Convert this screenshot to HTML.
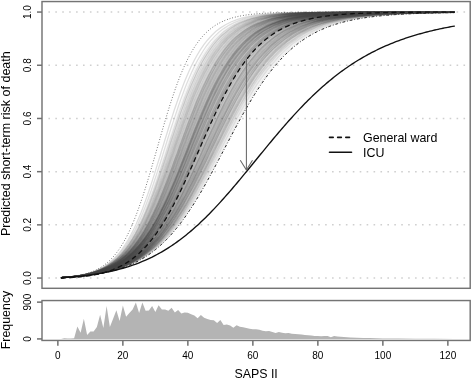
<!DOCTYPE html><html><head><meta charset="utf-8"><style>html,body{margin:0;padding:0;background:#fff;overflow:hidden}svg{display:block;filter:grayscale(1)}</style></head><body><svg width="472" height="380" viewBox="0 0 472 380" font-family='"Liberation Sans", sans-serif'>
<rect width="472" height="380" fill="#fff"/>
<line x1="48.4" y1="278.06" x2="470" y2="278.06" stroke="#cfcfcf" stroke-width="1.5" stroke-dasharray="1.6 5.318"/>
<line x1="48.4" y1="224.86" x2="470" y2="224.86" stroke="#cfcfcf" stroke-width="1.5" stroke-dasharray="1.6 5.318"/>
<line x1="48.4" y1="171.66" x2="470" y2="171.66" stroke="#cfcfcf" stroke-width="1.5" stroke-dasharray="1.6 5.318"/>
<line x1="48.4" y1="118.46" x2="470" y2="118.46" stroke="#cfcfcf" stroke-width="1.5" stroke-dasharray="1.6 5.318"/>
<line x1="48.4" y1="65.26" x2="470" y2="65.26" stroke="#cfcfcf" stroke-width="1.5" stroke-dasharray="1.6 5.318"/>
<line x1="48.4" y1="12.06" x2="470" y2="12.06" stroke="#cfcfcf" stroke-width="1.5" stroke-dasharray="1.6 5.318"/>
<defs><filter id="cap" filterUnits="userSpaceOnUse" x="0" y="0" width="472" height="380" color-interpolation-filters="sRGB"><feComponentTransfer><feFuncA type="table" tableValues="0 0.1 0.2 0.3 0.4 0.5 0.6 0.68 0.72 0.74 0.75"/></feComponentTransfer></filter></defs>
<g fill="none" stroke="#000" stroke-width="1.3" filter="url(#cap)">
<path d="M61.1 277.6l2.4-.2 6-.4 5.9-.6 6-.8 5.9-.9 5.9-1.2 5.8-1.5 5.7-1.8 5.6-2.2 5.4-2.6 5.2-3 4.9-3.4 4.7-3.7 4.4-4.1 4.1-4.4 3.9-4.6 3.6-4.7 3.4-5 3.3-5 3-5.2 3-5.2 2.8-5.3 2.7-5.4 2.6-5.4 2.5-5.4 2.5-5.5 2.4-5.5 2.3-5.5 2.3-5.6 2.3-5.5 2.3-5.6 2.2-5.5 2.2-5.6 2.3-5.6 2.2-5.5 2.2-5.6 2.3-5.6 2.3-5.5 2.3-5.6 2.3-5.5 2.4-5.5 2.5-5.4 2.5-5.5 2.6-5.4 2.7-5.4 2.8-5.3 2.9-5.2 3-5.2 3.2-5.1 3.4-4.9 3.5-4.9 3.8-4.6 4-4.5 4.3-4.2 4.5-4 4.7-3.7 5-3.3 5.3-2.9 5.4-2.6 5.6-2.2 5.7-1.9 5.8-1.5 5.8-1.3 5.9-1.1 5.9-.9 6-.7 6-.6 6-.5 5.9-.4 6-.3 6-.2 6-.2 6-.2 6-.1 6-.2 6 0 6-.1 6-.1 6 0 6-.1 6 0 6 0 6 0 6-.1 6 0 6 0 6 0 6 0 6 0 3.1 0" stroke-opacity="0.041"/>
<path d="M61.1 277.6l.8 0 5.9-.5 6-.5 6-.6 5.9-.9 5.9-1 5.9-1.3 5.8-1.5 5.7-1.9 5.5-2.3 5.4-2.6 5.2-3.1 5-3.3 4.6-3.8 4.5-4 4.2-4.3 3.9-4.6 3.7-4.7 3.5-4.8 3.4-5 3.1-5.1 3.1-5.2 2.9-5.2 2.8-5.3 2.7-5.4 2.6-5.4 2.6-5.4 2.5-5.4 2.5-5.5 2.4-5.5 2.4-5.5 2.3-5.5 2.4-5.6 2.3-5.5 2.4-5.5 2.3-5.5 2.3-5.6 2.4-5.5 2.4-5.5 2.4-5.5 2.5-5.4 2.5-5.5 2.5-5.4 2.7-5.4 2.7-5.4 2.8-5.3 2.9-5.2 3-5.2 3.1-5.1 3.3-5 3.5-5 3.6-4.7 3.8-4.6 4.1-4.4 4.3-4.2 4.5-4 4.8-3.6 5-3.3 5.2-3 5.4-2.6 5.6-2.3 5.6-1.9 5.8-1.7 5.8-1.4 5.9-1.1 5.9-1 6-.8 6-.7 5.9-.5 6-.5 6-.3 6-.3 6-.3 6-.2 6-.2 6-.1 6-.1 6-.1 6-.1 6-.1 6 0 6 0 6-.1 6 0 6 0 6-.1 6 0 6 0 6 0 1 0" stroke-opacity="0.013"/>
<path d="M61.1 277.6l3-.2 6-.5 6-.7 5.9-.8 5.9-1 5.9-1.4 5.7-1.6 5.7-2.1 5.4-2.5 5.2-2.9 5-3.4 4.7-3.8 4.3-4.1 4.1-4.4 3.8-4.6 3.6-4.9 3.3-4.9 3.1-5.2 3-5.2 2.8-5.3 2.7-5.3 2.6-5.4 2.5-5.5 2.4-5.5 2.4-5.5 2.2-5.6 2.3-5.5 2.2-5.6 2.1-5.6 2.2-5.6 2.1-5.6 2.1-5.7 2.1-5.6 2.1-5.6 2.1-5.6 2.2-5.6 2.1-5.6 2.2-5.6 2.2-5.6 2.3-5.5 2.3-5.6 2.4-5.5 2.5-5.4 2.6-5.5 2.6-5.3 2.8-5.4 2.9-5.2 3.1-5.2 3.2-5 3.4-4.9 3.7-4.8 3.9-4.5 4.2-4.4 4.4-4 4.7-3.7 5-3.3 5.2-3 5.5-2.5 5.6-2.2 5.7-1.8 5.8-1.5 5.9-1.2 5.9-1 5.9-.8 6-.6 6-.6 5.9-.4 6-.3 6-.3 6-.2 6-.2 6-.1 6-.1 6-.1 6-.1 6 0 6-.1 6 0 6 0 6 0 6-.1 6 0 6 0 6 0 6 0 6 0 6 0 6 0 6 0 6 0 .7 0" stroke-opacity="0.026"/>
<path d="M61.1 277.6l1.1-.1 6-.4 5.9-.5 6-.6 5.9-.8 6-.9 5.9-1.2 5.8-1.4 5.7-1.7 5.7-2 5.5-2.4 5.3-2.8 5.2-3 4.9-3.5 4.7-3.7 4.4-4.1 4.2-4.2 4-4.5 3.8-4.7 3.6-4.8 3.4-4.9 3.3-5 3.1-5.1 3-5.2 3-5.3 2.8-5.3 2.7-5.3 2.7-5.4 2.6-5.4 2.6-5.4 2.6-5.4 2.5-5.5 2.4-5.4 2.5-5.5 2.5-5.5 2.4-5.4 2.5-5.5 2.5-5.5 2.4-5.4 2.6-5.5 2.5-5.4 2.6-5.4 2.6-5.4 2.7-5.4 2.8-5.3 2.8-5.3 3-5.2 3-5.2 3.2-5.1 3.2-5 3.5-5 3.6-4.8 3.7-4.6 4-4.6 4.1-4.3 4.4-4.1 4.6-3.8 4.8-3.6 5.1-3.3 5.2-2.9 5.4-2.6 5.5-2.3 5.7-2 5.7-1.7 5.9-1.5 5.8-1.3 5.9-1 6-.9 5.9-.7 6-.6 6-.5 6-.4 5.9-.4 6-.3 6-.2 6-.2 6-.2 6-.2 6-.1 6-.1 6 0 6-.1 6-.1 6 0 6-.1 6 0 6 0 6 0 2.5 0" stroke-opacity="0.132"/>
<path d="M61.1 277.6l2.9-.2 6-.4 6-.5 5.9-.7 6-.8 5.9-1 5.9-1.3 5.8-1.4 5.7-1.8 5.6-2.1 5.5-2.5 5.3-2.8 5.1-3.2 4.9-3.5 4.6-3.8 4.4-4.1 4.2-4.3 3.9-4.5 3.8-4.7 3.5-4.8 3.4-4.9 3.3-5.1 3.1-5.1 3-5.2 2.9-5.3 2.8-5.2 2.8-5.4 2.7-5.3 2.6-5.4 2.6-5.5 2.5-5.4 2.5-5.4 2.5-5.5 2.5-5.5 2.5-5.4 2.4-5.5 2.5-5.5 2.5-5.4 2.5-5.5 2.5-5.4 2.6-5.4 2.6-5.4 2.7-5.4 2.7-5.4 2.8-5.3 2.9-5.2 2.9-5.3 3.1-5.1 3.2-5.1 3.3-5 3.5-4.9 3.6-4.8 3.8-4.6 4-4.5 4.3-4.2 4.4-4.1 4.6-3.8 4.9-3.5 5.1-3.2 5.3-2.8 5.4-2.6 5.5-2.2 5.7-2 5.8-1.7 5.8-1.4 5.9-1.2 5.9-1 5.9-.9 6-.7 6-.6 5.9-.5 6-.4 6-.3 6-.3 6-.3 6-.2 6-.1 6-.2 6-.1 6-.1 6 0 6-.1 6-.1 6 0 6-.1 6 0 6 0 6 0 .2 0" stroke-opacity="0.034"/>
<path d="M61.1 277.6l4-.3 6-.5 6-.7 5.9-.8 5.9-1.1 5.8-1.4 5.8-1.7 5.6-2.1 5.4-2.6 5.2-3 5-3.4 4.6-3.8 4.4-4.1 4-4.4 3.8-4.7 3.5-4.8 3.3-5 3.2-5.1 2.9-5.3 2.9-5.3 2.6-5.3 2.6-5.4 2.5-5.5 2.4-5.5 2.4-5.5 2.3-5.6 2.2-5.5 2.2-5.6 2.2-5.6 2.1-5.6 2.1-5.6 2.2-5.6 2.1-5.6 2.1-5.7 2.1-5.6 2.2-5.6 2.2-5.6 2.2-5.5 2.2-5.6 2.3-5.6 2.3-5.5 2.4-5.5 2.5-5.4 2.6-5.5 2.7-5.3 2.8-5.3 2.9-5.3 3.1-5.1 3.3-5 3.4-4.9 3.7-4.8 3.9-4.5 4.2-4.3 4.5-4 4.8-3.6 5-3.3 5.2-3 5.5-2.5 5.6-2.1 5.7-1.8 5.8-1.4 5.9-1.3 5.9-.9 6-.8 5.9-.7 6-.5 6-.4 6-.3 6-.3 6-.2 6-.2 6-.1 6-.1 6-.1 6-.1 6 0 6-.1 6 0 6 0 6 0 6-.1 6 0 6 0 6 0 6 0 6 0 6 0 6 0 6 0 5.3 0" stroke-opacity="0.046"/>
<path d="M61.1 277.6l3.2-.2 5.9-.5 6-.6 6-.7 5.9-.9 5.9-1.2 5.8-1.5 5.7-1.7 5.6-2.2 5.5-2.5 5.2-2.9 5-3.3 4.8-3.7 4.5-3.9 4.2-4.3 3.9-4.5 3.8-4.7 3.5-4.9 3.3-5 3.2-5.1 3-5.1 2.9-5.3 2.8-5.3 2.7-5.4 2.6-5.4 2.5-5.4 2.5-5.5 2.4-5.5 2.4-5.5 2.3-5.5 2.3-5.6 2.3-5.5 2.3-5.5 2.3-5.6 2.3-5.5 2.3-5.6 2.3-5.5 2.3-5.6 2.4-5.5 2.4-5.5 2.4-5.4 2.5-5.5 2.6-5.4 2.6-5.4 2.7-5.4 2.9-5.3 2.9-5.2 3-5.2 3.3-5 3.3-5 3.6-4.8 3.7-4.7 4-4.5 4.2-4.3 4.5-4 4.7-3.7 4.9-3.4 5.2-3 5.4-2.7 5.5-2.4 5.6-2 5.8-1.7 5.8-1.4 5.9-1.1 5.9-1 6-.8 5.9-.7 6-.5 6-.5 6-.3 6-.3 6-.3 6-.2 6-.1 6-.2 6-.1 6 0 6-.1 6-.1 6 0 6-.1 6 0 6 0 6 0 6-.1 6 0 6 0 6 0 6 0 .3 0" stroke-opacity="0.049"/>
<path d="M61.1 277.6l3.1-.3 6-.5 5.9-.7 6-1 5.8-1.3 5.8-1.6 5.6-2.1 5.4-2.6 5.1-3.2 4.8-3.6 4.4-4 4.1-4.4 3.8-4.7 3.4-4.9 3.3-5 2.9-5.3 2.8-5.3 2.7-5.4 2.5-5.4 2.3-5.5 2.3-5.6 2.2-5.6 2.1-5.6 2.1-5.6 2-5.7 2-5.6 1.9-5.7 1.9-5.7 1.9-5.7 1.9-5.7 1.8-5.7 1.9-5.7 1.9-5.7 1.9-5.7 1.9-5.7 1.9-5.7 1.9-5.6 2-5.7 2.1-5.6 2.1-5.6 2.2-5.6 2.2-5.6 2.4-5.5 2.4-5.5 2.6-5.4 2.7-5.4 2.9-5.2 3.1-5.1 3.4-5 3.6-4.8 3.8-4.6 4.2-4.3 4.6-3.9 4.8-3.6 5.1-3.1 5.4-2.6 5.6-2.2 5.8-1.7 5.8-1.4 5.9-1.1 5.9-.9 6-.7 6-.5 6-.4 5.9-.4 6-.2 6-.2 6-.1 6-.1 6-.1 6-.1 6-.1 6 0 6 0 6-.1 6 0 6 0 6 0 6 0 6 0 6 0 6 0 6 0 6 0 6 0 6 0 6 0 6 0 6 0 6 0 6 0 3.6 0" stroke-opacity="0.099"/>
<path d="M61.1 277.6l3.2-.2 6-.5 6-.6 5.9-.9 5.9-1 5.9-1.3 5.8-1.6 5.6-2 5.5-2.4 5.3-2.8 5-3.3 4.8-3.7 4.4-4 4.2-4.3 3.9-4.5 3.7-4.8 3.4-4.9 3.2-5.1 3.1-5.1 2.9-5.3 2.8-5.3 2.6-5.4 2.6-5.4 2.4-5.5 2.5-5.5 2.3-5.5 2.3-5.6 2.2-5.5 2.2-5.6 2.2-5.6 2.2-5.6 2.2-5.6 2.1-5.6 2.2-5.6 2.1-5.6 2.2-5.6 2.2-5.5 2.2-5.6 2.3-5.6 2.3-5.5 2.4-5.5 2.4-5.5 2.5-5.5 2.5-5.4 2.7-5.4 2.8-5.3 2.9-5.2 3.1-5.2 3.2-5 3.4-5 3.7-4.7 3.8-4.6 4.2-4.4 4.3-4.1 4.7-3.8 4.9-3.4 5.2-3 5.4-2.7 5.5-2.3 5.7-1.9 5.8-1.7 5.8-1.3 5.9-1.1 5.9-.8 6-.8 6-.5 6-.5 5.9-.4 6-.3 6-.2 6-.2 6-.2 6-.1 6-.1 6-.1 6-.1 6 0 6-.1 6 0 6 0 6 0 6-.1 6 0 6 0 6 0 6 0 6 0 6 0 6 0 4.9 0" stroke-opacity="0.065"/>
<path d="M61.1 277.6l4.7-.3 6-.5 6-.5 6-.7 5.9-.9 5.9-1 5.9-1.3 5.8-1.5 5.7-1.9 5.6-2.1 5.4-2.6 5.3-2.8 5.1-3.2 4.8-3.6 4.6-3.8 4.4-4.1 4.1-4.3 4-4.6 3.7-4.6 3.6-4.9 3.4-4.9 3.3-5 3.1-5.2 3-5.1 2.9-5.3 2.9-5.3 2.7-5.3 2.7-5.4 2.7-5.3 2.6-5.5 2.5-5.4 2.6-5.4 2.5-5.5 2.5-5.4 2.5-5.5 2.5-5.4 2.5-5.5 2.5-5.4 2.5-5.5 2.6-5.4 2.6-5.4 2.6-5.4 2.7-5.3 2.8-5.4 2.8-5.3 2.9-5.2 3-5.2 3.1-5.1 3.3-5.1 3.3-5 3.5-4.8 3.7-4.8 3.9-4.6 4-4.4 4.3-4.2 4.4-4.1 4.7-3.7 4.9-3.5 5.1-3.1 5.3-2.9 5.4-2.5 5.6-2.2 5.7-2 5.7-1.6 5.9-1.4 5.8-1.2 6-1 5.9-.9 6-.7 5.9-.6 6-.5 6-.4 6-.4 6-.3 6-.2 6-.2 6-.2 6-.1 6-.1 6-.1 6-.1 6-.1 6-.1 6 0 6 0 6-.1 6 0 3.5 0" stroke-opacity="0.134"/>
<path d="M61.1 277.6l1.1 0 6-.4 6-.5 5.9-.5 6-.7 5.9-.8 6-1 5.8-1.2 5.9-1.4 5.7-1.7 5.7-2 5.5-2.2 5.5-2.6 5.2-2.9 5.1-3.2 4.9-3.5 4.6-3.8 4.5-4 4.2-4.2 4.1-4.5 3.9-4.5 3.7-4.7 3.6-4.9 3.4-4.9 3.3-5 3.2-5.1 3.1-5.1 3-5.2 2.9-5.2 2.9-5.3 2.8-5.3 2.8-5.3 2.8-5.4 2.7-5.3 2.7-5.4 2.6-5.3 2.7-5.4 2.7-5.4 2.7-5.3 2.7-5.4 2.7-5.4 2.7-5.3 2.8-5.3 2.8-5.3 2.9-5.3 2.9-5.2 3-5.2 3.1-5.2 3.2-5.1 3.2-5 3.4-4.9 3.5-4.9 3.7-4.8 3.8-4.6 4-4.5 4.1-4.3 4.3-4.2 4.6-3.9 4.7-3.7 4.9-3.5 5.1-3.2 5.2-2.9 5.4-2.6 5.6-2.3 5.6-2 5.7-1.8 5.8-1.6 5.9-1.3 5.9-1.2 5.9-1 5.9-.8 6-.7 5.9-.6 6-.6 6-.4 6-.4 6-.3 6-.3 6-.2 6-.2 6-.1 6-.2 6-.1 6-.1 6-.1 6 0 6-.1 1.3 0" stroke-opacity="0.028"/>
<path d="M61.1 277.6l.7 0 6-.4 6-.5 5.9-.6 6-.7 5.9-.9 5.9-1.1 5.9-1.3 5.8-1.5 5.7-1.9 5.6-2.2 5.4-2.5 5.3-2.9 5.1-3.1 4.8-3.6 4.7-3.8 4.4-4 4.2-4.3 4-4.5 3.7-4.7 3.7-4.7 3.4-5 3.3-5 3.2-5 3.1-5.2 3-5.2 2.8-5.3 2.9-5.3 2.7-5.3 2.7-5.4 2.7-5.3 2.6-5.4 2.6-5.4 2.5-5.5 2.6-5.4 2.5-5.4 2.6-5.5 2.5-5.4 2.6-5.4 2.6-5.4 2.6-5.4 2.6-5.4 2.7-5.4 2.7-5.3 2.8-5.3 2.9-5.3 3-5.2 3-5.2 3.2-5.1 3.2-5 3.4-5 3.6-4.8 3.7-4.8 3.8-4.5 4.1-4.4 4.3-4.3 4.4-4 4.7-3.7 4.9-3.5 5.1-3.2 5.3-2.8 5.4-2.6 5.5-2.3 5.7-2 5.8-1.7 5.8-1.4 5.8-1.3 5.9-1 6-.9 5.9-.8 6-.6 6-.6 6-.4 5.9-.4 6-.3 6-.3 6-.2 6-.2 6-.1 6-.2 6-.1 6-.1 6 0 6-.1 6-.1 6 0 6 0 6-.1" stroke-opacity="0.149"/>
<path d="M61.1 277.6l5.6-.4 6-.6 6-.8 5.9-1 5.8-1.3 5.8-1.6 5.7-2.1 5.4-2.5 5.2-2.9 4.9-3.5 4.6-3.8 4.3-4.3 3.9-4.5 3.7-4.7 3.4-5 3.2-5 3-5.2 2.8-5.3 2.7-5.4 2.5-5.4 2.5-5.5 2.3-5.5 2.3-5.6 2.2-5.6 2.2-5.6 2.1-5.6 2.1-5.6 2-5.6 2-5.7 2-5.6 2-5.7 2-5.7 2-5.6 2-5.7 2.1-5.6 2-5.7 2.1-5.6 2.1-5.6 2.2-5.6 2.2-5.6 2.3-5.5 2.3-5.5 2.5-5.5 2.5-5.5 2.7-5.3 2.8-5.3 3-5.2 3.1-5.1 3.4-5 3.6-4.8 3.9-4.6 4.1-4.3 4.5-4 4.7-3.7 5.1-3.3 5.3-2.8 5.4-2.4 5.7-2 5.8-1.7 5.8-1.3 5.9-1.1 6-.8 5.9-.7 6-.5 6-.5 6-.3 6-.3 6-.2 6-.1 6-.2 6-.1 6 0 6-.1 6-.1 6 0 6 0 6 0 6-.1 6 0 6 0 6 0 6 0 6 0 6 0 6 0 6 0 6 0 6 0 6 0 6 0 2.2 0" stroke-opacity="0.041"/>
<path d="M61.1 277.6l5.8-.4 6-.6 5.9-.7 6-1 5.8-1.2 5.9-1.5 5.6-1.9 5.6-2.3 5.3-2.7 5.1-3.2 4.8-3.6 4.5-4 4.2-4.3 3.9-4.6 3.6-4.7 3.4-5 3.2-5 3-5.2 2.9-5.3 2.7-5.4 2.6-5.4 2.5-5.4 2.4-5.5 2.4-5.5 2.3-5.6 2.2-5.5 2.2-5.6 2.1-5.6 2.2-5.6 2.1-5.6 2.1-5.7 2.1-5.6 2-5.6 2.1-5.6 2.1-5.7 2.2-5.6 2.1-5.6 2.2-5.6 2.3-5.5 2.2-5.6 2.4-5.5 2.4-5.5 2.5-5.4 2.6-5.5 2.7-5.3 2.8-5.3 3-5.2 3.1-5.1 3.4-5 3.5-4.8 3.8-4.7 4.1-4.4 4.3-4.2 4.6-3.8 4.9-3.5 5.1-3.1 5.3-2.7 5.6-2.3 5.7-2 5.7-1.6 5.9-1.3 5.9-1 5.9-.9 6-.7 6-.5 6-.5 5.9-.3 6-.3 6-.2 6-.2 6-.2 6-.1 6-.1 6 0 6-.1 6-.1 6 0 6 0 6 0 6-.1 6 0 6 0 6 0 6 0 6 0 6 0 6 0 6 0 6 0 4.6 0" stroke-opacity="0.038"/>
<path d="M61.1 277.6l3-.2 6-.5 6-.7 5.9-.8 5.9-1.1 5.9-1.4 5.7-1.8 5.6-2.1 5.4-2.6 5.2-3.1 4.8-3.5 4.6-3.9 4.3-4.2 3.9-4.5 3.7-4.7 3.5-4.9 3.2-5.1 3-5.2 2.9-5.2 2.7-5.4 2.6-5.4 2.5-5.4 2.5-5.5 2.3-5.6 2.3-5.5 2.2-5.6 2.2-5.6 2.1-5.6 2.1-5.6 2.1-5.6 2.1-5.6 2-5.7 2.1-5.6 2.1-5.6 2-5.7 2.1-5.6 2.2-5.6 2.1-5.6 2.2-5.6 2.2-5.6 2.3-5.5 2.4-5.5 2.5-5.5 2.5-5.4 2.6-5.4 2.8-5.4 2.9-5.2 3.1-5.2 3.2-5 3.5-4.9 3.7-4.7 3.9-4.5 4.2-4.3 4.5-4 4.8-3.6 5.1-3.2 5.3-2.8 5.5-2.4 5.7-2 5.7-1.7 5.9-1.3 5.9-1.1 5.9-.9 6-.7 5.9-.6 6-.5 6-.3 6-.3 6-.2 6-.2 6-.2 6-.1 6-.1 6-.1 6 0 6-.1 6 0 6 0 6 0 6-.1 6 0 6 0 6 0 6 0 6 0 6 0 6 0 6 0 6 0 6 0 2.3 0" stroke-opacity="0.080"/>
<path d="M61.1 277.6l5.5-.5 6-.6 5.9-.8 5.9-1.2 5.8-1.5 5.7-1.9 5.5-2.4 5.2-3 4.8-3.5 4.6-3.9 4.1-4.3 3.8-4.7 3.5-4.9 3.2-5 3-5.2 2.8-5.4 2.6-5.4 2.5-5.4 2.3-5.5 2.3-5.6 2.1-5.6 2.1-5.6 2-5.7 2-5.7 1.9-5.6 1.9-5.7 1.8-5.7 1.9-5.8 1.8-5.7 1.8-5.7 1.8-5.7 1.8-5.7 1.8-5.7 1.9-5.8 1.9-5.7 1.8-5.7 2-5.6 2-5.7 2-5.6 2.1-5.7 2.2-5.6 2.2-5.5 2.4-5.5 2.5-5.5 2.6-5.4 2.8-5.3 3-5.2 3.2-5.1 3.4-4.9 3.8-4.7 4-4.4 4.5-4 4.7-3.7 5.1-3.2 5.3-2.7 5.6-2.2 5.7-1.9 5.8-1.4 5.9-1.1 6-.9 5.9-.7 6-.5 6-.4 6-.3 6-.3 6-.1 6-.2 6-.1 6-.1 6 0 6-.1 6 0 6 0 6-.1 6 0 6 0 6 0 6 0 6 0 6 0 6 0 6 0 6 0 6 0 6 0 6 0 6 0 6 0 6 0 6 0 6 0 3.3 0" stroke-opacity="0.014"/>
<path d="M61.1 277.6l1.9-.1 6-.5 6-.6 5.9-.7 5.9-.9 5.9-1.2 5.8-1.5 5.7-1.8 5.6-2.2 5.4-2.6 5.2-3.1 4.9-3.4 4.7-3.8 4.3-4.1 4.1-4.4 3.9-4.6 3.6-4.8 3.3-5 3.3-5 3-5.2 2.9-5.3 2.8-5.3 2.6-5.3 2.6-5.5 2.5-5.4 2.4-5.5 2.4-5.5 2.3-5.5 2.3-5.6 2.3-5.6 2.2-5.5 2.2-5.6 2.3-5.6 2.2-5.6 2.2-5.5 2.2-5.6 2.2-5.6 2.3-5.5 2.3-5.6 2.3-5.5 2.4-5.5 2.4-5.5 2.5-5.4 2.6-5.5 2.7-5.3 2.8-5.4 2.9-5.2 3-5.2 3.2-5.1 3.3-4.9 3.6-4.9 3.8-4.6 4-4.5 4.2-4.2 4.5-4 4.8-3.6 5-3.3 5.3-2.9 5.4-2.6 5.6-2.1 5.7-1.9 5.8-1.5 5.9-1.3 5.9-1 5.9-.9 6-.7 6-.5 5.9-.5 6-.4 6-.3 6-.2 6-.2 6-.2 6-.1 6-.1 6-.1 6 0 6-.1 6 0 6-.1 6 0 6 0 6-.1 6 0 6 0 6 0 6 0 6 0 6 0 4.3 0" stroke-opacity="0.094"/>
<path d="M61.1 277.6l.4 0 6-.4 6-.6 5.9-.6 6-.8 5.9-1.1 5.9-1.2 5.7-1.6 5.7-1.9 5.6-2.2 5.4-2.7 5.2-3 4.9-3.4 4.7-3.7 4.4-4.1 4.2-4.3 3.9-4.5 3.8-4.7 3.5-4.9 3.3-5 3.2-5.1 3-5.1 2.9-5.3 2.8-5.3 2.7-5.4 2.6-5.4 2.6-5.4 2.5-5.4 2.4-5.5 2.4-5.5 2.4-5.5 2.4-5.5 2.3-5.6 2.3-5.5 2.3-5.5 2.4-5.6 2.3-5.5 2.4-5.5 2.3-5.5 2.5-5.5 2.4-5.5 2.5-5.4 2.6-5.5 2.6-5.4 2.7-5.3 2.8-5.3 2.9-5.3 3-5.2 3.1-5.1 3.3-5 3.4-4.9 3.7-4.8 3.8-4.6 4.1-4.4 4.2-4.2 4.6-4 4.8-3.6 5-3.3 5.2-3 5.4-2.6 5.5-2.3 5.7-1.9 5.8-1.7 5.8-1.3 5.9-1.2 5.9-1 6-.8 5.9-.6 6-.6 6-.4 6-.4 6-.3 6-.2 5.9-.2 6-.2 6-.1 6-.1 6-.1 6-.1 6-.1 6 0 6-.1 6 0 6 0 6 0 6-.1 6 0 6 0 6 0 1.7 0" stroke-opacity="0.042"/>
<path d="M61.1 277.6l2.8-.3 6-.5 5.9-.8 5.9-1 5.9-1.4 5.7-1.8 5.5-2.4 5.2-2.9 4.9-3.5 4.6-3.9 4.1-4.3 3.8-4.7 3.4-4.9 3.2-5.1 2.9-5.2 2.7-5.4 2.6-5.4 2.4-5.5 2.3-5.6 2.1-5.6 2.1-5.6 2-5.6 2-5.7 1.9-5.7 1.8-5.7 1.9-5.7 1.7-5.8 1.8-5.7 1.8-5.7 1.7-5.8 1.8-5.7 1.7-5.7 1.8-5.8 1.7-5.7 1.8-5.7 1.9-5.8 1.8-5.7 1.9-5.6 2-5.7 2-5.7 2.1-5.6 2.2-5.6 2.3-5.5 2.4-5.5 2.5-5.5 2.7-5.3 2.9-5.3 3.1-5.1 3.4-5 3.7-4.7 4-4.5 4.3-4.1 4.8-3.7 5-3.2 5.4-2.7 5.5-2.2 5.8-1.8 5.8-1.4 5.9-1.1 6-.8 5.9-.6 6-.5 6-.4 6-.3 6-.2 6-.1 6-.2 6-.1 6 0 6-.1 6 0 6 0 6-.1 6 0 6 0 6 0 6 0 6 0 6 0 6 0 6 0 6 0 6 0 6 0 6 0 6 0 6 0 6 0 6 0 6 0 6 0 6 0 2.6 0" stroke-opacity="0.135"/>
<path d="M61.1 277.6l4.6-.3 5.9-.5 6-.6 6-.7 5.9-.9 5.9-1.1 5.8-1.4 5.8-1.7 5.7-2 5.5-2.3 5.3-2.8 5.1-3.1 4.9-3.4 4.7-3.8 4.4-4.1 4.2-4.3 3.9-4.5 3.7-4.7 3.6-4.9 3.3-4.9 3.3-5.1 3-5.2 3-5.2 2.8-5.3 2.8-5.3 2.7-5.3 2.6-5.4 2.6-5.5 2.5-5.4 2.4-5.5 2.5-5.5 2.4-5.5 2.4-5.5 2.4-5.5 2.4-5.5 2.4-5.5 2.4-5.4 2.4-5.5 2.5-5.5 2.5-5.5 2.5-5.4 2.6-5.4 2.6-5.4 2.7-5.4 2.8-5.3 2.9-5.3 3-5.2 3.1-5.1 3.2-5.1 3.4-4.9 3.5-4.9 3.7-4.7 4-4.5 4.1-4.3 4.4-4.2 4.6-3.8 4.8-3.6 5-3.2 5.3-3 5.4-2.5 5.5-2.3 5.7-1.9 5.8-1.7 5.8-1.4 5.9-1.2 5.9-1 6-.8 5.9-.7 6-.5 6-.5 6-.4 6-.3 6-.3 5.9-.2 6-.2 6-.1 6-.2 6-.1 6 0 6-.1 6-.1 6 0 6-.1 6 0 6 0 6 0 6-.1 6 0 1.1 0" stroke-opacity="0.127"/>
<path d="M61.1 277.6l4.6-.3 5.9-.5 6-.5 6-.8 5.9-.8 5.9-1.1 5.9-1.4 5.7-1.6 5.7-2 5.5-2.3 5.4-2.6 5.2-3.1 5-3.3 4.7-3.7 4.4-4 4.3-4.3 4-4.5 3.8-4.6 3.6-4.8 3.4-4.9 3.3-5.1 3.1-5.1 3-5.2 2.9-5.2 2.8-5.3 2.7-5.4 2.7-5.4 2.6-5.4 2.5-5.4 2.6-5.5 2.4-5.4 2.5-5.5 2.4-5.5 2.5-5.5 2.4-5.4 2.4-5.5 2.4-5.5 2.5-5.5 2.5-5.5 2.5-5.4 2.5-5.4 2.6-5.4 2.7-5.4 2.7-5.4 2.8-5.3 2.9-5.2 3-5.3 3.1-5.1 3.2-5.1 3.4-4.9 3.5-4.9 3.7-4.7 3.9-4.5 4.1-4.4 4.3-4.2 4.6-3.9 4.8-3.6 5-3.3 5.2-3 5.3-2.7 5.6-2.3 5.6-2 5.7-1.8 5.9-1.5 5.8-1.2 5.9-1.1 6-.8 5.9-.8 6-.6 6-.5 6-.4 5.9-.4 6-.2 6-.3 6-.2 6-.1 6-.2 6-.1 6-.1 6-.1 6 0 6-.1 6 0 6-.1 6 0 6 0 6 0 6-.1 .1 0" stroke-opacity="0.110"/>
<path d="M61.1 277.6l5.1-.3 6-.5 5.9-.6 6-.8 5.9-1 5.9-1.2 5.8-1.4 5.8-1.8 5.6-2.1 5.4-2.5 5.3-2.9 5-3.2 4.8-3.6 4.6-3.9 4.2-4.2 4.1-4.5 3.8-4.6 3.6-4.8 3.4-4.9 3.3-5.1 3.1-5.1 3-5.2 2.8-5.3 2.8-5.3 2.7-5.4 2.6-5.4 2.5-5.4 2.5-5.5 2.5-5.5 2.4-5.4 2.4-5.6 2.3-5.5 2.4-5.5 2.3-5.5 2.4-5.5 2.4-5.5 2.3-5.6 2.4-5.5 2.4-5.4 2.5-5.5 2.5-5.5 2.6-5.4 2.6-5.4 2.7-5.4 2.7-5.3 2.9-5.2 3-5.3 3.1-5.1 3.2-5 3.4-5 3.6-4.8 3.8-4.7 4-4.4 4.2-4.3 4.4-4 4.7-3.8 4.9-3.4 5.2-3.1 5.3-2.8 5.5-2.4 5.6-2.1 5.7-1.8 5.8-1.5 5.9-1.3 5.9-1 5.9-.9 6-.7 6-.6 6-.5 5.9-.4 6-.4 6-.3 6-.2 6-.2 6-.1 6-.2 6-.1 6 0 6-.1 6-.1 6 0 6-.1 6 0 6 0 6 0 6-.1 6 0 6 0 2.1 0" stroke-opacity="0.106"/>
<path d="M61.1 277.6l4.4-.3 6-.6 5.9-.7 6-.9 5.8-1.2 5.8-1.6 5.7-1.9 5.5-2.4 5.3-2.9 5-3.3 4.7-3.7 4.3-4.1 4.1-4.5 3.8-4.6 3.4-4.9 3.3-5.1 3.1-5.1 2.8-5.3 2.8-5.3 2.6-5.4 2.5-5.5 2.3-5.5 2.4-5.5 2.2-5.6 2.2-5.6 2.1-5.6 2.1-5.6 2.1-5.7 2-5.6 2-5.6 2-5.7 2-5.7 2.1-5.6 2-5.7 2-5.6 2.1-5.6 2-5.7 2.2-5.6 2.1-5.6 2.2-5.6 2.3-5.5 2.4-5.5 2.4-5.5 2.5-5.5 2.7-5.3 2.8-5.3 2.9-5.3 3.1-5.1 3.3-5 3.6-4.8 3.8-4.7 4.1-4.4 4.3-4.1 4.7-3.8 5-3.3 5.2-3 5.4-2.5 5.6-2.2 5.8-1.7 5.8-1.5 5.9-1.1 5.9-.9 5.9-.8 6-.5 6-.5 6-.4 6-.3 6-.2 6-.2 6-.1 6-.1 6-.1 6-.1 6 0 6-.1 6 0 6 0 6-.1 6 0 6 0 6 0 6 0 6 0 6 0 6 0 6 0 6 0 6 0 6 0 6 0 3 0" stroke-opacity="0.051"/>
<path d="M61.1 277.6l1-.1 6-.4 6-.6 5.9-.7 6-.9 5.9-1.1 5.8-1.5 5.7-1.7 5.6-2.2 5.4-2.5 5.3-3 4.9-3.3 4.7-3.8 4.4-4 4.2-4.4 3.8-4.6 3.7-4.7 3.4-5 3.2-5 3.1-5.2 2.9-5.2 2.8-5.3 2.7-5.4 2.6-5.4 2.5-5.4 2.5-5.5 2.4-5.5 2.3-5.5 2.3-5.6 2.3-5.5 2.2-5.6 2.2-5.6 2.2-5.6 2.2-5.5 2.2-5.6 2.3-5.6 2.2-5.6 2.3-5.5 2.3-5.6 2.3-5.5 2.4-5.5 2.4-5.5 2.5-5.4 2.6-5.5 2.6-5.3 2.8-5.4 2.8-5.2 3.1-5.2 3.1-5.1 3.3-5 3.6-4.9 3.7-4.7 4-4.5 4.2-4.2 4.5-4 4.7-3.7 5-3.4 5.2-2.9 5.4-2.6 5.6-2.3 5.6-1.9 5.8-1.5 5.9-1.4 5.9-1 5.9-.9 6-.7 6-.6 5.9-.5 6-.4 6-.3 6-.3 6-.2 6-.1 6-.2 6-.1 6-.1 6 0 6-.1 6 0 6-.1 6 0 6 0 6-.1 6 0 6 0 6 0 6 0 6 0 6 0 5.1 0" stroke-opacity="0.117"/>
<path d="M61.1 277.6l1-.1 6-.4 6-.5 5.9-.7 6-.8 5.9-1 5.9-1.2 5.8-1.6 5.7-1.8 5.5-2.2 5.5-2.6 5.2-2.9 5-3.3 4.7-3.7 4.5-4 4.3-4.2 4-4.5 3.8-4.6 3.6-4.8 3.4-5 3.2-5 3.1-5.2 3-5.2 2.8-5.2 2.8-5.4 2.7-5.3 2.6-5.4 2.6-5.5 2.5-5.4 2.4-5.5 2.5-5.5 2.4-5.5 2.3-5.5 2.4-5.5 2.4-5.5 2.4-5.5 2.3-5.5 2.4-5.5 2.4-5.5 2.5-5.5 2.5-5.5 2.5-5.4 2.6-5.4 2.6-5.4 2.8-5.3 2.8-5.3 2.9-5.3 3-5.2 3.2-5.1 3.2-5 3.5-4.9 3.6-4.8 3.8-4.6 4.1-4.4 4.2-4.3 4.5-3.9 4.8-3.7 4.9-3.4 5.2-3.1 5.3-2.7 5.6-2.3 5.6-2.1 5.7-1.7 5.9-1.5 5.8-1.2 5.9-1.1 6-.8 5.9-.8 6-.6 6-.4 6-.4 6-.4 5.9-.3 6-.2 6-.2 6-.1 6-.1 6-.2 6 0 6-.1 6-.1 6 0 6-.1 6 0 6 0 6 0 6-.1 6 0 5.6 0" stroke-opacity="0.140"/>
<path d="M61.1 277.6l3.6-.2 6-.4 5.9-.6 6-.6 6-.8 5.9-1 5.9-1.1 5.8-1.5 5.8-1.6 5.6-2 5.5-2.3 5.4-2.7 5.2-3 5-3.3 4.8-3.6 4.6-3.9 4.3-4.2 4.1-4.4 3.9-4.5 3.7-4.7 3.6-4.8 3.4-5 3.3-5 3.1-5.1 3.1-5.2 2.9-5.2 2.9-5.3 2.8-5.3 2.7-5.3 2.7-5.4 2.7-5.4 2.6-5.4 2.6-5.4 2.6-5.4 2.5-5.4 2.6-5.4 2.5-5.5 2.6-5.4 2.6-5.4 2.6-5.4 2.6-5.4 2.7-5.4 2.7-5.3 2.8-5.3 2.8-5.3 2.9-5.3 3-5.2 3.1-5.1 3.2-5.1 3.4-5 3.4-4.9 3.6-4.8 3.8-4.6 4-4.5 4.1-4.4 4.4-4.1 4.5-3.9 4.8-3.7 5-3.3 5.1-3.1 5.3-2.7 5.5-2.5 5.6-2.2 5.7-1.8 5.8-1.7 5.8-1.3 5.9-1.2 5.9-1 6-.9 5.9-.7 6-.6 6-.5 6-.4 5.9-.4 6-.3 6-.2 6-.2 6-.2 6-.2 6-.1 6-.1 6-.1 6-.1 6 0 6-.1 6 0 6-.1 2.7 0" stroke-opacity="0.055"/>
<path d="M61.1 277.6l5.6-.4 6-.5 6-.7 5.9-.8 5.9-1 5.9-1.3 5.8-1.6 5.6-1.9 5.6-2.3 5.4-2.7 5.1-3 4.9-3.5 4.6-3.8 4.4-4.1 4.1-4.4 3.8-4.6 3.7-4.8 3.4-4.9 3.3-5 3.1-5.2 2.9-5.2 2.9-5.3 2.7-5.3 2.6-5.4 2.6-5.4 2.5-5.5 2.4-5.5 2.4-5.5 2.4-5.5 2.3-5.5 2.3-5.6 2.3-5.5 2.3-5.6 2.3-5.5 2.3-5.6 2.3-5.5 2.3-5.5 2.3-5.6 2.4-5.5 2.4-5.5 2.5-5.4 2.5-5.5 2.6-5.4 2.6-5.4 2.8-5.3 2.9-5.3 2.9-5.2 3.2-5.1 3.2-5 3.5-4.9 3.6-4.8 3.9-4.6 4-4.4 4.4-4.2 4.5-3.9 4.8-3.6 5.1-3.2 5.2-2.9 5.5-2.5 5.6-2.2 5.7-1.9 5.8-1.5 5.8-1.3 5.9-1.1 5.9-.9 6-.7 6-.6 6-.5 5.9-.4 6-.4 6-.2 6-.3 6-.1 6-.2 6-.1 6-.1 6-.1 6 0 6-.1 6 0 6-.1 6 0 6 0 6-.1 6 0 6 0 6 0 6 0 4 0" stroke-opacity="0.030"/>
<path d="M61.1 277.6l3.1-.2 6-.4 6-.5 5.9-.5 6-.7 5.9-.9 5.9-1 5.9-1.2 5.8-1.5 5.8-1.7 5.6-2 5.6-2.3 5.4-2.6 5.2-2.9 5.1-3.2 4.9-3.5 4.7-3.7 4.4-4 4.3-4.3 4.1-4.4 3.9-4.5 3.7-4.7 3.6-4.8 3.5-4.9 3.3-5 3.2-5.1 3.2-5.1 3-5.1 3-5.3 2.9-5.2 2.9-5.3 2.8-5.3 2.8-5.3 2.7-5.3 2.8-5.4 2.7-5.3 2.7-5.4 2.7-5.3 2.7-5.4 2.7-5.3 2.8-5.3 2.8-5.4 2.8-5.3 2.9-5.2 2.9-5.3 2.9-5.2 3.1-5.2 3.1-5.1 3.2-5.1 3.3-5 3.4-4.9 3.6-4.8 3.7-4.8 3.8-4.6 4-4.5 4.2-4.3 4.3-4.1 4.6-3.9 4.7-3.7 4.9-3.4 5.1-3.2 5.2-2.9 5.4-2.6 5.6-2.4 5.6-2 5.7-1.9 5.8-1.5 5.9-1.4 5.8-1.2 5.9-1 6-.9 5.9-.7 6-.6 6-.6 6-.4 6-.4 5.9-.4 6-.3 6-.2 6-.2 6-.2 6-.1 6-.1 6-.1 6-.1 6-.1 4.1-.1" stroke-opacity="0.021"/>
<path d="M61.1 277.6l5.8-.5 6-.6 5.9-.7 5.9-1.1 5.9-1.3 5.7-1.7 5.6-2.2 5.4-2.6 5.1-3.2 4.8-3.5 4.5-4 4.1-4.4 3.9-4.6 3.5-4.8 3.3-5 3.1-5.2 2.9-5.3 2.7-5.3 2.6-5.4 2.4-5.5 2.4-5.5 2.3-5.6 2.2-5.5 2.1-5.6 2.1-5.7 2.1-5.6 2-5.7 2-5.6 2-5.7 1.9-5.7 2-5.6 1.9-5.7 2-5.7 1.9-5.6 2-5.7 2-5.7 2.1-5.6 2-5.6 2.2-5.6 2.2-5.6 2.2-5.6 2.3-5.5 2.5-5.5 2.5-5.4 2.7-5.4 2.8-5.3 3-5.2 3.1-5.1 3.4-5 3.7-4.7 3.9-4.6 4.2-4.2 4.6-3.9 4.8-3.6 5.1-3.1 5.4-2.7 5.6-2.2 5.7-1.9 5.8-1.5 5.9-1.2 5.9-.9 5.9-.8 6-.6 6-.5 6-.3 6-.3 6-.2 6-.2 6-.1 6-.1 6-.1 6-.1 6-.1 6 0 6 0 6 0 6-.1 6 0 6 0 6 0 6 0 6 0 6 0 6 0 6 0 6 0 6 0 6 0 6 0 6 0 3.8 0" stroke-opacity="0.091"/>
<path d="M61.1 277.6l4.8-.4 6-.6 5.9-.8 5.9-1.1 5.9-1.4 5.7-1.9 5.5-2.3 5.2-2.9 5-3.4 4.6-3.9 4.2-4.2 3.9-4.6 3.5-4.9 3.3-5 3-5.2 2.8-5.3 2.7-5.3 2.5-5.5 2.4-5.5 2.3-5.6 2.1-5.5 2.1-5.7 2.1-5.6 2-5.7 1.9-5.6 1.9-5.7 1.9-5.7 1.8-5.7 1.9-5.8 1.8-5.7 1.8-5.7 1.8-5.7 1.9-5.7 1.8-5.7 1.9-5.7 1.9-5.7 1.9-5.7 2-5.7 2-5.6 2.1-5.6 2.2-5.6 2.2-5.6 2.4-5.5 2.5-5.5 2.6-5.4 2.8-5.3 2.9-5.2 3.2-5.1 3.4-4.9 3.7-4.7 4-4.5 4.4-4.1 4.7-3.7 5-3.3 5.3-2.8 5.5-2.4 5.7-1.9 5.8-1.5 5.9-1.2 5.9-.9 6-.7 6-.6 6-.4 6-.3 5.9-.3 6-.2 6-.1 6-.2 6 0 6-.1 6-.1 6 0 6 0 6-.1 6 0 6 0 6 0 6 0 6 0 6 0 6 0 6 0 6 0 6 0 6 0 6 0 6 0 6 0 6 0 6 0 6 0 3.6 0" stroke-opacity="0.049"/>
<path d="M61.1 277.6l4.8-.3 6-.6 6-.6 5.9-.9 5.9-1 5.8-1.4 5.8-1.7 5.6-2 5.5-2.5 5.3-2.8 5-3.3 4.7-3.7 4.5-4 4.1-4.3 3.9-4.6 3.7-4.8 3.4-4.9 3.3-5 3.1-5.2 2.9-5.2 2.8-5.3 2.6-5.4 2.6-5.4 2.5-5.5 2.4-5.5 2.4-5.5 2.3-5.5 2.3-5.6 2.2-5.5 2.3-5.6 2.2-5.6 2.1-5.6 2.2-5.6 2.2-5.6 2.2-5.5 2.2-5.6 2.2-5.6 2.3-5.6 2.3-5.5 2.3-5.5 2.4-5.5 2.5-5.5 2.5-5.4 2.6-5.4 2.7-5.4 2.8-5.3 3-5.2 3.1-5.1 3.3-5.1 3.4-4.9 3.7-4.7 3.9-4.6 4.2-4.3 4.4-4.1 4.7-3.7 4.9-3.4 5.2-3 5.4-2.7 5.5-2.3 5.7-1.9 5.8-1.6 5.8-1.4 5.9-1 6-.9 5.9-.8 6-.6 6-.4 5.9-.4 6-.3 6-.3 6-.2 6-.2 6-.1 6-.1 6-.1 6 0 6-.1 6 0 6-.1 6 0 6 0 6-.1 6 0 6 0 6 0 6 0 6 0 6 0 6 0 2.3 0" stroke-opacity="0.109"/>
<path d="M61.1 277.6l3.9-.3 5.9-.5 6-.7 5.9-.9 5.9-1.1 5.8-1.5 5.8-1.8 5.5-2.3 5.4-2.7 5-3.2 4.8-3.6 4.5-4 4.2-4.3 3.9-4.6 3.6-4.7 3.3-5 3.2-5.1 3-5.2 2.8-5.3 2.7-5.4 2.5-5.4 2.5-5.5 2.4-5.5 2.3-5.5 2.2-5.6 2.2-5.6 2.1-5.6 2.2-5.6 2-5.6 2.1-5.7 2.1-5.6 2-5.7 2-5.6 2.1-5.6 2.1-5.7 2-5.6 2.1-5.6 2.2-5.6 2.2-5.6 2.2-5.6 2.3-5.5 2.4-5.5 2.4-5.5 2.6-5.4 2.6-5.4 2.8-5.3 2.9-5.3 3.1-5.1 3.3-5 3.5-4.9 3.7-4.7 4-4.5 4.3-4.2 4.6-3.8 4.9-3.5 5.1-3.2 5.4-2.6 5.5-2.3 5.7-1.9 5.8-1.6 5.9-1.3 5.9-1 5.9-.8 6-.7 5.9-.5 6-.4 6-.4 6-.2 6-.2 6-.2 6-.1 6-.1 6-.1 6-.1 6 0 6-.1 6 0 6 0 6-.1 6 0 6 0 6 0 6 0 6 0 6 0 6 0 6 0 6 0 6 0 6 0 2.2 0" stroke-opacity="0.145"/>
<path d="M61.1 277.6l2.6-.2 6-.5 5.9-.7 6-.9 5.8-1.3 5.8-1.5 5.7-2 5.5-2.5 5.2-3 4.9-3.4 4.5-3.9 4.2-4.3 3.9-4.6 3.6-4.8 3.3-5 3.1-5.1 2.9-5.3 2.7-5.3 2.6-5.5 2.4-5.4 2.4-5.6 2.3-5.5 2.1-5.6 2.2-5.6 2-5.6 2-5.7 2-5.7 2-5.6 1.9-5.7 1.9-5.7 1.9-5.7 1.9-5.7 1.9-5.7 2-5.7 1.9-5.6 1.9-5.7 2-5.7 2.1-5.6 2-5.6 2.2-5.7 2.2-5.5 2.2-5.6 2.4-5.5 2.4-5.5 2.6-5.4 2.7-5.3 2.9-5.3 3.1-5.2 3.3-5 3.5-4.8 3.8-4.6 4.2-4.4 4.4-4.1 4.8-3.6 5-3.2 5.3-2.8 5.5-2.4 5.7-1.9 5.8-1.5 5.9-1.3 5.9-.9 6-.8 5.9-.6 6-.5 6-.4 6-.2 6-.3 6-.1 6-.2 6-.1 6-.1 6 0 6-.1 6 0 6 0 6-.1 6 0 6 0 6 0 6 0 6 0 6 0 6 0 6 0 6 0 6 0 6 0 6 0 6 0 6 0 6 0 2.6 0" stroke-opacity="0.068"/>
<path d="M61.1 277.6l4.2-.2 5.9-.5 6-.5 6-.6 5.9-.8 6-.9 5.8-1.2 5.9-1.3 5.8-1.7 5.7-1.9 5.5-2.2 5.5-2.5 5.2-2.9 5.1-3.2 4.9-3.5 4.6-3.8 4.5-4 4.2-4.3 4-4.4 3.9-4.6 3.7-4.8 3.5-4.8 3.4-5 3.2-5 3.2-5.1 3-5.2 3-5.2 2.9-5.3 2.8-5.3 2.8-5.3 2.7-5.3 2.7-5.4 2.6-5.4 2.7-5.4 2.6-5.4 2.6-5.4 2.6-5.4 2.6-5.4 2.7-5.3 2.6-5.4 2.7-5.4 2.7-5.3 2.8-5.4 2.8-5.3 2.9-5.2 2.9-5.3 3.1-5.1 3.1-5.2 3.2-5 3.3-5 3.5-4.9 3.6-4.8 3.7-4.7 4-4.5 4.1-4.4 4.3-4.2 4.5-4 4.7-3.7 4.9-3.5 5.1-3.1 5.2-2.9 5.4-2.6 5.6-2.3 5.6-2.1 5.7-1.7 5.8-1.6 5.9-1.3 5.9-1.1 5.9-.9 6-.8 5.9-.7 6-.6 6-.5 6-.4 5.9-.4 6-.3 6-.2 6-.2 6-.2 6-.1 6-.2 6-.1 6-.1 6 0 6-.1 6-.1 6 0 .1 0" stroke-opacity="0.128"/>
<path d="M61.1 277.6l2-.1 6-.4 6-.5 5.9-.6 6-.8 5.9-.9 5.9-1.2 5.9-1.3 5.7-1.7 5.7-1.9 5.6-2.3 5.4-2.6 5.2-3 5-3.3 4.8-3.6 4.5-3.9 4.4-4.1 4.1-4.4 3.9-4.5 3.7-4.7 3.6-4.9 3.4-4.9 3.3-5.1 3.1-5.1 3-5.1 3-5.3 2.8-5.3 2.8-5.3 2.7-5.3 2.7-5.4 2.6-5.4 2.6-5.4 2.6-5.4 2.5-5.5 2.6-5.4 2.5-5.4 2.5-5.5 2.6-5.4 2.5-5.4 2.6-5.5 2.6-5.4 2.7-5.3 2.6-5.4 2.8-5.3 2.8-5.3 2.9-5.3 3-5.2 3-5.2 3.2-5.1 3.3-5 3.4-4.9 3.6-4.8 3.7-4.7 4-4.5 4.1-4.4 4.3-4.2 4.5-3.9 4.8-3.7 4.9-3.3 5.2-3.1 5.3-2.8 5.5-2.5 5.6-2.1 5.7-1.9 5.7-1.7 5.9-1.3 5.9-1.2 5.9-1 5.9-.9 6-.7 5.9-.6 6-.5 6-.4 6-.3 6-.3 6-.3 6-.2 6-.2 6-.1 6-.1 6-.1 6-.1 6-.1 6 0 6-.1 6 0 6-.1 5 0" stroke-opacity="0.104"/>
<path d="M61.1 277.6l1.3-.1 5.9-.4 6-.6 6-.8 5.9-.9 5.9-1.2 5.8-1.5 5.7-1.8 5.6-2.3 5.3-2.6 5.2-3.1 4.8-3.5 4.6-3.9 4.3-4.2 4.1-4.4 3.7-4.7 3.6-4.8 3.3-5 3.1-5.2 3-5.2 2.8-5.3 2.7-5.3 2.6-5.4 2.6-5.4 2.4-5.5 2.4-5.5 2.3-5.6 2.3-5.5 2.2-5.6 2.3-5.6 2.1-5.5 2.2-5.6 2.2-5.6 2.2-5.6 2.1-5.6 2.2-5.6 2.2-5.6 2.2-5.6 2.3-5.5 2.3-5.6 2.3-5.5 2.4-5.5 2.5-5.4 2.6-5.5 2.6-5.4 2.8-5.3 2.8-5.3 3.1-5.1 3.1-5.1 3.4-5 3.5-4.8 3.8-4.7 4-4.5 4.3-4.2 4.6-3.9 4.8-3.6 5-3.2 5.3-2.8 5.5-2.5 5.6-2.1 5.8-1.7 5.8-1.5 5.9-1.1 5.9-1 5.9-.8 6-.7 6-.5 6-.4 5.9-.3 6-.3 6-.2 6-.2 6-.1 6-.2 6-.1 6 0 6-.1 6 0 6-.1 6 0 6 0 6-.1 6 0 6 0 6 0 6 0 6 0 6 0 6 0 6 0 .4 0" stroke-opacity="0.087"/>
<path d="M61.1 277.6l4.6-.3 6-.6 6-.6 5.9-.9 5.9-1.1 5.8-1.4 5.8-1.7 5.6-2.1 5.4-2.5 5.2-3 5-3.4 4.7-3.8 4.3-4.1 4.1-4.4 3.8-4.6 3.6-4.8 3.3-5 3.2-5.1 3-5.2 2.8-5.3 2.8-5.3 2.6-5.4 2.5-5.5 2.4-5.4 2.4-5.6 2.3-5.5 2.3-5.6 2.2-5.5 2.2-5.6 2.2-5.6 2.1-5.6 2.2-5.6 2.1-5.6 2.2-5.6 2.1-5.6 2.2-5.6 2.2-5.6 2.2-5.6 2.3-5.5 2.3-5.6 2.3-5.5 2.5-5.5 2.5-5.4 2.6-5.4 2.7-5.4 2.8-5.3 2.9-5.2 3.1-5.1 3.3-5.1 3.5-4.9 3.7-4.7 3.9-4.5 4.2-4.3 4.5-4 4.7-3.7 5-3.3 5.2-2.9 5.5-2.6 5.6-2.2 5.7-1.8 5.8-1.5 5.9-1.2 5.9-1 5.9-.9 6-.6 6-.5 5.9-.5 6-.3 6-.3 6-.2 6-.2 6-.1 6-.2 6-.1 6 0 6-.1 6 0 6-.1 6 0 6 0 6-.1 6 0 6 0 6 0 6 0 6 0 6 0 6 0 6 0 3.9 0" stroke-opacity="0.017"/>
<path d="M61.1 277.6l4.4-.3 5.9-.5 6-.6 6-.7 5.9-.9 5.9-1.2 5.8-1.4 5.8-1.7 5.6-2.1 5.5-2.4 5.3-2.8 5.1-3.2 4.8-3.6 4.6-3.8 4.3-4.2 4.1-4.4 3.8-4.6 3.7-4.7 3.4-5 3.3-5 3.2-5.1 3-5.2 2.9-5.2 2.7-5.4 2.7-5.3 2.7-5.4 2.5-5.4 2.5-5.5 2.5-5.5 2.4-5.4 2.4-5.5 2.4-5.6 2.4-5.5 2.3-5.5 2.4-5.5 2.3-5.5 2.4-5.5 2.4-5.5 2.4-5.5 2.5-5.5 2.5-5.5 2.5-5.4 2.7-5.4 2.6-5.3 2.8-5.4 2.9-5.2 2.9-5.3 3.1-5.1 3.2-5.1 3.4-4.9 3.6-4.8 3.7-4.7 4-4.5 4.2-4.4 4.4-4 4.6-3.8 4.9-3.5 5.1-3.2 5.3-2.8 5.4-2.5 5.6-2.1 5.8-1.9 5.7-1.5 5.9-1.3 5.9-1.1 5.9-.9 6-.8 6-.6 5.9-.5 6-.5 6-.3 6-.3 6-.2 6-.2 6-.2 6-.1 6-.1 6-.1 6-.1 6-.1 6 0 6 0 6-.1 6 0 6 0 6-.1 6 0 6 0 2.6 0" stroke-opacity="0.010"/>
<path d="M61.1 277.6l5.7-.4 6-.6 6-.7 5.9-1 5.9-1.2 5.8-1.6 5.6-1.9 5.5-2.4 5.3-2.8 5.1-3.3 4.7-3.7 4.4-4 4.1-4.4 3.8-4.6 3.6-4.9 3.3-5 3.2-5.1 2.9-5.2 2.8-5.3 2.7-5.4 2.5-5.4 2.5-5.5 2.3-5.5 2.3-5.5 2.3-5.6 2.2-5.6 2.1-5.6 2.1-5.6 2.1-5.6 2.1-5.7 2.1-5.6 2-5.6 2.1-5.7 2-5.6 2.1-5.6 2.1-5.7 2.2-5.6 2.1-5.6 2.2-5.5 2.3-5.6 2.3-5.5 2.4-5.5 2.5-5.5 2.6-5.4 2.7-5.4 2.8-5.3 3-5.2 3.1-5.1 3.4-5 3.5-4.8 3.8-4.6 4.1-4.4 4.4-4.1 4.6-3.8 5-3.4 5.1-3.1 5.4-2.6 5.6-2.2 5.7-1.8 5.8-1.5 5.9-1.2 5.9-1 6-.8 5.9-.7 6-.5 6-.4 6-.3 6-.2 6-.3 6-.1 6-.1 6-.1 6-.1 6-.1 6 0 6-.1 6 0 6 0 6-.1 6 0 6 0 6 0 6 0 6 0 6 0 6 0 6 0 6 0 6 0 5.8 0" stroke-opacity="0.075"/>
<path d="M61.1 277.6l2.5-.2 5.9-.4 6-.6 6-.8 5.9-.9 5.9-1.2 5.8-1.5 5.7-1.9 5.6-2.2 5.3-2.6 5.2-3.1 4.9-3.4 4.7-3.8 4.3-4.2 4.1-4.4 3.8-4.6 3.6-4.8 3.4-4.9 3.2-5.1 3.1-5.2 2.9-5.2 2.7-5.3 2.7-5.4 2.6-5.4 2.5-5.5 2.4-5.5 2.4-5.5 2.3-5.5 2.3-5.5 2.3-5.6 2.2-5.6 2.3-5.5 2.2-5.6 2.2-5.6 2.2-5.6 2.2-5.5 2.3-5.6 2.2-5.6 2.4-5.5 2.3-5.5 2.4-5.5 2.4-5.5 2.5-5.4 2.6-5.5 2.7-5.3 2.8-5.3 2.9-5.3 3.1-5.2 3.2-5 3.3-5 3.6-4.8 3.8-4.7 4-4.4 4.3-4.2 4.5-4 4.8-3.6 5-3.3 5.3-2.9 5.4-2.5 5.6-2.1 5.7-1.9 5.8-1.5 5.9-1.3 5.9-1 5.9-.9 6-.6 6-.6 6-.5 5.9-.3 6-.3 6-.3 6-.2 6-.2 6-.1 6-.1 6-.1 6 0 6-.1 6 0 6-.1 6 0 6 0 6-.1 6 0 6 0 6 0 6 0 6 0 6 0 3.5 0" stroke-opacity="0.112"/>
<path d="M61.1 277.6l3.1-.2 6-.4 6-.6 6-.6 5.9-.8 5.9-1 5.9-1.2 5.8-1.5 5.8-1.7 5.6-2.1 5.5-2.4 5.3-2.7 5.2-3.1 4.9-3.5 4.7-3.7 4.4-4 4.3-4.3 4-4.4 3.8-4.7 3.6-4.7 3.5-4.9 3.3-5 3.2-5.1 3-5.2 3-5.2 2.9-5.3 2.8-5.3 2.7-5.3 2.6-5.4 2.7-5.4 2.6-5.4 2.5-5.4 2.5-5.5 2.5-5.4 2.6-5.5 2.5-5.4 2.5-5.5 2.5-5.4 2.5-5.5 2.6-5.4 2.6-5.4 2.6-5.4 2.7-5.4 2.7-5.3 2.8-5.3 2.9-5.3 3-5.2 3.1-5.1 3.2-5.1 3.3-5 3.5-4.9 3.6-4.8 3.8-4.6 4-4.5 4.2-4.3 4.4-4.1 4.6-3.8 4.8-3.6 5-3.2 5.3-3 5.3-2.6 5.6-2.4 5.6-2 5.8-1.7 5.8-1.5 5.8-1.3 5.9-1.1 6-.9 5.9-.8 6-.6 6-.5 5.9-.5 6-.4 6-.3 6-.2 6-.2 6-.2 6-.2 6-.1 6-.1 6-.1 6-.1 6 0 6-.1 6 0 6-.1 6 0 4.9 0" stroke-opacity="0.113"/>
<path d="M61.1 277.6l.5 0 6-.5 6-.5 5.9-.7 6-.8 5.9-1.1 5.8-1.4 5.8-1.7 5.6-2 5.5-2.4 5.3-2.9 5.1-3.2 4.7-3.6 4.6-3.9 4.2-4.3 4-4.5 3.7-4.7 3.6-4.8 3.3-5 3.2-5.1 3-5.2 2.8-5.3 2.8-5.3 2.7-5.4 2.6-5.4 2.5-5.4 2.4-5.5 2.4-5.5 2.3-5.5 2.4-5.6 2.2-5.5 2.3-5.6 2.3-5.5 2.2-5.6 2.2-5.6 2.3-5.5 2.3-5.6 2.3-5.5 2.3-5.6 2.3-5.5 2.4-5.5 2.5-5.5 2.5-5.4 2.6-5.4 2.6-5.4 2.8-5.3 2.9-5.3 3-5.2 3.1-5.1 3.3-5 3.5-4.9 3.7-4.7 3.9-4.6 4.1-4.3 4.4-4.1 4.7-3.8 4.9-3.4 5.1-3.1 5.4-2.8 5.5-2.3 5.6-2.1 5.8-1.7 5.8-1.4 5.9-1.2 5.9-1 5.9-.8 6-.7 6-.5 6-.4 6-.4 5.9-.3 6-.2 6-.2 6-.2 6-.1 6-.1 6-.1 6 0 6-.1 6 0 6-.1 6 0 6 0 6-.1 6 0 6 0 6 0 6 0 6 0 4.3 0" stroke-opacity="0.089"/>
<path d="M61.1 277.6l3.4-.2 5.9-.4 6-.6 6-.6 5.9-.8 5.9-1 5.9-1.1 5.9-1.5 5.7-1.7 5.7-2 5.5-2.3 5.4-2.7 5.1-3 5-3.4 4.8-3.6 4.5-4 4.3-4.2 4.1-4.4 3.8-4.5 3.7-4.8 3.6-4.8 3.3-5 3.3-5 3.1-5.2 3-5.1 2.9-5.3 2.9-5.3 2.8-5.3 2.7-5.3 2.7-5.4 2.6-5.4 2.6-5.4 2.5-5.4 2.6-5.5 2.5-5.4 2.6-5.4 2.5-5.5 2.5-5.4 2.6-5.4 2.6-5.4 2.6-5.4 2.7-5.4 2.7-5.4 2.8-5.3 2.8-5.3 2.9-5.2 3-5.2 3.1-5.2 3.2-5.1 3.3-5 3.4-4.9 3.7-4.8 3.7-4.6 4-4.5 4.2-4.3 4.3-4.2 4.6-3.8 4.8-3.7 5-3.3 5.2-3 5.3-2.7 5.5-2.5 5.6-2.1 5.7-1.8 5.8-1.6 5.8-1.3 5.9-1.2 6-1 5.9-.8 6-.7 5.9-.5 6-.5 6-.4 6-.4 6-.3 6-.2 6-.2 6-.2 6-.1 6-.1 6-.1 6-.1 6-.1 6 0 6-.1 6 0 6-.1 3.5 0" stroke-opacity="0.142"/>
<path d="M61.1 277.6l.2 0 6-.4 6-.5 6-.6 5.9-.7 6-.9 5.9-1.1 5.8-1.3 5.8-1.6 5.7-1.9 5.6-2.2 5.4-2.6 5.2-2.9 5.1-3.3 4.8-3.6 4.5-3.9 4.4-4.1 4.1-4.4 3.9-4.5 3.8-4.7 3.5-4.8 3.4-5 3.2-5 3.2-5.2 3-5.1 2.9-5.3 2.8-5.3 2.8-5.3 2.7-5.4 2.6-5.3 2.6-5.5 2.6-5.4 2.6-5.4 2.5-5.5 2.5-5.4 2.5-5.5 2.5-5.4 2.5-5.5 2.5-5.4 2.6-5.4 2.6-5.4 2.6-5.4 2.7-5.4 2.7-5.4 2.7-5.3 2.9-5.3 2.9-5.2 3.1-5.2 3.1-5.1 3.3-5 3.3-5 3.6-4.8 3.7-4.7 3.9-4.6 4.1-4.4 4.3-4.2 4.5-3.9 4.7-3.8 4.9-3.4 5.2-3.1 5.3-2.8 5.4-2.5 5.6-2.1 5.7-1.9 5.8-1.7 5.8-1.3 5.9-1.2 5.9-1 6-.9 5.9-.7 6-.5 6-.5 6-.5 5.9-.3 6-.3 6-.2 6-.2 6-.2 6-.1 6-.2 6 0 6-.1 6-.1 6-.1 6 0 6 0 6-.1 6 0 1.7 0" stroke-opacity="0.073"/>
<path d="M61.1 277.6l3.8-.2 6-.4 6-.5 5.9-.6 6-.7 5.9-.9 5.9-1.1 5.9-1.3 5.8-1.4 5.7-1.8 5.7-2.1 5.5-2.3 5.4-2.7 5.2-3 5-3.2 4.8-3.6 4.6-3.8 4.4-4.1 4.3-4.3 4-4.4 3.8-4.6 3.7-4.7 3.6-4.9 3.4-4.9 3.3-5 3.2-5.1 3.1-5.2 3-5.1 2.9-5.3 2.9-5.2 2.9-5.3 2.8-5.3 2.7-5.4 2.7-5.3 2.8-5.3 2.7-5.4 2.7-5.4 2.7-5.3 2.7-5.4 2.7-5.3 2.7-5.4 2.8-5.3 2.8-5.3 2.9-5.3 2.9-5.2 2.9-5.2 3.1-5.2 3.1-5.1 3.2-5.1 3.3-5 3.5-4.9 3.6-4.8 3.7-4.7 3.8-4.6 4.1-4.5 4.2-4.2 4.3-4.1 4.6-3.9 4.8-3.6 5-3.4 5.1-3.1 5.3-2.9 5.4-2.5 5.6-2.3 5.6-2 5.8-1.7 5.8-1.5 5.8-1.3 5.9-1.2 5.9-.9 6-.9 5.9-.7 6-.6 6-.5 6-.4 6-.4 6-.3 6-.3 5.9-.2 6-.2 6-.1 6-.2 6-.1 6-.1 6-.1 6 0 3.9-.1" stroke-opacity="0.087"/>
<path d="M61.1 277.6l.5 0 5.9-.5 6-.6 6-.7 5.9-1 5.9-1.2 5.7-1.6 5.7-1.9 5.5-2.4 5.3-2.8 5.1-3.3 4.7-3.7 4.4-4 4.2-4.3 3.8-4.7 3.6-4.8 3.4-4.9 3.1-5.1 3-5.2 2.8-5.3 2.7-5.4 2.6-5.4 2.5-5.5 2.4-5.5 2.3-5.5 2.3-5.6 2.2-5.5 2.2-5.6 2.1-5.6 2.1-5.7 2.1-5.6 2.1-5.6 2.1-5.6 2.1-5.7 2-5.6 2.1-5.6 2.2-5.6 2.1-5.6 2.2-5.6 2.2-5.6 2.3-5.5 2.4-5.5 2.4-5.5 2.5-5.5 2.6-5.4 2.7-5.3 2.8-5.3 3-5.2 3.2-5.1 3.4-5 3.5-4.8 3.9-4.6 4-4.4 4.4-4.2 4.6-3.7 5-3.5 5.1-3 5.4-2.6 5.6-2.3 5.7-1.8 5.8-1.6 5.9-1.2 5.9-1.1 5.9-.8 6-.6 6-.6 5.9-.4 6-.3 6-.3 6-.2 6-.2 6-.1 6-.1 6-.1 6-.1 6 0 6-.1 6 0 6 0 6-.1 6 0 6 0 6 0 6 0 6 0 6 0 6 0 6 0 6 0 6 0 4.3 0" stroke-opacity="0.093"/>
<path d="M61.1 277.6l1.3-.1 6-.4 6-.6 6-.7 5.9-.9 5.9-1.1 5.8-1.5 5.7-1.7 5.7-2.1 5.4-2.5 5.2-3 5-3.3 4.8-3.7 4.4-4 4.2-4.3 3.9-4.6 3.7-4.7 3.4-4.9 3.3-5.1 3.1-5.1 3-5.2 2.8-5.3 2.7-5.3 2.6-5.4 2.6-5.5 2.5-5.4 2.4-5.5 2.3-5.5 2.4-5.6 2.2-5.5 2.3-5.6 2.3-5.5 2.2-5.6 2.2-5.6 2.2-5.6 2.3-5.5 2.2-5.6 2.3-5.5 2.3-5.6 2.4-5.5 2.4-5.5 2.4-5.5 2.5-5.4 2.6-5.4 2.7-5.4 2.8-5.3 2.8-5.3 3.1-5.2 3.1-5.1 3.4-5 3.5-4.8 3.7-4.7 4-4.5 4.2-4.3 4.4-4 4.7-3.7 5-3.4 5.2-3 5.4-2.7 5.5-2.2 5.7-2 5.8-1.6 5.8-1.4 5.9-1.1 5.9-.9 6-.8 6-.6 5.9-.5 6-.4 6-.3 6-.3 6-.2 6-.2 6-.1 6-.1 6-.1 6-.1 6-.1 6 0 6-.1 6 0 6 0 6 0 6-.1 6 0 6 0 6 0 6 0 6 0 4 0" stroke-opacity="0.036"/>
<path d="M61.1 277.6l5.3-.3 6-.5 5.9-.5 6-.7 5.9-.8 6-1 5.8-1.2 5.8-1.5 5.8-1.7 5.6-2 5.6-2.4 5.3-2.7 5.2-3 5-3.3 4.8-3.7 4.5-3.9 4.3-4.1 4.1-4.4 4-4.6 3.7-4.6 3.6-4.9 3.4-4.9 3.3-5 3.2-5.1 3-5.2 3-5.2 2.9-5.2 2.8-5.3 2.8-5.4 2.7-5.3 2.7-5.4 2.6-5.4 2.6-5.4 2.6-5.4 2.6-5.4 2.6-5.4 2.6-5.4 2.5-5.4 2.7-5.4 2.6-5.4 2.7-5.4 2.7-5.4 2.7-5.3 2.8-5.3 2.9-5.3 2.9-5.2 3.1-5.2 3.1-5.1 3.2-5 3.4-5 3.5-4.9 3.6-4.8 3.8-4.6 4-4.5 4.2-4.3 4.4-4.1 4.5-3.9 4.8-3.6 5-3.3 5.2-3.1 5.3-2.7 5.5-2.5 5.6-2.1 5.7-1.9 5.8-1.6 5.8-1.4 5.9-1.2 5.9-1 5.9-.9 6-.7 6-.6 5.9-.5 6-.4 6-.4 6-.3 6-.3 6-.2 6-.2 6-.1 6-.2 6-.1 6-.1 6 0 6-.1 6-.1 6 0 6 0 .1 0" stroke-opacity="0.036"/>
<path d="M61.1 277.6l2.7-.2 6-.4 6-.6 5.9-.7 6-.9 5.9-1.1 5.8-1.4 5.8-1.7 5.6-2 5.5-2.5 5.3-2.8 5.1-3.1 4.8-3.6 4.6-3.9 4.3-4.1 4.1-4.5 3.8-4.6 3.6-4.8 3.4-4.9 3.3-5 3.1-5.2 2.9-5.2 2.9-5.3 2.7-5.3 2.7-5.4 2.6-5.4 2.5-5.4 2.5-5.5 2.4-5.5 2.4-5.5 2.4-5.5 2.3-5.5 2.3-5.6 2.3-5.5 2.4-5.5 2.3-5.6 2.3-5.5 2.4-5.5 2.4-5.5 2.4-5.5 2.4-5.5 2.6-5.4 2.5-5.5 2.7-5.3 2.7-5.4 2.8-5.3 3-5.2 3-5.2 3.2-5.1 3.3-4.9 3.6-4.9 3.7-4.7 3.9-4.5 4.2-4.4 4.4-4.1 4.6-3.8 4.9-3.5 5.1-3.1 5.3-2.8 5.4-2.5 5.7-2.1 5.7-1.8 5.8-1.6 5.8-1.2 5.9-1.1 6-.9 5.9-.7 6-.6 6-.5 6-.4 6-.3 5.9-.3 6-.2 6-.2 6-.2 6-.1 6-.1 6-.1 6 0 6-.1 6 0 6-.1 6 0 6 0 6 0 6-.1 6 0 6 0 5.6 0" stroke-opacity="0.116"/>
<path d="M61.1 277.6l4.2-.3 6-.5 6-.6 5.9-.9 5.9-1 5.9-1.3 5.8-1.6 5.6-2 5.5-2.4 5.3-2.8 5.1-3.2 4.8-3.6 4.5-4 4.2-4.2 4-4.6 3.7-4.7 3.5-4.8 3.3-5.1 3.1-5.1 2.9-5.2 2.9-5.3 2.7-5.4 2.6-5.4 2.5-5.4 2.5-5.5 2.4-5.5 2.3-5.5 2.3-5.5 2.3-5.6 2.2-5.6 2.2-5.6 2.2-5.5 2.2-5.6 2.2-5.6 2.2-5.6 2.2-5.6 2.3-5.5 2.2-5.6 2.3-5.5 2.4-5.5 2.4-5.6 2.4-5.4 2.5-5.5 2.6-5.4 2.8-5.3 2.8-5.3 2.9-5.2 3.1-5.2 3.3-5 3.4-5 3.6-4.7 3.9-4.6 4.1-4.4 4.4-4.1 4.6-3.8 4.9-3.5 5.2-3.1 5.3-2.7 5.5-2.3 5.7-2 5.7-1.7 5.9-1.4 5.9-1.2 5.9-.9 5.9-.8 6-.6 6-.5 6-.4 6-.3 5.9-.3 6-.2 6-.2 6-.1 6-.2 6 0 6-.1 6-.1 6 0 6-.1 6 0 6 0 6-.1 6 0 6 0 6 0 6 0 6 0 6 0 6 0 2.4 0" stroke-opacity="0.088"/>
<path d="M61.1 277.6l4.8-.3 6-.5 6-.6 5.9-.8 6-.9 5.8-1.2 5.9-1.4 5.7-1.8 5.6-2.1 5.5-2.5 5.3-2.9 5-3.2 4.8-3.6 4.6-3.9 4.3-4.2 4-4.4 3.8-4.6 3.6-4.8 3.5-5 3.2-5 3.1-5.1 3-5.2 2.9-5.3 2.7-5.3 2.7-5.4 2.6-5.4 2.6-5.4 2.5-5.5 2.4-5.5 2.4-5.5 2.4-5.5 2.4-5.5 2.3-5.5 2.4-5.5 2.3-5.6 2.4-5.5 2.4-5.5 2.3-5.5 2.5-5.5 2.4-5.4 2.5-5.5 2.6-5.4 2.6-5.4 2.7-5.4 2.7-5.3 2.9-5.3 3-5.2 3.1-5.1 3.2-5.1 3.4-4.9 3.6-4.9 3.8-4.6 3.9-4.5 4.2-4.3 4.5-4 4.7-3.8 4.9-3.4 5.1-3.2 5.3-2.7 5.5-2.5 5.6-2.1 5.7-1.8 5.8-1.5 5.9-1.3 5.9-1 5.9-.9 6-.7 6-.6 5.9-.5 6-.4 6-.4 6-.3 6-.2 6-.2 6-.1 6-.2 6-.1 6 0 6-.1 6-.1 6 0 6-.1 6 0 6 0 6 0 6-.1 6 0 6 0 2.4 0" stroke-opacity="0.075"/>
<path d="M61.1 277.6l3.7-.2 6-.5 6-.5 6-.6 5.9-.8 5.9-1 5.9-1.1 5.8-1.5 5.8-1.6 5.7-2 5.5-2.3 5.4-2.7 5.2-2.9 5-3.3 4.8-3.7 4.6-3.8 4.3-4.2 4.1-4.3 4-4.6 3.7-4.6 3.6-4.9 3.4-4.9 3.3-5 3.2-5.1 3-5.2 3-5.2 2.9-5.3 2.8-5.3 2.7-5.3 2.7-5.3 2.7-5.4 2.6-5.4 2.6-5.4 2.6-5.4 2.6-5.5 2.5-5.4 2.6-5.4 2.6-5.4 2.6-5.4 2.6-5.4 2.6-5.4 2.7-5.4 2.7-5.3 2.8-5.4 2.8-5.2 3-5.3 3-5.2 3.1-5.1 3.2-5.1 3.3-5 3.5-4.9 3.6-4.8 3.7-4.6 4-4.5 4.1-4.4 4.4-4.1 4.5-3.9 4.8-3.7 5-3.4 5.1-3 5.3-2.8 5.5-2.5 5.6-2.2 5.7-1.9 5.7-1.6 5.9-1.4 5.9-1.2 5.9-1 5.9-.9 6-.7 5.9-.6 6-.5 6-.5 6-.3 6-.3 6-.3 6-.2 6-.2 6-.1 6-.2 6-.1 6-.1 6 0 6-.1 6-.1 6 0 6 0 2.2-.1" stroke-opacity="0.126"/>
<path d="M61.1 277.6l4.1-.3 5.9-.5 6-.6 6-.8 5.9-1 5.8-1.2 5.8-1.6 5.7-1.9 5.6-2.3 5.3-2.7 5.2-3.1 4.8-3.5 4.6-3.9 4.4-4.1 4-4.4 3.8-4.7 3.6-4.8 3.4-4.9 3.2-5.1 3-5.2 2.9-5.2 2.8-5.3 2.7-5.4 2.6-5.4 2.5-5.5 2.4-5.5 2.4-5.5 2.4-5.5 2.3-5.5 2.3-5.6 2.2-5.5 2.3-5.6 2.2-5.6 2.2-5.5 2.3-5.6 2.2-5.6 2.3-5.5 2.3-5.6 2.3-5.5 2.4-5.5 2.4-5.5 2.5-5.5 2.5-5.4 2.7-5.4 2.7-5.3 2.8-5.3 2.9-5.3 3.1-5.1 3.3-5.1 3.4-4.9 3.6-4.8 3.8-4.6 4.1-4.4 4.3-4.2 4.6-3.9 4.8-3.5 5-3.2 5.3-2.9 5.5-2.5 5.6-2.1 5.7-1.8 5.8-1.5 5.9-1.3 5.9-1 5.9-.8 6-.7 6-.6 6-.5 5.9-.3 6-.3 6-.3 6-.2 6-.1 6-.2 6-.1 6-.1 6 0 6-.1 6 0 6-.1 6 0 6 0 6-.1 6 0 6 0 6 0 6 0 6 0 6 0 1.2 0" stroke-opacity="0.100"/>
<path d="M61.1 277.6l2.4-.2 6-.5 6-.7 5.9-.8 5.9-1.1 5.8-1.5 5.7-1.8 5.6-2.3 5.3-2.8 5.1-3.2 4.7-3.7 4.4-4 4.1-4.4 3.8-4.6 3.6-4.9 3.2-5 3.1-5.2 2.9-5.2 2.7-5.4 2.6-5.4 2.5-5.4 2.4-5.5 2.3-5.6 2.3-5.6 2.1-5.5 2.1-5.7 2.1-5.6 2.1-5.6 2-5.7 2-5.6 2-5.7 2-5.7 2-5.6 2-5.7 2-5.6 2-5.7 2-5.6 2.1-5.6 2.2-5.7 2.1-5.5 2.3-5.6 2.3-5.5 2.4-5.5 2.5-5.5 2.6-5.4 2.7-5.3 2.9-5.3 3.1-5.2 3.2-5 3.5-4.9 3.7-4.7 4-4.5 4.3-4.1 4.6-3.9 4.9-3.4 5.2-3.1 5.4-2.6 5.6-2.2 5.7-1.8 5.8-1.5 5.9-1.1 5.9-1 6-.7 6-.6 5.9-.5 6-.4 6-.3 6-.2 6-.2 6-.1 6-.1 6-.1 6-.1 6 0 6-.1 6 0 6 0 6-.1 6 0 6 0 6 0 6 0 6 0 6 0 6 0 6 0 6 0 6 0 6 0 6 0 5.8 0" stroke-opacity="0.088"/>
<path d="M61.1 277.6l2.4-.2 6-.4 5.9-.5 6-.7 5.9-.9 5.9-1.1 5.9-1.3 5.8-1.6 5.6-2 5.6-2.3 5.3-2.6 5.2-3.1 4.9-3.4 4.7-3.8 4.4-4.1 4.2-4.3 3.9-4.5 3.7-4.7 3.5-4.9 3.4-5 3.2-5.1 3-5.1 2.9-5.3 2.9-5.3 2.7-5.3 2.6-5.4 2.6-5.4 2.5-5.4 2.5-5.5 2.5-5.5 2.4-5.5 2.3-5.5 2.4-5.5 2.4-5.5 2.3-5.5 2.4-5.6 2.4-5.5 2.4-5.5 2.4-5.5 2.4-5.4 2.5-5.5 2.5-5.4 2.6-5.5 2.7-5.3 2.7-5.4 2.9-5.3 2.9-5.2 3-5.2 3.2-5.1 3.3-4.9 3.5-4.9 3.7-4.8 3.9-4.5 4.1-4.4 4.3-4.2 4.6-3.9 4.8-3.6 5-3.2 5.2-3 5.5-2.6 5.5-2.2 5.7-2 5.8-1.6 5.8-1.4 5.9-1.2 5.9-.9 5.9-.9 6-.6 6-.6 6-.4 5.9-.4 6-.3 6-.3 6-.2 6-.1 6-.2 6-.1 6-.1 6-.1 6 0 6-.1 6 0 6-.1 6 0 6 0 6 0 6-.1 6 0 4.6 0" stroke-opacity="0.115"/>
<path d="M61.1 277.6l2.3-.1 6-.5 5.9-.5 6-.6 6-.8 5.9-1 5.9-1.2 5.8-1.5 5.7-1.8 5.6-2.1 5.5-2.4 5.3-2.8 5.1-3.2 4.9-3.5 4.6-3.8 4.4-4 4.2-4.3 4-4.6 3.7-4.6 3.6-4.9 3.4-4.9 3.2-5.1 3.1-5.1 3-5.2 2.9-5.2 2.9-5.3 2.7-5.4 2.7-5.3 2.6-5.4 2.6-5.5 2.5-5.4 2.5-5.4 2.5-5.5 2.5-5.5 2.4-5.4 2.5-5.5 2.4-5.5 2.5-5.5 2.5-5.4 2.6-5.4 2.5-5.5 2.6-5.4 2.7-5.4 2.7-5.3 2.8-5.3 2.8-5.3 3-5.2 3-5.2 3.2-5.1 3.3-5 3.5-4.9 3.6-4.8 3.8-4.6 4-4.5 4.2-4.3 4.4-4 4.6-3.8 4.9-3.6 5.1-3.2 5.2-2.9 5.5-2.5 5.5-2.3 5.7-1.9 5.7-1.7 5.9-1.4 5.9-1.2 5.9-1 5.9-.9 6-.7 5.9-.6 6-.5 6-.4 6-.3 6-.3 6-.3 6-.2 6-.1 6-.2 6-.1 6-.1 6-.1 6 0 6-.1 6 0 6-.1 6 0 6 0 6 0 1.1 0" stroke-opacity="0.075"/>
<path d="M61.1 277.6l4.5-.3 6-.5 6-.5 5.9-.7 6-.9 5.9-1.1 5.8-1.3 5.8-1.6 5.7-1.9 5.6-2.2 5.4-2.7 5.2-2.9 5-3.3 4.8-3.7 4.5-3.9 4.3-4.2 4-4.4 3.9-4.6 3.6-4.8 3.5-4.9 3.3-5 3.2-5.1 3-5.1 3-5.3 2.8-5.3 2.8-5.3 2.7-5.3 2.6-5.4 2.6-5.4 2.6-5.5 2.5-5.4 2.4-5.5 2.5-5.5 2.5-5.4 2.4-5.5 2.5-5.5 2.4-5.5 2.5-5.4 2.5-5.5 2.5-5.4 2.6-5.4 2.6-5.5 2.7-5.3 2.7-5.4 2.8-5.3 2.9-5.2 3-5.2 3.1-5.2 3.2-5 3.4-5 3.5-4.9 3.7-4.7 3.9-4.6 4-4.4 4.3-4.1 4.6-4 4.7-3.7 5-3.3 5.1-3.1 5.4-2.7 5.4-2.4 5.7-2.1 5.7-1.9 5.8-1.5 5.8-1.3 5.9-1.1 6-.9 5.9-.8 6-.7 6-.5 5.9-.4 6-.4 6-.3 6-.3 6-.2 6-.2 6-.1 6-.1 6-.1 6-.1 6-.1 6-.1 6 0 6 0 6-.1 6 0 6 0 5.3 0" stroke-opacity="0.081"/>
<path d="M61.1 277.6l2-.1 6-.5 6-.5 6-.7 5.9-.8 5.9-1 5.9-1.3 5.8-1.5 5.7-1.8 5.6-2.2 5.4-2.6 5.2-2.9 5-3.3 4.8-3.7 4.5-3.9 4.3-4.2 4.1-4.4 3.8-4.6 3.6-4.8 3.5-4.9 3.3-5.1 3.1-5.1 3-5.2 2.9-5.2 2.8-5.3 2.7-5.4 2.7-5.3 2.6-5.5 2.5-5.4 2.5-5.4 2.5-5.5 2.4-5.5 2.4-5.5 2.4-5.5 2.4-5.5 2.4-5.5 2.5-5.5 2.4-5.5 2.4-5.4 2.5-5.5 2.5-5.5 2.6-5.4 2.6-5.4 2.7-5.4 2.7-5.3 2.9-5.3 2.9-5.2 3-5.2 3.2-5.1 3.3-5 3.5-4.9 3.6-4.7 3.9-4.6 4-4.5 4.3-4.2 4.5-4 4.7-3.7 4.9-3.4 5.2-3.1 5.3-2.7 5.5-2.4 5.6-2.1 5.8-1.8 5.8-1.5 5.8-1.3 5.9-1.1 6-.9 5.9-.7 6-.7 5.9-.5 6-.4 6-.4 6-.2 6-.3 6-.2 6-.2 6-.1 6-.1 6-.1 6-.1 6 0 6-.1 6 0 6-.1 6 0 6 0 6 0 6-.1 3.4 0" stroke-opacity="0.127"/>
<path d="M61.1 277.6l2.3-.2 6-.5 5.9-.6 6-.8 5.9-1.1 5.8-1.4 5.7-1.8 5.6-2.2 5.4-2.6 5.2-3.1 4.8-3.5 4.5-4 4.2-4.3 3.9-4.5 3.7-4.8 3.4-4.9 3.1-5.1 3-5.2 2.8-5.3 2.7-5.4 2.6-5.4 2.4-5.5 2.4-5.5 2.3-5.6 2.2-5.5 2.2-5.6 2.1-5.6 2.1-5.6 2.1-5.7 2.1-5.6 2-5.7 2-5.6 2-5.7 2.1-5.6 2-5.6 2.1-5.7 2.1-5.6 2.1-5.6 2.1-5.6 2.3-5.6 2.2-5.5 2.4-5.6 2.4-5.5 2.5-5.4 2.6-5.4 2.7-5.4 2.9-5.2 3.1-5.2 3.2-5 3.5-4.9 3.6-4.8 4-4.5 4.2-4.2 4.6-4 4.8-3.5 5.1-3.2 5.3-2.7 5.5-2.4 5.7-1.9 5.8-1.6 5.8-1.3 6-1.1 5.9-.8 6-.7 5.9-.5 6-.4 6-.4 6-.2 6-.2 6-.2 6-.1 6-.1 6-.1 6-.1 6 0 6-.1 6 0 6 0 6-.1 6 0 6 0 6 0 6 0 6 0 6 0 6 0 6 0 6 0 6 0 6 0 4.4 0" stroke-opacity="0.130"/>
<path d="M61.1 277.6l4.7-.3 6-.5 6-.5 5.9-.8 6-.9 5.9-1 5.8-1.4 5.8-1.6 5.7-1.9 5.5-2.3 5.4-2.7 5.2-3 5-3.3 4.7-3.7 4.5-4 4.2-4.2 4.1-4.5 3.8-4.6 3.6-4.8 3.4-4.9 3.3-5 3.2-5.1 3-5.2 2.9-5.2 2.8-5.3 2.8-5.4 2.7-5.3 2.6-5.4 2.5-5.5 2.6-5.4 2.5-5.5 2.4-5.4 2.5-5.5 2.4-5.5 2.5-5.5 2.4-5.5 2.4-5.4 2.5-5.5 2.5-5.5 2.5-5.4 2.6-5.4 2.6-5.4 2.6-5.4 2.8-5.4 2.8-5.3 2.9-5.2 2.9-5.2 3.1-5.2 3.3-5 3.3-5 3.6-4.8 3.7-4.8 3.9-4.5 4.1-4.4 4.3-4.2 4.5-3.9 4.8-3.6 5-3.4 5.2-3 5.3-2.7 5.6-2.3 5.6-2.1 5.7-1.8 5.8-1.5 5.9-1.2 5.9-1.1 5.9-.9 6-.8 5.9-.6 6-.5 6-.4 6-.4 6-.3 6-.2 6-.2 6-.2 6-.2 6-.1 6-.1 6 0 6-.1 6-.1 6 0 6-.1 6 0 6 0 6 0 5.5 0" stroke-opacity="0.072"/>
<path d="M61.1 277.6l4.3-.3 6-.4 5.9-.6 6-.6 5.9-.9 6-1 5.8-1.2 5.8-1.5 5.8-1.8 5.6-2.1 5.5-2.5 5.3-2.7 5.1-3.2 4.9-3.4 4.6-3.8 4.5-4 4.2-4.3 4-4.5 3.8-4.6 3.6-4.8 3.5-4.9 3.3-5 3.2-5.1 3-5.2 3-5.2 2.9-5.3 2.8-5.3 2.7-5.3 2.7-5.4 2.6-5.4 2.6-5.4 2.5-5.4 2.6-5.4 2.5-5.5 2.5-5.4 2.5-5.5 2.6-5.4 2.5-5.5 2.5-5.4 2.6-5.4 2.6-5.4 2.7-5.4 2.7-5.4 2.7-5.3 2.9-5.3 2.9-5.2 3-5.2 3.1-5.2 3.2-5 3.3-5 3.5-4.9 3.7-4.8 3.8-4.6 4-4.4 4.2-4.3 4.4-4.1 4.7-3.8 4.8-3.5 5.1-3.2 5.2-2.9 5.4-2.6 5.6-2.3 5.6-2.1 5.8-1.7 5.8-1.5 5.8-1.2 6-1.1 5.9-.9 5.9-.8 6-.6 6-.5 6-.5 6-.3 5.9-.4 6-.2 6-.2 6-.2 6-.2 6-.1 6-.1 6-.1 6-.1 6 0 6-.1 6 0 6-.1 6 0 3.4 0" stroke-opacity="0.013"/>
<path d="M61.1 277.6l2.3-.2 6-.4 6-.6 6-.7 5.9-.9 5.9-1.2 5.8-1.4 5.7-1.8 5.6-2.1 5.5-2.6 5.2-2.9 5-3.3 4.7-3.7 4.5-4 4.2-4.3 3.9-4.5 3.7-4.7 3.5-4.9 3.3-5 3.1-5.2 3-5.2 2.9-5.2 2.7-5.4 2.7-5.4 2.6-5.4 2.5-5.4 2.4-5.5 2.4-5.5 2.3-5.5 2.4-5.6 2.2-5.5 2.3-5.6 2.3-5.5 2.2-5.6 2.3-5.5 2.3-5.6 2.2-5.5 2.4-5.6 2.3-5.5 2.4-5.5 2.4-5.5 2.4-5.5 2.6-5.4 2.6-5.4 2.7-5.4 2.8-5.3 2.9-5.2 3-5.2 3.2-5.1 3.4-5 3.5-4.8 3.8-4.7 3.9-4.5 4.3-4.3 4.4-4 4.7-3.7 5-3.4 5.2-3 5.3-2.6 5.6-2.3 5.7-2 5.7-1.7 5.9-1.3 5.9-1.2 5.9-.9 5.9-.8 6-.6 6-.6 6-.4 5.9-.3 6-.3 6-.2 6-.2 6-.2 6-.1 6-.1 6-.1 6 0 6-.1 6 0 6-.1 6 0 6 0 6-.1 6 0 6 0 6 0 6 0 6 0 2.1 0" stroke-opacity="0.132"/>
<path d="M61.1 277.6l3.5-.2 6-.4 5.9-.5 6-.6 6-.8 5.9-.9 5.9-1 5.9-1.3 5.8-1.6 5.7-1.8 5.6-2.1 5.5-2.4 5.3-2.8 5.2-3.1 4.9-3.3 4.8-3.7 4.5-3.9 4.4-4.2 4.1-4.3 3.9-4.5 3.8-4.7 3.6-4.8 3.5-4.9 3.3-5 3.2-5 3.2-5.2 3-5.1 2.9-5.3 2.9-5.2 2.9-5.3 2.7-5.3 2.8-5.4 2.7-5.3 2.7-5.4 2.6-5.4 2.7-5.3 2.6-5.4 2.7-5.4 2.7-5.4 2.6-5.3 2.8-5.4 2.7-5.3 2.8-5.4 2.8-5.2 2.9-5.3 2.9-5.2 3.1-5.2 3.1-5.1 3.2-5.1 3.3-5 3.4-4.9 3.6-4.9 3.7-4.7 3.9-4.5 4.1-4.5 4.2-4.2 4.4-4 4.7-3.9 4.8-3.5 5-3.3 5.2-3.1 5.3-2.7 5.5-2.4 5.6-2.2 5.7-1.9 5.8-1.6 5.8-1.4 5.9-1.3 5.9-1 5.9-.9 6-.7 5.9-.7 6-.5 6-.5 6-.4 6-.3 6-.3 5.9-.2 6-.2 6-.2 6-.2 6-.1 6-.1 6-.1 6 0 6-.1 5.6 0" stroke-opacity="0.088"/>
<path d="M61.1 277.6l4-.3 6-.5 5.9-.6 6-.9 5.9-1.1 5.8-1.3 5.8-1.7 5.6-2.1 5.5-2.5 5.2-2.9 5-3.3 4.7-3.8 4.4-4.1 4.1-4.3 3.8-4.7 3.6-4.8 3.4-4.9 3.1-5.1 3-5.2 2.9-5.3 2.7-5.3 2.6-5.4 2.6-5.5 2.4-5.4 2.4-5.6 2.3-5.5 2.3-5.5 2.2-5.6 2.2-5.6 2.2-5.6 2.1-5.6 2.2-5.6 2.1-5.6 2.1-5.6 2.2-5.6 2.2-5.6 2.1-5.6 2.3-5.6 2.2-5.5 2.3-5.6 2.4-5.5 2.4-5.5 2.5-5.4 2.6-5.5 2.7-5.3 2.8-5.3 2.9-5.3 3.1-5.1 3.2-5 3.5-4.9 3.7-4.8 3.9-4.5 4.1-4.4 4.5-4 4.7-3.7 5-3.4 5.2-2.9 5.4-2.6 5.6-2.2 5.7-1.8 5.8-1.6 5.9-1.2 5.9-1.1 5.9-.8 6-.7 5.9-.5 6-.4 6-.4 6-.3 6-.2 6-.2 6-.1 6-.2 6-.1 6 0 6-.1 6 0 6-.1 6 0 6 0 6-.1 6 0 6 0 6 0 6 0 6 0 6 0 6 0 6 0 4.6 0" stroke-opacity="0.106"/>
<path d="M61.1 277.6l3.5-.2 6-.5 6-.5 5.9-.7 6-.9 5.9-1.1 5.8-1.3 5.8-1.6 5.7-1.9 5.5-2.2 5.4-2.7 5.2-3 5-3.3 4.8-3.7 4.4-4 4.3-4.2 4-4.4 3.8-4.7 3.6-4.8 3.4-4.9 3.3-5 3.1-5.2 3.1-5.1 2.8-5.3 2.9-5.3 2.7-5.4 2.6-5.3 2.6-5.4 2.6-5.5 2.5-5.4 2.4-5.5 2.5-5.5 2.4-5.5 2.4-5.5 2.4-5.5 2.5-5.4 2.4-5.5 2.4-5.5 2.5-5.5 2.5-5.4 2.5-5.5 2.6-5.4 2.6-5.4 2.7-5.3 2.8-5.4 2.9-5.2 2.9-5.3 3.1-5.1 3.2-5.1 3.4-5 3.5-4.8 3.6-4.8 3.9-4.5 4.1-4.4 4.3-4.2 4.5-4 4.8-3.6 5-3.4 5.2-3 5.3-2.7 5.5-2.3 5.7-2.1 5.7-1.7 5.8-1.5 5.9-1.3 5.9-1.1 5.9-.8 6-.8 5.9-.6 6-.5 6-.4 6-.4 6-.3 6-.2 6-.2 6-.2 6-.1 6-.1 6-.1 6-.1 6 0 6-.1 6 0 6-.1 6 0 6 0 6 0 6-.1 1.5 0" stroke-opacity="0.069"/>
<path d="M61.1 277.6l1.1-.1 6-.4 6-.6 5.9-.7 5.9-1 5.9-1.2 5.8-1.5 5.7-1.8 5.6-2.2 5.4-2.7 5.1-3.1 4.9-3.5 4.6-3.9 4.3-4.2 4-4.4 3.7-4.7 3.6-4.9 3.3-5 3.1-5.1 3-5.2 2.8-5.3 2.7-5.3 2.6-5.4 2.5-5.5 2.5-5.5 2.4-5.5 2.3-5.5 2.2-5.6 2.3-5.5 2.2-5.6 2.2-5.6 2.1-5.6 2.2-5.6 2.2-5.6 2.1-5.6 2.2-5.6 2.2-5.6 2.2-5.5 2.3-5.6 2.3-5.5 2.3-5.6 2.4-5.5 2.5-5.4 2.5-5.5 2.7-5.3 2.7-5.4 2.9-5.2 3-5.2 3.2-5.1 3.3-5 3.6-4.8 3.7-4.7 4.1-4.5 4.2-4.2 4.6-3.9 4.8-3.6 5.1-3.2 5.3-2.8 5.4-2.4 5.7-2.1 5.7-1.8 5.8-1.4 5.9-1.2 5.9-1 6-.7 6-.7 5.9-.5 6-.4 6-.4 6-.2 6-.2 6-.2 6-.2 6-.1 6-.1 6 0 6-.1 6 0 6-.1 6 0 6 0 6-.1 6 0 6 0 6 0 6 0 6 0 6 0 6 0 6 0 .7 0" stroke-opacity="0.050"/>
<path d="M61.1 277.6l1.8-.1 6-.4 5.9-.5 6-.6 6-.7 5.9-.9 5.9-1.1 5.8-1.3 5.8-1.6 5.7-1.8 5.6-2.2 5.5-2.5 5.3-2.8 5.1-3.2 4.9-3.5 4.6-3.7 4.5-4 4.2-4.3 4-4.4 3.9-4.7 3.6-4.7 3.5-4.9 3.4-5 3.2-5 3.2-5.1 3-5.2 2.9-5.3 2.9-5.2 2.8-5.3 2.7-5.4 2.7-5.3 2.6-5.4 2.7-5.4 2.6-5.4 2.6-5.4 2.5-5.5 2.6-5.4 2.6-5.4 2.6-5.4 2.6-5.4 2.7-5.4 2.6-5.4 2.8-5.3 2.7-5.3 2.9-5.3 2.9-5.3 2.9-5.2 3.1-5.1 3.2-5.1 3.3-5 3.4-5 3.5-4.8 3.7-4.7 3.9-4.6 4.1-4.4 4.2-4.2 4.5-4 4.7-3.8 4.9-3.5 5-3.2 5.3-2.9 5.4-2.6 5.5-2.4 5.6-2 5.8-1.8 5.8-1.5 5.8-1.3 5.9-1.1 6-.9 5.9-.8 6-.7 5.9-.5 6-.5 6-.4 6-.4 6-.2 6-.3 6-.2 6-.2 6-.1 6-.1 6-.1 6-.1 6-.1 6 0 6-.1 6 0 3.7 0" stroke-opacity="0.070"/>
<path d="M61.1 277.6l6-.5 6-.5 5.9-.7 6-.9 5.8-1.2 5.9-1.5 5.7-1.8 5.5-2.2 5.4-2.7 5.2-3.1 4.8-3.5 4.6-3.8 4.3-4.2 4-4.5 3.7-4.7 3.5-4.9 3.3-5 3.1-5.1 2.9-5.3 2.8-5.3 2.7-5.3 2.6-5.5 2.5-5.4 2.4-5.5 2.3-5.5 2.3-5.6 2.3-5.6 2.2-5.5 2.1-5.6 2.2-5.6 2.1-5.6 2.2-5.6 2.1-5.6 2.1-5.7 2.2-5.6 2.2-5.5 2.2-5.6 2.2-5.6 2.2-5.6 2.4-5.5 2.3-5.5 2.5-5.5 2.5-5.4 2.6-5.4 2.7-5.4 2.9-5.3 3-5.2 3.1-5.1 3.3-5 3.5-4.8 3.8-4.7 4-4.5 4.3-4.2 4.5-3.9 4.8-3.6 5.1-3.2 5.3-2.8 5.5-2.4 5.6-2.1 5.8-1.7 5.8-1.4 5.9-1.2 5.9-.9 6-.8 5.9-.6 6-.5 6-.4 6-.3 6-.3 6-.2 6-.2 6-.1 6-.1 6-.1 6-.1 6 0 6-.1 6 0 6 0 6 0 6-.1 6 0 6 0 6 0 6 0 6 0 6 0 6 0 6 0 2.8 0" stroke-opacity="0.059"/>
<path d="M61.1 277.6l2.7-.2 6-.4 5.9-.6 6-.7 5.9-.9 5.9-1.1 5.9-1.3 5.7-1.7 5.7-2 5.5-2.3 5.4-2.8 5.1-3.1 4.8-3.5 4.7-3.8 4.3-4.1 4.2-4.4 3.8-4.6 3.7-4.7 3.5-4.9 3.3-5 3.1-5.1 3-5.2 2.9-5.3 2.8-5.3 2.7-5.4 2.6-5.4 2.6-5.4 2.5-5.5 2.4-5.4 2.4-5.5 2.4-5.5 2.4-5.5 2.3-5.6 2.4-5.5 2.3-5.5 2.4-5.5 2.3-5.6 2.4-5.5 2.4-5.5 2.4-5.4 2.5-5.5 2.5-5.5 2.6-5.4 2.7-5.3 2.7-5.4 2.8-5.3 3-5.2 3-5.2 3.2-5.1 3.3-4.9 3.6-4.9 3.7-4.7 3.9-4.6 4.1-4.3 4.4-4.2 4.6-3.8 4.8-3.5 5.1-3.3 5.2-2.8 5.5-2.6 5.6-2.2 5.6-1.8 5.8-1.6 5.9-1.4 5.9-1.1 5.9-.9 6-.8 5.9-.6 6-.5 6-.5 6-.3 6-.3 6-.2 6-.2 6-.2 6-.1 6-.1 6-.1 6-.1 6-.1 6 0 6-.1 6 0 6 0 6 0 6-.1 6 0 6 0 4.8 0" stroke-opacity="0.062"/>
<path d="M61.1 277.6l3.5-.3 6-.5 5.9-.7 6-.9 5.8-1.2 5.8-1.5 5.7-2 5.5-2.3 5.3-2.9 5-3.3 4.7-3.8 4.3-4.1 4-4.5 3.7-4.7 3.5-4.9 3.2-5 3-5.2 2.9-5.3 2.7-5.4 2.5-5.4 2.5-5.5 2.4-5.5 2.2-5.5 2.2-5.6 2.2-5.6 2.1-5.6 2.1-5.7 2-5.6 2-5.7 2-5.6 2-5.7 1.9-5.7 2-5.6 2-5.7 2-5.6 2-5.7 2.1-5.6 2.1-5.7 2.1-5.6 2.2-5.6 2.2-5.5 2.4-5.6 2.4-5.4 2.5-5.5 2.6-5.4 2.8-5.3 2.9-5.3 3.1-5.1 3.3-5 3.5-4.9 3.8-4.6 4-4.4 4.4-4.1 4.7-3.8 4.9-3.4 5.3-2.9 5.4-2.5 5.6-2.1 5.8-1.7 5.8-1.4 5.9-1.1 6-.9 5.9-.7 6-.6 6-.4 6-.4 6-.2 6-.3 5.9-.1 6-.2 6-.1 6 0 6-.1 6-.1 6 0 6 0 6 0 6-.1 6 0 6 0 6 0 6 0 6 0 6 0 6 0 6 0 6 0 6 0 6 0 6 0 5.1 0" stroke-opacity="0.144"/>
<path d="M61.1 277.6l5.3-.4 6-.4 6-.6 5.9-.8 6-.9 5.9-1.1 5.8-1.4 5.7-1.7 5.7-2.1 5.5-2.3 5.3-2.8 5.2-3.1 4.9-3.5 4.6-3.7 4.4-4.1 4.2-4.3 3.9-4.6 3.8-4.7 3.5-4.8 3.4-5 3.2-5 3.1-5.2 2.9-5.2 2.9-5.3 2.8-5.3 2.7-5.4 2.6-5.3 2.6-5.5 2.5-5.4 2.5-5.5 2.4-5.4 2.5-5.5 2.4-5.5 2.4-5.5 2.4-5.5 2.4-5.5 2.4-5.5 2.5-5.5 2.4-5.4 2.5-5.5 2.6-5.4 2.6-5.4 2.6-5.4 2.8-5.4 2.8-5.3 2.8-5.2 3-5.2 3.2-5.2 3.2-5 3.4-5 3.6-4.8 3.7-4.7 3.9-4.5 4.2-4.3 4.4-4.1 4.6-3.9 4.8-3.5 5.1-3.3 5.2-2.9 5.4-2.6 5.6-2.2 5.6-2 5.8-1.6 5.8-1.4 5.9-1.2 5.9-1 6-.8 5.9-.7 6-.6 6-.5 6-.4 6-.3 6-.3 6-.2 6-.2 6-.1 6-.1 6-.1 6-.1 6-.1 6-.1 6 0 6 0 6-.1 6 0 6 0 6 0 5.8-.1" stroke-opacity="0.062"/>
<path d="M61.1 277.6l1.6-.1 6-.4 6-.4 6-.6 5.9-.7 6-.8 5.9-1 5.8-1.2 5.9-1.5 5.7-1.6 5.7-2 5.5-2.3 5.5-2.6 5.2-2.9 5.1-3.2 4.8-3.5 4.7-3.8 4.4-4 4.3-4.3 4-4.4 3.9-4.6 3.7-4.7 3.6-4.8 3.4-4.9 3.3-5 3.2-5.1 3.1-5.2 3-5.1 3-5.3 2.9-5.2 2.8-5.3 2.8-5.3 2.7-5.4 2.7-5.3 2.7-5.4 2.7-5.3 2.7-5.4 2.7-5.4 2.7-5.3 2.7-5.4 2.7-5.4 2.7-5.3 2.8-5.3 2.8-5.3 2.9-5.3 3-5.2 3-5.2 3.1-5.1 3.1-5.1 3.3-5 3.4-5 3.5-4.8 3.7-4.8 3.8-4.6 4-4.5 4.2-4.3 4.3-4.2 4.5-3.9 4.8-3.7 4.9-3.4 5.1-3.2 5.2-2.9 5.4-2.6 5.6-2.3 5.6-2 5.7-1.8 5.8-1.6 5.9-1.3 5.9-1.2 5.9-1 5.9-.8 6-.7 6-.6 5.9-.6 6-.4 6-.4 6-.3 6-.3 6-.2 6-.2 6-.1 6-.2 6-.1 6-.1 6-.1 6 0 6-.1 .6 0" stroke-opacity="0.135"/>
<path d="M61.1 277.6l3-.2 5.9-.5 6-.6 6-.7 5.9-1 5.9-1.2 5.8-1.5 5.7-1.9 5.5-2.2 5.4-2.7 5.2-3 4.9-3.5 4.6-3.8 4.4-4.1 4.1-4.4 3.8-4.6 3.6-4.8 3.4-5 3.2-5 3.1-5.2 2.9-5.3 2.7-5.3 2.7-5.3 2.6-5.4 2.5-5.5 2.5-5.5 2.4-5.5 2.3-5.5 2.3-5.5 2.3-5.6 2.2-5.6 2.3-5.5 2.2-5.6 2.2-5.6 2.2-5.5 2.3-5.6 2.2-5.6 2.3-5.5 2.3-5.6 2.4-5.5 2.4-5.5 2.4-5.4 2.6-5.5 2.6-5.4 2.7-5.3 2.8-5.4 2.9-5.2 3.1-5.2 3.2-5 3.3-5 3.6-4.8 3.8-4.6 4-4.5 4.3-4.2 4.6-3.9 4.8-3.6 5-3.3 5.2-2.9 5.5-2.5 5.6-2.2 5.7-1.8 5.8-1.5 5.9-1.3 5.9-1 5.9-.9 6-.7 5.9-.6 6-.4 6-.4 6-.3 6-.3 6-.2 6-.1 6-.2 6-.1 6-.1 6 0 6-.1 6 0 6-.1 6 0 6 0 6-.1 6 0 6 0 6 0 6 0 6 0 6 0 2.6 0" stroke-opacity="0.107"/>
<path d="M61.1 277.6l.4-.1 6-.4 6-.7 5.9-.8 5.9-1.1 5.9-1.5 5.7-1.8 5.5-2.4 5.3-2.8 4.9-3.4 4.7-3.8 4.3-4.2 3.9-4.5 3.7-4.7 3.3-5 3.2-5.1 2.9-5.3 2.7-5.3 2.6-5.4 2.5-5.5 2.3-5.5 2.3-5.6 2.2-5.5 2.1-5.7 2-5.6 2.1-5.6 1.9-5.7 2-5.7 1.9-5.7 1.9-5.7 1.9-5.7 1.9-5.7 1.9-5.7 1.9-5.6 1.9-5.7 1.9-5.7 2-5.7 2-5.6 2-5.7 2.1-5.6 2.2-5.6 2.2-5.6 2.3-5.5 2.4-5.5 2.5-5.4 2.7-5.4 2.8-5.3 3-5.2 3.3-5.1 3.4-4.9 3.7-4.7 4.1-4.4 4.3-4.2 4.7-3.7 5-3.4 5.2-2.9 5.5-2.4 5.6-2 5.8-1.6 5.9-1.3 5.9-1 5.9-.8 6-.7 6-.4 6-.4 6-.3 6-.2 6-.2 6-.2 6-.1 6-.1 6 0 6-.1 6 0 6 0 6-.1 6 0 6 0 6 0 6 0 6 0 6 0 6 0 6 0 6 0 6 0 6 0 6 0 6 0 6 0 6 0 5.4 0" stroke-opacity="0.133"/>
<path d="M61.1 277.6l1.9-.1 6-.5 5.9-.5 6-.7 5.9-.9 5.9-1.1 5.9-1.4 5.7-1.7 5.7-2 5.5-2.4 5.3-2.8 5-3.3 4.8-3.5 4.6-3.9 4.3-4.2 4-4.5 3.8-4.6 3.6-4.8 3.4-5 3.2-5 3.1-5.2 2.9-5.2 2.8-5.3 2.7-5.4 2.7-5.4 2.5-5.4 2.5-5.5 2.4-5.4 2.4-5.5 2.4-5.6 2.3-5.5 2.3-5.5 2.3-5.6 2.3-5.5 2.3-5.6 2.3-5.5 2.3-5.5 2.4-5.6 2.3-5.5 2.4-5.5 2.5-5.5 2.4-5.4 2.6-5.5 2.6-5.4 2.7-5.3 2.8-5.3 2.9-5.3 3.1-5.1 3.1-5.1 3.4-5 3.5-4.9 3.7-4.7 3.9-4.6 4.2-4.3 4.3-4.1 4.7-3.8 4.9-3.4 5.1-3.2 5.3-2.8 5.5-2.4 5.6-2.1 5.7-1.8 5.8-1.5 5.9-1.2 5.9-1 6-.9 5.9-.7 6-.6 6-.4 6-.4 6-.3 6-.3 6-.2 5.9-.2 6-.1 6-.1 6-.1 6-.1 6-.1 6 0 6-.1 6 0 6 0 6 0 6-.1 6 0 6 0 6 0 6 0 1.4 0" stroke-opacity="0.079"/>
<path d="M61.1 277.6l1.2-.1 6-.3 6-.5 5.9-.6 6-.7 5.9-.8 5.9-1.1 5.9-1.2 5.8-1.5 5.8-1.8 5.6-2 5.5-2.4 5.4-2.7 5.1-3 5-3.4 4.8-3.6 4.6-3.9 4.3-4.1 4.1-4.4 4-4.5 3.8-4.7 3.6-4.8 3.4-4.9 3.3-5 3.2-5 3.2-5.2 3-5.2 2.9-5.2 2.9-5.3 2.8-5.3 2.7-5.3 2.7-5.4 2.7-5.3 2.7-5.4 2.6-5.4 2.6-5.4 2.6-5.4 2.7-5.4 2.6-5.4 2.6-5.4 2.7-5.3 2.7-5.4 2.8-5.3 2.8-5.3 2.8-5.3 2.9-5.3 3-5.2 3.1-5.1 3.1-5.1 3.3-5 3.4-5 3.5-4.8 3.7-4.8 3.8-4.6 4.1-4.5 4.2-4.2 4.3-4.1 4.6-3.9 4.8-3.6 5-3.3 5.2-3.1 5.3-2.7 5.5-2.5 5.6-2.2 5.7-1.9 5.7-1.6 5.9-1.5 5.8-1.2 5.9-1 6-.9 5.9-.8 6-.6 6-.5 6-.5 5.9-.4 6-.3 6-.3 6-.2 6-.2 6-.2 6-.1 6-.1 6-.1 6-.1 6-.1 6 0 6-.1 2.9 0" stroke-opacity="0.069"/>
<path d="M61.1 277.6l5-.4 5.9-.6 6-.7 5.9-1.1 5.9-1.3 5.7-1.7 5.6-2.1 5.4-2.7 5.1-3.1 4.8-3.6 4.5-4 4.1-4.4 3.8-4.6 3.5-4.9 3.3-5 3-5.2 2.9-5.2 2.7-5.4 2.5-5.4 2.5-5.5 2.3-5.5 2.3-5.6 2.1-5.6 2.2-5.6 2-5.6 2-5.7 2-5.6 2-5.7 1.9-5.7 2-5.7 1.9-5.7 1.9-5.6 1.9-5.7 2-5.7 1.9-5.7 2-5.6 2-5.7 2.1-5.6 2.1-5.6 2.2-5.6 2.2-5.6 2.3-5.5 2.4-5.5 2.5-5.5 2.7-5.4 2.7-5.3 3-5.2 3.2-5.1 3.3-5 3.7-4.7 3.9-4.6 4.2-4.3 4.5-3.9 4.9-3.5 5.1-3.1 5.4-2.7 5.5-2.2 5.8-1.8 5.8-1.5 5.9-1.2 5.9-.9 5.9-.7 6-.6 6-.4 6-.4 6-.3 6-.2 6-.1 6-.2 6-.1 6-.1 6 0 6-.1 6 0 6 0 6-.1 6 0 6 0 6 0 6 0 6 0 6 0 6 0 6 0 6 0 6 0 6 0 6 0 6 0 6 0 5.6 0" stroke-opacity="0.127"/>
<path d="M61.1 277.6l2.8-.2 6-.4 6-.5 6-.6 5.9-.7 6-1 5.9-1.1 5.8-1.3 5.8-1.6 5.7-1.9 5.6-2.2 5.4-2.5 5.3-2.9 5.1-3.2 4.8-3.5 4.7-3.8 4.4-4 4.2-4.3 4.1-4.4 3.8-4.6 3.7-4.8 3.5-4.9 3.3-4.9 3.2-5.1 3.2-5.1 3-5.2 2.9-5.2 2.9-5.3 2.8-5.3 2.7-5.3 2.8-5.4 2.6-5.4 2.7-5.4 2.6-5.4 2.6-5.4 2.6-5.4 2.5-5.4 2.6-5.4 2.7-5.4 2.6-5.4 2.6-5.4 2.7-5.3 2.8-5.4 2.8-5.3 2.8-5.3 2.9-5.2 3-5.2 3.1-5.1 3.2-5.1 3.3-5 3.4-5 3.6-4.8 3.8-4.7 3.9-4.5 4.1-4.4 4.2-4.2 4.5-4 4.7-3.7 4.9-3.5 5.1-3.2 5.2-2.9 5.5-2.6 5.5-2.3 5.6-2 5.8-1.8 5.8-1.5 5.8-1.3 5.9-1.1 6-.9 5.9-.8 6-.7 6-.5 5.9-.5 6-.4 6-.3 6-.3 6-.3 6-.2 6-.1 6-.2 6-.1 6-.1 6-.1 6-.1 6 0 6-.1 6 0 2.2 0" stroke-opacity="0.119"/>
<path d="M61.1 277.6l2.8-.2 5.9-.4 6-.6 6-.7 5.9-1 5.9-1.1 5.8-1.4 5.8-1.7 5.6-2.1 5.4-2.5 5.3-2.9 5.1-3.2 4.7-3.6 4.6-4 4.2-4.2 4-4.5 3.8-4.7 3.5-4.8 3.4-5 3.2-5 3-5.2 3-5.3 2.8-5.3 2.7-5.3 2.6-5.4 2.5-5.4 2.5-5.5 2.4-5.5 2.4-5.5 2.4-5.5 2.3-5.5 2.3-5.6 2.3-5.5 2.3-5.6 2.3-5.5 2.3-5.6 2.3-5.5 2.4-5.5 2.3-5.5 2.4-5.5 2.5-5.5 2.5-5.5 2.5-5.4 2.7-5.4 2.7-5.3 2.8-5.3 2.9-5.3 3.1-5.1 3.2-5.1 3.3-5 3.6-4.8 3.7-4.7 4-4.5 4.1-4.3 4.5-4.1 4.6-3.7 5-3.5 5.1-3.1 5.3-2.7 5.5-2.4 5.7-2 5.7-1.8 5.8-1.4 5.9-1.2 5.9-1 6-.9 5.9-.7 6-.5 6-.5 6-.4 6-.3 6-.2 6-.2 6-.2 6-.1 6-.1 6-.1 6-.1 6-.1 6 0 6-.1 6 0 6 0 6 0 6-.1 6 0 6 0 6 0 6 0 .4 0" stroke-opacity="0.062"/>
<path d="M61.1 277.6l3.3-.3 6-.5 5.9-.6 6-.9 5.8-1.2 5.9-1.4 5.7-1.8 5.5-2.3 5.4-2.7 5-3.2 4.8-3.7 4.5-4 4.1-4.3 3.9-4.6 3.6-4.8 3.3-5 3.1-5.1 3-5.3 2.7-5.3 2.7-5.4 2.5-5.4 2.5-5.5 2.3-5.5 2.3-5.6 2.2-5.5 2.2-5.6 2.1-5.6 2.1-5.7 2-5.6 2.1-5.7 2-5.6 2-5.6 2-5.7 2.1-5.6 2-5.7 2.1-5.6 2-5.6 2.2-5.7 2.1-5.6 2.2-5.5 2.3-5.6 2.4-5.5 2.4-5.5 2.5-5.4 2.6-5.4 2.8-5.4 2.9-5.2 3.1-5.2 3.3-5 3.4-4.9 3.8-4.7 4-4.4 4.3-4.2 4.6-3.9 4.9-3.5 5.1-3 5.4-2.7 5.5-2.3 5.7-1.8 5.8-1.6 5.9-1.2 5.9-1 6-.8 5.9-.6 6-.5 6-.4 6-.3 6-.3 6-.2 6-.1 6-.2 6-.1 6 0 6-.1 6-.1 6 0 6 0 6 0 6-.1 6 0 6 0 6 0 6 0 6 0 6 0 6 0 6 0 6 0 6 0 6 0 3.6 0" stroke-opacity="0.037"/>
<path d="M61.1 277.6l1.9-.1 6-.5 6-.6 5.9-.8 5.9-1 5.9-1.3 5.8-1.6 5.6-2 5.5-2.4 5.3-2.8 5-3.3 4.8-3.7 4.4-4 4.1-4.4 3.9-4.6 3.6-4.8 3.4-4.9 3.2-5.1 3-5.2 2.8-5.3 2.7-5.3 2.6-5.4 2.6-5.5 2.4-5.5 2.3-5.5 2.3-5.5 2.3-5.6 2.2-5.6 2.2-5.6 2.1-5.6 2.1-5.6 2.2-5.6 2.1-5.6 2.1-5.6 2.1-5.6 2.1-5.6 2.2-5.6 2.2-5.6 2.2-5.6 2.3-5.5 2.3-5.6 2.4-5.5 2.4-5.5 2.6-5.4 2.6-5.4 2.7-5.3 2.9-5.3 3.1-5.2 3.2-5 3.3-5 3.7-4.8 3.8-4.6 4.1-4.3 4.4-4.1 4.7-3.8 4.9-3.4 5.2-3.1 5.4-2.6 5.5-2.2 5.7-1.9 5.8-1.6 5.9-1.2 5.9-1.1 5.9-.8 6-.7 6-.5 6-.5 5.9-.3 6-.3 6-.2 6-.2 6-.2 6-.1 6-.1 6 0 6-.1 6 0 6-.1 6 0 6 0 6-.1 6 0 6 0 6 0 6 0 6 0 6 0 6 0 6 0 6 0 1.7 0" stroke-opacity="0.110"/>
<path d="M61.1 277.6l4.6-.3 6-.5 6-.7 5.9-.8 5.9-1.1 5.9-1.3 5.7-1.7 5.7-2.1 5.4-2.4 5.3-2.9 5-3.3 4.8-3.6 4.4-4 4.2-4.4 3.9-4.5 3.7-4.8 3.4-4.9 3.2-5 3.1-5.2 2.9-5.2 2.8-5.3 2.7-5.4 2.6-5.4 2.5-5.5 2.4-5.5 2.4-5.5 2.3-5.5 2.3-5.6 2.2-5.5 2.2-5.6 2.2-5.6 2.2-5.6 2.2-5.6 2.2-5.6 2.1-5.5 2.2-5.6 2.3-5.6 2.2-5.6 2.3-5.5 2.3-5.5 2.4-5.5 2.5-5.5 2.5-5.5 2.6-5.4 2.7-5.3 2.9-5.3 2.9-5.2 3.1-5.2 3.3-5 3.4-4.9 3.7-4.8 3.9-4.5 4.1-4.3 4.5-4.1 4.6-3.8 5-3.4 5.1-3 5.4-2.7 5.6-2.3 5.6-1.9 5.8-1.6 5.9-1.3 5.9-1.1 5.9-.9 5.9-.8 6-.6 6-.4 6-.4 6-.3 6-.3 6-.2 6-.2 6-.1 6-.1 6-.1 6 0 6-.1 6 0 6-.1 6 0 6 0 6-.1 6 0 6 0 6 0 6 0 6 0 6 0 6 0 2.5 0" stroke-opacity="0.016"/>
<path d="M61.1 277.6l4.4-.3 6-.5 5.9-.7 6-.8 5.9-1.1 5.8-1.4 5.8-1.7 5.6-2.1 5.5-2.5 5.2-2.9 5-3.3 4.7-3.8 4.4-4.1 4.1-4.3 3.8-4.6 3.6-4.8 3.4-5 3.2-5.1 3-5.2 2.9-5.2 2.7-5.4 2.6-5.4 2.6-5.4 2.4-5.5 2.4-5.5 2.3-5.5 2.3-5.6 2.3-5.5 2.2-5.6 2.1-5.6 2.2-5.6 2.2-5.6 2.1-5.6 2.2-5.6 2.1-5.6 2.2-5.6 2.2-5.6 2.2-5.5 2.3-5.6 2.3-5.5 2.4-5.5 2.4-5.5 2.5-5.5 2.6-5.4 2.7-5.3 2.8-5.3 2.9-5.3 3.1-5.1 3.3-5 3.5-4.9 3.7-4.8 3.9-4.5 4.1-4.3 4.5-4.1 4.7-3.7 5-3.3 5.2-3 5.4-2.6 5.6-2.2 5.7-1.8 5.8-1.6 5.8-1.3 6-1 5.9-.8 6-.7 5.9-.6 6-.4 6-.4 6-.3 6-.2 6-.2 6-.1 6-.1 6-.1 6-.1 6-.1 6 0 6-.1 6 0 6 0 6-.1 6 0 6 0 6 0 6 0 6 0 6 0 6 0 6 0 3.8 0" stroke-opacity="0.126"/>
<path d="M61.1 277.6l2.7-.1 6-.4 5.9-.5 6-.6 6-.7 5.9-.9 5.9-1 5.9-1.2 5.8-1.5 5.8-1.7 5.6-2 5.6-2.3 5.4-2.6 5.2-2.9 5-3.3 4.9-3.5 4.6-3.8 4.5-4 4.2-4.3 4.1-4.4 3.9-4.6 3.7-4.7 3.5-4.8 3.5-4.9 3.3-5 3.2-5.1 3.1-5.1 3-5.2 3-5.2 2.9-5.3 2.8-5.3 2.8-5.3 2.8-5.3 2.7-5.4 2.7-5.3 2.7-5.4 2.7-5.3 2.7-5.4 2.7-5.4 2.7-5.3 2.7-5.3 2.8-5.4 2.8-5.3 2.8-5.3 2.9-5.2 3-5.2 3-5.2 3.1-5.2 3.2-5 3.3-5 3.4-5 3.6-4.8 3.7-4.7 3.8-4.7 4-4.4 4.2-4.3 4.3-4.2 4.6-3.9 4.7-3.6 5-3.5 5.1-3.1 5.2-2.9 5.5-2.6 5.5-2.3 5.6-2 5.8-1.8 5.8-1.5 5.8-1.4 5.9-1.1 5.9-1 6-.9 5.9-.7 6-.6 6-.5 5.9-.5 6-.3 6-.4 6-.2 6-.3 6-.2 6-.1 6-.2 6-.1 6-.1 6-.1 6 0 5.1-.1" stroke-opacity="0.017"/>
<path d="M61.1 277.6l4.1-.3 6-.5 5.9-.6 6-.8 5.9-1 5.9-1.2 5.8-1.6 5.7-1.9 5.5-2.3 5.4-2.7 5.1-3.1 4.9-3.5 4.6-3.8 4.3-4.2 4.1-4.4 3.8-4.6 3.6-4.8 3.4-5 3.2-5.1 3-5.1 2.9-5.3 2.8-5.3 2.7-5.4 2.6-5.4 2.5-5.4 2.4-5.5 2.4-5.5 2.4-5.5 2.3-5.6 2.3-5.5 2.2-5.6 2.3-5.5 2.2-5.6 2.3-5.6 2.2-5.5 2.2-5.6 2.3-5.5 2.3-5.6 2.3-5.5 2.4-5.5 2.4-5.5 2.5-5.5 2.6-5.4 2.6-5.4 2.7-5.4 2.8-5.3 3-5.2 3-5.1 3.3-5.1 3.4-4.9 3.6-4.8 3.8-4.6 4.1-4.4 4.3-4.2 4.6-3.9 4.8-3.6 5.1-3.2 5.2-2.8 5.5-2.5 5.6-2.2 5.7-1.8 5.8-1.5 5.9-1.2 5.9-1.1 5.9-.8 6-.7 6-.6 6-.4 6-.4 5.9-.3 6-.3 6-.2 6-.1 6-.2 6-.1 6-.1 6 0 6-.1 6 0 6-.1 6 0 6 0 6-.1 6 0 6 0 6 0 6 0 6 0 6 0 1.1 0" stroke-opacity="0.043"/>
<path d="M61.1 277.6l3.9-.3 5.9-.5 6-.6 6-.8 5.9-1 5.8-1.3 5.8-1.7 5.7-1.9 5.5-2.4 5.3-2.8 5-3.2 4.8-3.6 4.5-4 4.3-4.3 3.9-4.5 3.7-4.7 3.5-4.9 3.3-5 3.1-5.1 2.9-5.3 2.8-5.3 2.7-5.3 2.6-5.4 2.6-5.5 2.4-5.4 2.4-5.6 2.3-5.5 2.3-5.5 2.3-5.6 2.2-5.6 2.2-5.5 2.2-5.6 2.2-5.6 2.2-5.6 2.1-5.6 2.2-5.6 2.3-5.5 2.2-5.6 2.3-5.5 2.4-5.6 2.3-5.5 2.5-5.5 2.5-5.4 2.6-5.4 2.7-5.4 2.8-5.3 2.9-5.2 3.1-5.2 3.3-5 3.4-4.9 3.6-4.8 3.9-4.6 4.1-4.4 4.4-4.1 4.6-3.8 4.9-3.5 5.1-3.1 5.4-2.7 5.5-2.3 5.6-2 5.8-1.7 5.8-1.4 5.9-1.1 6-1 5.9-.7 6-.6 6-.5 5.9-.4 6-.4 6-.2 6-.2 6-.2 6-.2 6-.1 6-.1 6 0 6-.1 6 0 6-.1 6 0 6 0 6-.1 6 0 6 0 6 0 6 0 6 0 6 0 6 0 3.1 0" stroke-opacity="0.062"/>
<path d="M61.1 277.6l3.8-.2 6-.4 6-.5 6-.6 5.9-.7 6-.9 5.9-1 5.8-1.2 5.9-1.5 5.7-1.7 5.7-2 5.5-2.3 5.4-2.6 5.3-2.9 5-3.2 4.9-3.5 4.7-3.8 4.5-4 4.2-4.2 4.1-4.4 4-4.5 3.7-4.7 3.6-4.8 3.5-4.9 3.3-5 3.3-5 3.1-5.1 3.1-5.2 3-5.2 2.9-5.2 2.9-5.3 2.8-5.2 2.8-5.4 2.8-5.3 2.7-5.3 2.8-5.4 2.7-5.3 2.7-5.3 2.8-5.4 2.7-5.3 2.8-5.3 2.8-5.4 2.8-5.2 2.9-5.3 2.9-5.2 3-5.3 3-5.1 3.2-5.1 3.2-5.1 3.3-5 3.5-4.9 3.5-4.8 3.7-4.8 3.9-4.6 4-4.4 4.1-4.3 4.4-4.2 4.5-3.9 4.8-3.7 4.9-3.4 5.1-3.2 5.2-2.9 5.4-2.6 5.5-2.4 5.7-2 5.7-1.9 5.8-1.6 5.8-1.4 5.9-1.1 5.9-1.1 5.9-.9 6-.7 6-.7 5.9-.5 6-.5 6-.4 6-.3 6-.3 6-.2 6-.3 6-.1 6-.2 6-.1 6-.1 6-.1 6-.1 2.8 0" stroke-opacity="0.045"/>
<path d="M61.1 277.6l2.9-.2 5.9-.4 6-.5 6-.6 5.9-.7 6-1 5.9-1.1 5.8-1.3 5.8-1.6 5.7-1.9 5.6-2.2 5.4-2.5 5.3-2.9 5.1-3.1 4.9-3.5 4.6-3.8 4.5-4 4.2-4.3 4-4.4 3.9-4.7 3.6-4.7 3.5-4.9 3.4-4.9 3.2-5.1 3.2-5.1 3-5.2 2.9-5.2 2.9-5.3 2.8-5.3 2.8-5.3 2.7-5.4 2.6-5.4 2.7-5.3 2.6-5.4 2.6-5.4 2.6-5.5 2.6-5.4 2.6-5.4 2.6-5.4 2.6-5.4 2.7-5.3 2.7-5.4 2.7-5.3 2.8-5.4 2.9-5.2 2.9-5.3 3-5.2 3.1-5.1 3.2-5.1 3.3-5 3.4-4.9 3.6-4.8 3.7-4.7 3.9-4.6 4.1-4.4 4.3-4.2 4.5-4 4.7-3.7 4.9-3.5 5-3.2 5.3-2.9 5.4-2.6 5.5-2.3 5.7-2 5.7-1.8 5.8-1.5 5.9-1.3 5.9-1.1 5.9-1 5.9-.8 6-.6 6-.6 6-.5 5.9-.4 6-.3 6-.3 6-.3 6-.2 6-.1 6-.2 6-.1 6-.1 6-.1 6-.1 6 0 6-.1 6 0 2.1 0" stroke-opacity="0.084"/>
<path d="M61.1 277.6l3.8-.2 6-.5 5.9-.5 6-.7 6-.8 5.9-1 5.8-1.2 5.9-1.5 5.7-1.7 5.6-2.1 5.5-2.4 5.4-2.7 5.1-3.1 4.9-3.4 4.7-3.7 4.5-4 4.3-4.3 4-4.4 3.8-4.6 3.7-4.8 3.5-4.9 3.3-5 3.2-5.1 3.1-5.1 3-5.2 2.9-5.3 2.8-5.3 2.7-5.3 2.7-5.4 2.6-5.3 2.6-5.5 2.6-5.4 2.6-5.4 2.5-5.4 2.5-5.5 2.5-5.4 2.6-5.5 2.5-5.4 2.6-5.4 2.5-5.5 2.6-5.4 2.7-5.3 2.7-5.4 2.8-5.3 2.8-5.3 2.9-5.3 3-5.2 3.1-5.1 3.2-5.1 3.3-5 3.5-4.9 3.6-4.7 3.8-4.7 4-4.5 4.2-4.3 4.4-4 4.6-3.9 4.8-3.5 5.1-3.3 5.2-3 5.4-2.6 5.5-2.4 5.6-2 5.8-1.8 5.8-1.5 5.8-1.3 5.9-1.1 5.9-.9 6-.8 6-.7 5.9-.5 6-.5 6-.4 6-.3 6-.3 6-.2 6-.2 6-.1 6-.2 6-.1 6-.1 6 0 6-.1 6-.1 6 0 6 0 6-.1 3.6 0" stroke-opacity="0.037"/>
<path d="M61.1 277.6l5.8-.3 6-.5 5.9-.5 6-.7 5.9-.8 6-.9 5.9-1.2 5.8-1.3 5.8-1.7 5.7-1.9 5.5-2.2 5.5-2.5 5.3-2.8 5.1-3.2 4.9-3.5 4.7-3.7 4.5-4 4.2-4.2 4.1-4.4 3.9-4.5 3.8-4.7 3.5-4.8 3.5-5 3.3-5 3.2-5 3.1-5.2 3-5.1 3-5.3 2.8-5.2 2.9-5.3 2.8-5.3 2.7-5.4 2.7-5.3 2.7-5.4 2.7-5.4 2.6-5.3 2.7-5.4 2.7-5.4 2.7-5.4 2.7-5.3 2.7-5.4 2.8-5.3 2.8-5.3 2.8-5.3 2.9-5.2 3-5.2 3.1-5.2 3.1-5.1 3.3-5 3.3-5 3.5-4.9 3.6-4.8 3.8-4.6 3.9-4.6 4.2-4.3 4.3-4.2 4.5-4 4.6-3.7 4.9-3.5 5.1-3.3 5.2-2.9 5.4-2.6 5.5-2.4 5.6-2.1 5.7-1.8 5.8-1.6 5.9-1.4 5.8-1.2 6-1 5.9-.8 6-.8 5.9-.6 6-.5 6-.5 6-.3 6-.4 6-.2 5.9-.3 6-.2 6-.1 6-.2 6-.1 6-.1 6-.1 6 0 6-.1 2.9 0" stroke-opacity="0.050"/>
<path d="M61.1 277.6l1.8-.1 6-.4 6-.6 6-.6 5.9-.8 5.9-1 5.9-1.2 5.8-1.5 5.8-1.7 5.6-2.1 5.5-2.5 5.3-2.8 5-3.2 4.9-3.5 4.6-3.8 4.4-4.1 4.2-4.3 3.9-4.5 3.7-4.7 3.6-4.9 3.4-4.9 3.2-5.1 3.1-5.1 3-5.3 2.8-5.2 2.8-5.3 2.8-5.4 2.6-5.4 2.6-5.4 2.6-5.4 2.5-5.4 2.5-5.5 2.4-5.5 2.5-5.4 2.4-5.5 2.5-5.5 2.4-5.5 2.5-5.4 2.5-5.5 2.5-5.5 2.5-5.4 2.6-5.4 2.7-5.4 2.7-5.4 2.7-5.3 2.9-5.3 2.9-5.2 3.1-5.2 3.1-5 3.3-5.1 3.5-4.9 3.6-4.8 3.8-4.6 4-4.5 4.2-4.3 4.4-4 4.7-3.8 4.8-3.5 5.1-3.2 5.3-2.9 5.4-2.5 5.6-2.2 5.7-2 5.7-1.6 5.9-1.4 5.8-1.2 6-1 5.9-.8 6-.7 5.9-.6 6-.5 6-.4 6-.3 6-.3 6-.2 6-.2 6-.2 6-.1 6-.1 6-.1 6-.1 6 0 6-.1 6 0 6-.1 6 0 6 0 6 0 2.1 0" stroke-opacity="0.045"/>
<path d="M61.1 277.6l.4 0 6-.4 6-.5 6-.6 5.9-.7 5.9-1 5.9-1.1 5.9-1.4 5.7-1.6 5.7-2 5.6-2.2 5.3-2.7 5.2-3 5-3.3 4.8-3.7 4.5-4 4.3-4.2 4-4.4 3.9-4.6 3.6-4.7 3.5-4.9 3.3-5 3.2-5.1 3.1-5.1 3-5.3 2.8-5.2 2.8-5.3 2.7-5.4 2.7-5.4 2.6-5.4 2.6-5.4 2.5-5.4 2.5-5.5 2.5-5.4 2.5-5.5 2.5-5.5 2.5-5.4 2.4-5.5 2.5-5.4 2.6-5.5 2.5-5.4 2.6-5.4 2.7-5.4 2.7-5.4 2.7-5.3 2.9-5.3 2.9-5.2 3-5.2 3.2-5.1 3.2-5 3.4-5 3.6-4.8 3.7-4.7 4-4.6 4.1-4.3 4.3-4.2 4.6-3.9 4.7-3.6 5-3.4 5.2-3 5.3-2.7 5.5-2.4 5.6-2.1 5.8-1.8 5.8-1.6 5.8-1.3 5.9-1.1 5.9-.9 6-.8 6-.7 5.9-.5 6-.5 6-.3 6-.4 6-.2 6-.2 6-.2 6-.2 6-.1 6-.1 6-.1 6-.1 6 0 6-.1 6 0 6-.1 6 0 6 0 2.4 0" stroke-opacity="0.069"/>
<path d="M61.1 277.6l4.6-.3 6-.5 6-.6 5.9-.8 5.9-1 5.9-1.2 5.8-1.5 5.7-1.8 5.6-2.2 5.4-2.6 5.3-3 4.9-3.3 4.7-3.7 4.5-4.1 4.2-4.2 3.9-4.6 3.7-4.7 3.5-4.8 3.4-5 3.1-5.1 3-5.2 2.9-5.3 2.8-5.3 2.7-5.4 2.6-5.4 2.5-5.4 2.5-5.5 2.5-5.5 2.3-5.5 2.4-5.5 2.3-5.5 2.3-5.5 2.3-5.6 2.3-5.5 2.3-5.6 2.4-5.5 2.3-5.5 2.3-5.6 2.4-5.5 2.4-5.5 2.5-5.4 2.5-5.5 2.6-5.4 2.7-5.4 2.7-5.3 2.9-5.3 2.9-5.2 3.1-5.1 3.3-5.1 3.4-4.9 3.6-4.8 3.8-4.7 4-4.4 4.2-4.3 4.5-3.9 4.8-3.7 4.9-3.3 5.2-3 5.4-2.7 5.6-2.3 5.6-2 5.8-1.6 5.8-1.4 5.9-1.2 5.9-.9 6-.8 6-.7 5.9-.5 6-.5 6-.3 6-.3 6-.3 6-.2 6-.1 6-.1 6-.2 6 0 6-.1 6-.1 6 0 6-.1 6 0 6 0 6 0 6-.1 6 0 6 0 6 0 4.3 0" stroke-opacity="0.110"/>
<path d="M61.1 277.6l1.2-.1 6-.4 5.9-.4 6-.6 6-.8 5.9-.8 5.9-1.1 5.9-1.3 5.8-1.6 5.7-1.9 5.6-2.1 5.4-2.5 5.3-2.9 5.1-3.2 4.8-3.5 4.7-3.8 4.4-4 4.2-4.3 4-4.4 3.8-4.7 3.7-4.8 3.5-4.8 3.3-5 3.2-5.1 3.1-5.1 3-5.2 2.9-5.3 2.8-5.3 2.8-5.3 2.7-5.4 2.7-5.3 2.6-5.4 2.6-5.4 2.6-5.4 2.6-5.5 2.5-5.4 2.6-5.4 2.5-5.4 2.6-5.5 2.6-5.4 2.6-5.4 2.7-5.3 2.7-5.4 2.8-5.3 2.8-5.3 2.9-5.3 2.9-5.2 3.1-5.2 3.1-5.1 3.3-5 3.4-4.9 3.6-4.9 3.7-4.7 3.9-4.6 4-4.4 4.3-4.2 4.5-4 4.6-3.8 4.9-3.5 5.1-3.1 5.2-2.9 5.5-2.6 5.5-2.3 5.7-2 5.7-1.7 5.8-1.5 5.9-1.3 5.9-1.1 5.9-.9 6-.8 5.9-.6 6-.6 6-.4 6-.4 6-.3 6-.3 6-.3 5.9-.1 6-.2 6-.1 6-.2 6 0 6-.1 6-.1 6 0 6-.1 6 0 5-.1" stroke-opacity="0.028"/>
<path d="M61.1 277.6l1.9-.2 6-.4 6-.6 5.9-.8 5.9-1.1 5.9-1.3 5.8-1.6 5.6-2.1 5.5-2.5 5.2-2.9 4.9-3.4 4.7-3.8 4.3-4.1 4.1-4.4 3.8-4.7 3.5-4.9 3.3-5 3.1-5.1 2.9-5.2 2.8-5.4 2.7-5.3 2.5-5.5 2.5-5.4 2.3-5.5 2.4-5.6 2.2-5.5 2.2-5.6 2.2-5.6 2.1-5.6 2.1-5.7 2.1-5.6 2.1-5.6 2-5.6 2.1-5.7 2.1-5.6 2.1-5.6 2.1-5.6 2.2-5.6 2.2-5.6 2.2-5.6 2.3-5.5 2.4-5.5 2.4-5.5 2.6-5.5 2.6-5.3 2.7-5.4 2.9-5.2 3-5.2 3.3-5.1 3.4-4.9 3.6-4.8 3.9-4.6 4.1-4.3 4.5-4 4.7-3.7 5-3.4 5.2-2.9 5.5-2.5 5.6-2.1 5.7-1.8 5.8-1.5 5.9-1.2 5.9-.9 6-.8 5.9-.6 6-.5 6-.4 6-.3 6-.3 6-.2 6-.1 6-.1 6-.1 6-.1 6-.1 6 0 6-.1 6 0 6 0 6-.1 6 0 6 0 6 0 6 0 6 0 6 0 6 0 6 0 6 0 6 0 2.9 0" stroke-opacity="0.119"/>
<path d="M61.1 277.6l2.9-.2 6-.4 6-.5 6-.6 5.9-.7 6-.9 5.9-1.1 5.8-1.3 5.8-1.5 5.7-1.8 5.6-2.1 5.5-2.5 5.4-2.7 5.1-3.1 5-3.4 4.7-3.7 4.5-3.9 4.3-4.2 4.2-4.3 3.9-4.6 3.7-4.7 3.6-4.8 3.5-4.9 3.3-5 3.2-5.1 3.1-5.1 3-5.2 2.9-5.2 2.9-5.3 2.8-5.3 2.8-5.3 2.7-5.4 2.7-5.3 2.7-5.4 2.6-5.4 2.6-5.4 2.7-5.4 2.6-5.3 2.7-5.4 2.6-5.4 2.7-5.4 2.8-5.3 2.7-5.3 2.8-5.3 2.9-5.3 2.9-5.2 3.1-5.2 3.1-5.2 3.2-5 3.3-5 3.4-5 3.6-4.8 3.7-4.7 3.8-4.6 4.1-4.4 4.2-4.3 4.5-4 4.6-3.8 4.8-3.6 5-3.3 5.2-3 5.4-2.7 5.5-2.4 5.6-2.1 5.7-1.9 5.8-1.6 5.8-1.4 5.9-1.2 5.9-1.1 5.9-.8 6-.8 5.9-.6 6-.5 6-.5 6-.4 6-.3 6-.3 6-.2 6-.2 6-.2 6-.1 6-.1 6-.1 6-.1 6-.1 6 0 6-.1 .6 0" stroke-opacity="0.141"/>
<path d="M61.1 277.6l3.9-.3 6-.5 6-.7 5.9-.8 5.9-1.1 5.9-1.4 5.7-1.8 5.6-2.1 5.4-2.6 5.2-3 4.9-3.5 4.6-3.8 4.3-4.2 4-4.5 3.8-4.6 3.5-4.9 3.2-5 3.1-5.2 3-5.2 2.7-5.3 2.7-5.4 2.6-5.4 2.4-5.5 2.4-5.5 2.3-5.6 2.3-5.5 2.2-5.6 2.2-5.6 2.1-5.6 2.2-5.6 2.1-5.6 2.1-5.6 2.1-5.6 2.1-5.7 2.1-5.6 2.1-5.6 2.2-5.6 2.2-5.6 2.2-5.5 2.3-5.6 2.3-5.5 2.4-5.5 2.5-5.5 2.5-5.4 2.7-5.4 2.8-5.3 2.9-5.2 3.1-5.2 3.3-5 3.5-4.9 3.7-4.7 3.9-4.5 4.2-4.3 4.5-4 4.8-3.6 5-3.3 5.3-2.8 5.5-2.5 5.6-2.1 5.7-1.7 5.9-1.4 5.9-1.2 5.9-.9 5.9-.8 6-.6 6-.5 6-.4 6-.3 6-.2 6-.2 5.9-.2 6-.1 6-.1 6-.1 6-.1 6 0 6-.1 6 0 6 0 6-.1 6 0 6 0 6 0 6 0 6 0 6 0 6 0 6 0 6 0 6 0 .1 0" stroke-opacity="0.097"/>
<path d="M61.1 277.6l4.6-.3 6-.5 6-.5 5.9-.7 6-.9 5.9-1.1 5.8-1.3 5.8-1.6 5.7-1.9 5.5-2.2 5.5-2.6 5.2-3 5-3.3 4.8-3.6 4.5-4 4.3-4.1 4.1-4.4 3.8-4.6 3.7-4.8 3.5-4.9 3.3-5 3.2-5.1 3-5.1 3-5.3 2.8-5.2 2.8-5.3 2.7-5.4 2.6-5.4 2.6-5.4 2.6-5.4 2.5-5.5 2.5-5.4 2.5-5.5 2.4-5.5 2.5-5.5 2.4-5.4 2.5-5.5 2.5-5.5 2.5-5.4 2.5-5.5 2.6-5.4 2.6-5.4 2.7-5.4 2.7-5.3 2.8-5.3 2.9-5.3 3-5.2 3.1-5.1 3.2-5.1 3.4-4.9 3.5-4.9 3.7-4.7 3.9-4.6 4-4.4 4.3-4.2 4.6-3.9 4.7-3.7 4.9-3.4 5.2-3.1 5.3-2.7 5.5-2.4 5.6-2.1 5.8-1.9 5.7-1.5 5.9-1.3 5.9-1.1 5.9-1 6-.8 5.9-.6 6-.6 6-.4 6-.4 6-.3 6-.3 6-.2 6-.2 6-.1 6-.1 6-.1 6-.1 6-.1 6 0 6-.1 6 0 6-.1 6 0 6 0 5 0" stroke-opacity="0.116"/>
<path d="M61.1 277.6l2.1-.2 5.9-.5 6-.7 5.9-.9 5.9-1.2 5.8-1.5 5.7-2 5.5-2.4 5.2-3 4.9-3.4 4.6-3.9 4.2-4.2 3.9-4.6 3.6-4.8 3.3-5 3.1-5.2 2.9-5.2 2.7-5.4 2.6-5.4 2.4-5.5 2.4-5.5 2.2-5.5 2.2-5.6 2.1-5.6 2.1-5.7 2-5.6 2-5.7 1.9-5.7 1.9-5.7 1.9-5.6 1.9-5.7 1.9-5.7 1.9-5.7 1.9-5.7 2-5.7 1.9-5.7 2-5.6 2-5.7 2.1-5.6 2.1-5.6 2.2-5.6 2.2-5.6 2.4-5.5 2.4-5.5 2.6-5.4 2.7-5.3 2.9-5.3 3-5.2 3.3-5 3.5-4.9 3.8-4.6 4.1-4.4 4.4-4.1 4.8-3.6 5-3.3 5.3-2.8 5.5-2.3 5.7-2 5.8-1.5 5.9-1.3 5.9-1 5.9-.7 6-.6 6-.5 6-.4 6-.2 6-.3 6-.1 6-.2 6-.1 6-.1 6 0 6-.1 6 0 6 0 6-.1 6 0 6 0 6 0 6 0 6 0 6 0 6 0 6 0 6 0 6 0 6 0 6 0 6 0 6 0 6 0 3.4 0" stroke-opacity="0.045"/>
<path d="M61.1 277.6l2.6-.2 6-.4 6-.6 5.9-.8 6-.9 5.8-1.2 5.9-1.5 5.7-1.8 5.6-2.2 5.4-2.6 5.2-3 4.9-3.3 4.7-3.8 4.4-4.1 4.1-4.3 3.9-4.6 3.7-4.8 3.4-4.9 3.3-5 3.1-5.2 2.9-5.2 2.8-5.3 2.7-5.3 2.7-5.4 2.5-5.5 2.5-5.4 2.4-5.5 2.3-5.5 2.4-5.6 2.3-5.5 2.2-5.6 2.3-5.5 2.2-5.6 2.3-5.6 2.2-5.5 2.2-5.6 2.3-5.5 2.3-5.6 2.3-5.5 2.4-5.5 2.4-5.5 2.5-5.5 2.5-5.4 2.6-5.4 2.7-5.4 2.8-5.3 2.9-5.3 3.1-5.1 3.2-5.1 3.3-5 3.6-4.8 3.8-4.7 4-4.4 4.2-4.3 4.5-3.9 4.8-3.7 5-3.3 5.2-3 5.4-2.6 5.6-2.2 5.6-1.9 5.8-1.6 5.9-1.3 5.9-1.1 5.9-.9 6-.7 5.9-.6 6-.5 6-.4 6-.3 6-.3 6-.2 6-.2 6-.1 6-.1 6-.1 6-.1 6-.1 6 0 6-.1 6 0 6 0 6 0 6-.1 6 0 6 0 6 0 6 0 6 0 2.4 0" stroke-opacity="0.078"/>
<path d="M61.1 277.6l.9-.1 5.9-.4 6-.5 6-.7 5.9-.8 5.9-1.1 5.9-1.3 5.8-1.6 5.6-2 5.5-2.3 5.4-2.8 5.1-3.1 4.9-3.5 4.6-3.8 4.3-4.2 4.1-4.4 3.9-4.6 3.6-4.7 3.4-5 3.3-5 3.1-5.1 3-5.2 2.8-5.3 2.7-5.4 2.7-5.3 2.6-5.5 2.5-5.4 2.4-5.5 2.5-5.5 2.3-5.5 2.4-5.5 2.3-5.6 2.3-5.5 2.3-5.5 2.3-5.6 2.3-5.5 2.3-5.6 2.3-5.5 2.4-5.5 2.4-5.5 2.4-5.5 2.5-5.5 2.5-5.4 2.7-5.4 2.6-5.3 2.8-5.4 2.9-5.2 3-5.2 3.2-5.1 3.3-5 3.5-4.9 3.6-4.8 3.9-4.5 4.1-4.4 4.3-4.2 4.6-3.8 4.9-3.6 5-3.2 5.3-2.8 5.5-2.6 5.6-2.1 5.7-1.9 5.8-1.5 5.8-1.3 5.9-1.1 6-.9 5.9-.7 6-.6 6-.5 5.9-.4 6-.3 6-.3 6-.2 6-.2 6-.2 6-.1 6-.1 6-.1 6 0 6-.1 6 0 6-.1 6 0 6 0 6 0 6-.1 6 0 6 0 6 0 2.2 0" stroke-opacity="0.072"/>
<path d="M61.1 277.6l3.8-.2 6-.4 6-.6 6-.6 5.9-.8 5.9-.9 5.9-1.1 5.9-1.4 5.8-1.6 5.7-1.9 5.5-2.2 5.5-2.6 5.2-2.8 5.1-3.2 4.9-3.5 4.6-3.8 4.5-4 4.2-4.3 4.1-4.4 3.8-4.6 3.7-4.8 3.5-4.8 3.4-5 3.2-5 3.2-5.1 3-5.2 3-5.2 2.8-5.3 2.9-5.3 2.7-5.3 2.7-5.4 2.7-5.3 2.7-5.4 2.6-5.4 2.6-5.4 2.7-5.4 2.6-5.4 2.6-5.4 2.6-5.4 2.7-5.4 2.6-5.3 2.8-5.4 2.7-5.3 2.8-5.3 2.9-5.3 2.9-5.2 3-5.2 3.2-5.1 3.2-5.1 3.3-5 3.4-4.9 3.6-4.8 3.8-4.7 3.9-4.5 4.1-4.4 4.3-4.2 4.5-4 4.7-3.7 4.9-3.5 5.1-3.2 5.2-2.9 5.4-2.6 5.6-2.3 5.6-2 5.8-1.8 5.8-1.5 5.8-1.3 5.9-1.1 5.9-1 6-.8 5.9-.7 6-.5 6-.5 6-.4 6-.4 6-.3 6-.2 5.9-.2 6-.2 6-.2 6-.1 6-.1 6-.1 6 0 6-.1 6-.1 6 0 .6 0" stroke-opacity="0.028"/>
<path d="M61.1 277.6l.8-.1 6-.4 6-.5 6-.7 5.9-.9 5.9-1.1 5.8-1.3 5.8-1.7 5.6-2 5.5-2.4 5.3-2.8 5.1-3.2 4.8-3.6 4.6-4 4.2-4.2 4-4.4 3.8-4.7 3.6-4.8 3.3-5 3.2-5.1 3-5.2 2.9-5.2 2.8-5.3 2.7-5.4 2.6-5.4 2.5-5.4 2.5-5.5 2.4-5.5 2.4-5.5 2.3-5.5 2.3-5.6 2.3-5.5 2.3-5.6 2.2-5.5 2.3-5.6 2.3-5.6 2.2-5.5 2.3-5.5 2.4-5.6 2.3-5.5 2.5-5.5 2.4-5.5 2.5-5.4 2.6-5.4 2.7-5.4 2.8-5.3 2.9-5.3 3-5.2 3.1-5.1 3.3-5 3.5-4.8 3.7-4.8 3.9-4.5 4.2-4.4 4.4-4.1 4.6-3.8 4.9-3.4 5.1-3.2 5.3-2.7 5.5-2.4 5.6-2.1 5.8-1.8 5.8-1.4 5.9-1.2 5.9-1 5.9-.9 6-.6 6-.6 6-.4 5.9-.4 6-.3 6-.3 6-.2 6-.1 6-.2 6-.1 6-.1 6 0 6-.1 6 0 6-.1 6 0 6 0 6 0 6-.1 6 0 6 0 6 0 6 0 3.4 0" stroke-opacity="0.033"/>
<path d="M61.1 277.6l1.7-.1 6-.5 6-.5 5.9-.7 6-.9 5.8-1.2 5.9-1.4 5.7-1.7 5.6-2.1 5.5-2.5 5.2-2.9 5-3.3 4.8-3.7 4.5-4 4.2-4.3 3.9-4.5 3.7-4.7 3.5-4.9 3.3-5 3.1-5.1 3-5.3 2.9-5.2 2.7-5.4 2.7-5.3 2.5-5.5 2.5-5.4 2.5-5.5 2.3-5.5 2.4-5.5 2.3-5.6 2.3-5.5 2.2-5.6 2.3-5.5 2.3-5.6 2.2-5.6 2.3-5.5 2.2-5.6 2.3-5.5 2.4-5.6 2.3-5.5 2.4-5.5 2.5-5.4 2.5-5.5 2.6-5.4 2.7-5.4 2.8-5.3 2.9-5.2 3-5.2 3.2-5.1 3.3-5 3.5-4.8 3.8-4.7 3.9-4.5 4.2-4.3 4.5-4.1 4.7-3.7 4.9-3.4 5.2-3 5.3-2.7 5.6-2.3 5.6-2 5.8-1.7 5.8-1.3 5.9-1.2 6-.9 5.9-.8 6-.6 6-.6 5.9-.4 6-.3 6-.3 6-.2 6-.2 6-.2 6-.1 6-.1 6-.1 6 0 6-.1 6 0 6-.1 6 0 6 0 6-.1 6 0 6 0 6 0 6 0 6 0 3 0" stroke-opacity="0.146"/>
<path d="M61.1 277.6l.2 0 6-.4 5.9-.4 6-.6 6-.6 5.9-.8 5.9-1 5.9-1.2 5.9-1.4 5.7-1.6 5.7-1.9 5.6-2.3 5.4-2.5 5.3-2.9 5-3.2 4.9-3.5 4.7-3.8 4.5-4 4.2-4.2 4.1-4.4 3.9-4.6 3.7-4.7 3.5-4.8 3.5-5 3.2-5 3.2-5.1 3.1-5.1 3-5.2 3-5.2 2.8-5.3 2.9-5.3 2.7-5.3 2.8-5.4 2.7-5.3 2.6-5.4 2.7-5.4 2.7-5.3 2.6-5.4 2.7-5.4 2.7-5.4 2.7-5.3 2.7-5.4 2.8-5.3 2.8-5.3 2.8-5.3 2.9-5.2 3-5.2 3.1-5.2 3.1-5.1 3.3-5 3.4-5 3.5-4.9 3.6-4.7 3.8-4.7 3.9-4.5 4.2-4.3 4.3-4.2 4.5-4 4.7-3.7 4.9-3.5 5.1-3.2 5.2-2.9 5.4-2.6 5.5-2.3 5.7-2.1 5.7-1.8 5.8-1.5 5.8-1.4 5.9-1.1 6-1 5.9-.9 5.9-.7 6-.6 6-.5 6-.4 6-.4 6-.3 6-.3 5.9-.2 6-.2 6-.2 6-.1 6-.1 6-.1 6-.1 6-.1 6 0 2.7 0" stroke-opacity="0.034"/>
<path d="M61.1 277.6l1-.1 6-.4 6-.5 5.9-.6 6-.9 5.9-1 5.9-1.2 5.8-1.5 5.7-1.8 5.6-2.2 5.4-2.6 5.2-2.9 5-3.3 4.8-3.6 4.5-4 4.3-4.2 4-4.4 3.8-4.7 3.6-4.8 3.5-4.9 3.2-5 3.1-5.2 3-5.2 2.9-5.2 2.8-5.3 2.7-5.4 2.6-5.4 2.6-5.4 2.5-5.5 2.5-5.4 2.4-5.5 2.4-5.5 2.4-5.5 2.4-5.5 2.4-5.5 2.4-5.5 2.4-5.5 2.4-5.5 2.4-5.5 2.4-5.5 2.5-5.5 2.6-5.4 2.6-5.4 2.6-5.4 2.7-5.3 2.8-5.3 3-5.3 3-5.2 3.1-5.1 3.3-5 3.5-4.9 3.6-4.8 3.8-4.6 4-4.4 4.3-4.3 4.5-4 4.7-3.7 4.9-3.4 5.2-3.1 5.3-2.7 5.5-2.4 5.6-2.1 5.8-1.7 5.8-1.5 5.8-1.3 6-1.1 5.9-.8 5.9-.8 6-.6 6-.5 6-.4 6-.3 6-.3 6-.2 6-.2 6-.2 6-.1 5.9-.1 6-.1 6-.1 6-.1 6 0 6 0 6-.1 6 0 6 0 6 0 6-.1 5.3 0" stroke-opacity="0.076"/>
<path d="M61.1 277.6l.1 0 6-.4 6-.5 5.9-.7 6-.8 5.9-1 5.8-1.3 5.8-1.6 5.7-1.9 5.6-2.2 5.4-2.7 5.1-3 5-3.4 4.6-3.8 4.4-4.1 4.2-4.3 3.9-4.6 3.7-4.7 3.5-4.9 3.3-5 3.1-5.1 3-5.2 2.9-5.3 2.8-5.3 2.6-5.3 2.7-5.5 2.5-5.4 2.5-5.5 2.4-5.4 2.4-5.5 2.3-5.6 2.4-5.5 2.3-5.5 2.3-5.6 2.3-5.5 2.3-5.5 2.4-5.6 2.3-5.5 2.4-5.5 2.4-5.5 2.4-5.5 2.5-5.4 2.5-5.5 2.6-5.4 2.7-5.4 2.8-5.3 2.9-5.2 3-5.2 3.1-5.2 3.3-5 3.4-4.9 3.7-4.8 3.8-4.6 4.1-4.4 4.3-4.2 4.5-3.9 4.8-3.6 5-3.3 5.2-2.9 5.4-2.6 5.6-2.3 5.7-1.9 5.8-1.6 5.8-1.4 5.9-1.1 5.9-.9 6-.8 5.9-.6 6-.6 6-.4 6-.3 6-.3 6-.3 6-.2 6-.1 6-.2 6-.1 6 0 6-.1 6-.1 6 0 6-.1 6 0 6 0 6 0 6-.1 6 0 6 0 6 0 2.5 0" stroke-opacity="0.074"/>
<path d="M61.1 277.6l1-.1 6-.4 5.9-.5 6-.6 6-.8 5.9-1 5.9-1.2 5.8-1.4 5.7-1.8 5.6-2.1 5.5-2.5 5.3-2.8 5.1-3.2 4.8-3.5 4.6-3.8 4.4-4.2 4.1-4.3 3.9-4.6 3.7-4.7 3.5-4.9 3.4-4.9 3.2-5.1 3.1-5.2 2.9-5.2 2.9-5.3 2.7-5.3 2.7-5.4 2.6-5.4 2.6-5.4 2.5-5.4 2.5-5.5 2.5-5.4 2.4-5.5 2.5-5.5 2.4-5.5 2.4-5.5 2.4-5.5 2.5-5.5 2.4-5.4 2.5-5.5 2.5-5.4 2.6-5.5 2.6-5.4 2.7-5.3 2.7-5.4 2.8-5.3 3-5.2 3-5.2 3.1-5.1 3.3-5 3.5-4.9 3.6-4.8 3.7-4.7 4-4.5 4.2-4.3 4.5-4 4.6-3.8 4.9-3.5 5.1-3.2 5.3-2.8 5.4-2.5 5.6-2.2 5.7-1.9 5.8-1.6 5.8-1.4 5.9-1.1 5.9-1 6-.8 5.9-.7 6-.5 6-.5 6-.4 6-.3 6-.3 5.9-.2 6-.2 6-.1 6-.1 6-.1 6-.1 6-.1 6-.1 6 0 6 0 6-.1 6 0 6 0 6 0 3.9-.1" stroke-opacity="0.047"/>
<path d="M61.1 277.6l4.8-.4 5.9-.5 6-.6 5.9-.9 5.9-1.1 5.9-1.4 5.7-1.7 5.6-2.1 5.5-2.6 5.2-2.9 4.9-3.4 4.7-3.8 4.4-4.1 4.1-4.4 3.8-4.6 3.6-4.8 3.3-5 3.2-5.1 3-5.2 2.8-5.3 2.8-5.3 2.6-5.4 2.5-5.4 2.4-5.5 2.4-5.5 2.3-5.6 2.3-5.5 2.2-5.6 2.2-5.6 2.2-5.6 2.2-5.6 2.1-5.6 2.2-5.6 2.1-5.6 2.2-5.6 2.2-5.6 2.2-5.5 2.2-5.6 2.2-5.6 2.4-5.5 2.3-5.5 2.5-5.5 2.5-5.4 2.6-5.5 2.7-5.3 2.8-5.3 2.9-5.2 3.1-5.2 3.3-5 3.5-4.9 3.7-4.7 3.9-4.5 4.2-4.3 4.5-4 4.7-3.7 5-3.3 5.3-3 5.4-2.5 5.6-2.2 5.7-1.8 5.8-1.5 5.9-1.3 5.9-1 5.9-.8 6-.7 6-.5 5.9-.5 6-.3 6-.3 6-.2 6-.2 6-.1 6-.2 6-.1 6 0 6-.1 6 0 6-.1 6 0 6 0 6-.1 6 0 6 0 6 0 6 0 6 0 6 0 6 0 6 0 3.6 0" stroke-opacity="0.035"/>
<path d="M61.1 277.6l3.7-.3 6-.5 5.9-.8 6-.9 5.8-1.3 5.8-1.6 5.6-2.1 5.5-2.5 5.1-3.1 4.9-3.5 4.5-4 4.2-4.3 3.8-4.6 3.6-4.8 3.3-5 3-5.2 2.9-5.2 2.7-5.4 2.6-5.4 2.4-5.5 2.4-5.5 2.2-5.6 2.2-5.6 2.1-5.6 2.1-5.6 2-5.7 2-5.6 1.9-5.7 2-5.7 1.9-5.7 1.9-5.7 1.9-5.6 1.9-5.7 2-5.7 1.9-5.7 2-5.7 2-5.6 2-5.6 2.1-5.7 2.2-5.6 2.2-5.6 2.3-5.5 2.3-5.5 2.5-5.5 2.6-5.4 2.8-5.3 2.9-5.2 3.1-5.2 3.4-5 3.5-4.8 3.9-4.6 4.2-4.3 4.4-4 4.8-3.6 5.1-3.2 5.4-2.7 5.5-2.3 5.7-1.8 5.8-1.6 5.9-1.2 5.9-.9 6-.8 5.9-.6 6-.4 6-.4 6-.3 6-.2 6-.1 6-.2 6-.1 6-.1 6 0 6-.1 6 0 6 0 6-.1 6 0 6 0 6 0 6 0 6 0 6 0 6 0 6 0 6 0 6 0 6 0 6 0 6 0 6 0 6 0 1.2 0" stroke-opacity="0.067"/>
<path d="M61.1 277.6l2.5-.2 6-.4 6-.6 5.9-.7 6-.8 5.9-1.1 5.8-1.4 5.8-1.6 5.6-2 5.6-2.3 5.3-2.7 5.1-3.2 4.9-3.4 4.7-3.8 4.4-4.1 4.1-4.4 3.9-4.5 3.7-4.8 3.5-4.9 3.3-5 3.1-5.1 3-5.1 2.9-5.3 2.8-5.3 2.7-5.4 2.7-5.4 2.5-5.4 2.5-5.4 2.5-5.5 2.4-5.5 2.4-5.5 2.4-5.5 2.3-5.5 2.4-5.5 2.3-5.6 2.4-5.5 2.3-5.5 2.4-5.5 2.4-5.5 2.5-5.5 2.4-5.5 2.6-5.4 2.6-5.4 2.6-5.4 2.7-5.3 2.9-5.3 2.9-5.3 3.1-5.1 3.1-5.1 3.4-5 3.5-4.9 3.7-4.7 3.9-4.6 4.1-4.3 4.3-4.2 4.6-3.8 4.8-3.6 5.1-3.2 5.2-2.9 5.5-2.6 5.6-2.2 5.6-1.9 5.8-1.6 5.9-1.4 5.9-1.1 5.9-.9 5.9-.8 6-.6 6-.6 6-.4 5.9-.4 6-.3 6-.2 6-.2 6-.2 6-.1 6-.1 6-.1 6-.1 6-.1 6 0 6 0 6-.1 6 0 6 0 6-.1 6 0 6 0 4.9 0" stroke-opacity="0.126"/>
<path d="M61.1 277.6l1-.1 6-.5 5.9-.7 5.9-.8 5.9-1.2 5.8-1.6 5.7-2 5.4-2.5 5.2-3 4.9-3.5 4.5-4 4.1-4.3 3.8-4.6 3.5-4.9 3.3-5.1 3-5.2 2.8-5.3 2.6-5.4 2.5-5.4 2.4-5.5 2.2-5.6 2.2-5.6 2.1-5.6 2-5.6 2-5.7 2-5.7 1.9-5.7 1.9-5.7 1.8-5.7 1.9-5.7 1.8-5.7 1.9-5.7 1.8-5.7 1.9-5.7 1.9-5.7 1.9-5.7 1.9-5.7 1.9-5.6 2.1-5.7 2-5.6 2.2-5.6 2.2-5.6 2.3-5.6 2.4-5.5 2.5-5.4 2.7-5.4 2.8-5.3 3-5.1 3.3-5.1 3.5-4.8 3.8-4.7 4.1-4.3 4.4-4.1 4.8-3.6 5.1-3.2 5.4-2.7 5.5-2.2 5.8-1.8 5.8-1.5 5.9-1.1 5.9-.9 6-.7 5.9-.5 6-.4 6-.4 6-.2 6-.2 6-.1 6-.2 6 0 6-.1 6-.1 6 0 6 0 6-.1 6 0 6 0 6 0 6 0 6 0 6 0 6 0 6 0 6 0 6 0 6 0 6 0 6 0 6 0 6 0 6 0 6 0 .7 0" stroke-opacity="0.141"/>
<path d="M61.1 277.6l5.4-.4 5.9-.4 6-.7 6-.7 5.9-1 5.9-1.1 5.8-1.5 5.7-1.7 5.7-2.1 5.4-2.4 5.3-2.9 5.1-3.1 4.9-3.6 4.5-3.9 4.4-4.1 4.1-4.4 3.9-4.6 3.6-4.7 3.5-4.9 3.3-5 3.1-5.1 3.1-5.2 2.9-5.2 2.8-5.3 2.7-5.4 2.7-5.4 2.5-5.4 2.6-5.4 2.5-5.5 2.4-5.5 2.4-5.5 2.4-5.5 2.4-5.5 2.4-5.5 2.4-5.5 2.4-5.5 2.4-5.5 2.4-5.5 2.4-5.5 2.5-5.4 2.5-5.5 2.6-5.4 2.6-5.4 2.8-5.3 2.7-5.3 2.9-5.3 3-5.2 3.1-5.1 3.3-5.1 3.4-4.9 3.6-4.8 3.7-4.7 4-4.5 4.2-4.3 4.4-4.1 4.6-3.7 4.9-3.5 5.1-3.2 5.3-2.8 5.5-2.5 5.6-2.2 5.7-1.8 5.7-1.6 5.9-1.4 5.9-1.1 5.9-.9 6-.8 5.9-.6 6-.5 6-.5 6-.3 6-.3 6-.3 6-.2 6-.2 6-.1 6-.1 6-.1 6-.1 6 0 6-.1 6 0 6-.1 6 0 6 0 6 0 6-.1 6 0 .8 0" stroke-opacity="0.104"/>
<path d="M61.1 277.6l.3 0 6-.4 6-.5 5.9-.6 6-.7 5.9-1 5.9-1.1 5.9-1.4 5.7-1.6 5.7-2 5.5-2.3 5.4-2.7 5.2-3 4.9-3.4 4.8-3.7 4.4-4 4.3-4.2 4-4.5 3.9-4.6 3.6-4.8 3.4-4.9 3.3-5 3.2-5.1 3.1-5.1 2.9-5.3 2.8-5.2 2.8-5.4 2.7-5.3 2.7-5.4 2.6-5.4 2.5-5.4 2.5-5.5 2.5-5.5 2.5-5.4 2.5-5.5 2.4-5.5 2.5-5.4 2.5-5.5 2.5-5.4 2.5-5.5 2.5-5.4 2.6-5.4 2.7-5.4 2.6-5.4 2.8-5.3 2.8-5.3 3-5.2 3-5.2 3.1-5.1 3.3-5.1 3.4-4.9 3.5-4.8 3.8-4.7 3.9-4.6 4.1-4.3 4.4-4.2 4.5-3.9 4.8-3.6 5-3.3 5.2-3 5.4-2.7 5.5-2.4 5.6-2 5.8-1.8 5.8-1.5 5.8-1.3 5.9-1.1 6-.9 5.9-.7 6-.7 6-.5 5.9-.5 6-.3 6-.3 6-.3 6-.2 6-.2 6-.1 6-.1 6-.1 6-.1 6-.1 6-.1 6 0 6 0 6-.1 6 0 6 0 3 0" stroke-opacity="0.104"/>
<path d="M61.1 277.6l3.6-.3 6-.5 5.9-.7 6-.9 5.9-1.2 5.8-1.5 5.7-1.9 5.5-2.3 5.3-2.8 5-3.3 4.7-3.6 4.4-4.1 4.1-4.4 3.8-4.7 3.5-4.8 3.3-5.1 3.1-5.1 2.9-5.3 2.7-5.3 2.6-5.4 2.5-5.5 2.4-5.5 2.3-5.5 2.3-5.6 2.2-5.5 2.1-5.7 2.1-5.6 2.1-5.6 2-5.7 2-5.6 2-5.7 2-5.6 2-5.7 2-5.6 2.1-5.7 2-5.6 2.1-5.6 2.1-5.7 2.1-5.6 2.3-5.5 2.2-5.6 2.4-5.5 2.4-5.5 2.5-5.5 2.6-5.3 2.8-5.4 2.9-5.2 3.1-5.2 3.3-5 3.5-4.8 3.8-4.7 4-4.4 4.4-4.2 4.6-3.8 4.9-3.4 5.2-3 5.4-2.6 5.6-2.2 5.7-1.8 5.9-1.4 5.8-1.2 6-1 5.9-.7 6-.6 6-.5 6-.3 5.9-.3 6-.3 6-.2 6-.1 6-.1 6-.1 6-.1 6 0 6-.1 6 0 6 0 6-.1 6 0 6 0 6 0 6 0 6 0 6 0 6 0 6 0 6 0 6 0 6 0 6 0 4 0" stroke-opacity="0.119"/>
<path d="M61.1 277.6l1.3-.1 6-.5 5.9-.7 6-.9 5.8-1.2 5.8-1.5 5.7-2 5.5-2.4 5.2-3 4.9-3.5 4.5-3.9 4.2-4.3 3.8-4.6 3.6-4.9 3.2-5 3.1-5.2 2.8-5.3 2.7-5.3 2.5-5.5 2.4-5.5 2.3-5.5 2.2-5.6 2.2-5.6 2-5.6 2-5.7 2-5.7 1.9-5.6 2-5.7 1.8-5.7 1.9-5.7 1.9-5.7 1.8-5.7 1.9-5.7 1.9-5.7 1.9-5.7 1.9-5.7 1.9-5.7 2-5.6 2.1-5.7 2-5.6 2.2-5.6 2.2-5.6 2.3-5.5 2.5-5.5 2.5-5.4 2.7-5.4 2.8-5.3 3.1-5.2 3.2-5 3.5-4.9 3.8-4.6 4.1-4.4 4.5-4 4.7-3.7 5.1-3.2 5.3-2.8 5.6-2.2 5.7-1.9 5.8-1.5 5.8-1.2 6-.9 5.9-.7 6-.6 6-.4 6-.4 6-.2 6-.2 6-.2 6-.1 6-.1 6-.1 6 0 6-.1 6 0 6-.1 6 0 6 0 6 0 6 0 6 0 6 0 6 0 6 0 6 0 6 0 6 0 6 0 6 0 6 0 6 0 6 0 5.5 0" stroke-opacity="0.145"/>
<path d="M61.1 277.6l5.3-.4 6-.6 5.9-.7 6-.9 5.8-1.3 5.8-1.5 5.7-2 5.5-2.4 5.3-2.8 5-3.3 4.7-3.8 4.4-4.1 4-4.4 3.8-4.6 3.6-4.9 3.2-5 3.1-5.1 3-5.3 2.7-5.3 2.6-5.4 2.6-5.4 2.4-5.5 2.3-5.5 2.3-5.6 2.2-5.6 2.2-5.6 2.1-5.6 2.1-5.6 2.1-5.6 2-5.7 2.1-5.6 2-5.7 2-5.6 2.1-5.7 2-5.6 2.1-5.6 2.1-5.6 2.2-5.6 2.2-5.6 2.2-5.6 2.3-5.5 2.4-5.5 2.4-5.5 2.6-5.4 2.7-5.4 2.8-5.3 3-5.2 3.1-5.1 3.3-5 3.6-4.8 3.8-4.7 4.1-4.4 4.4-4.1 4.6-3.7 5-3.4 5.2-3 5.4-2.6 5.6-2.1 5.7-1.8 5.8-1.5 5.9-1.2 6-.9 5.9-.8 6-.6 6-.5 5.9-.4 6-.3 6-.2 6-.2 6-.2 6-.1 6-.1 6 0 6-.1 6-.1 6 0 6 0 6 0 6-.1 6 0 6 0 6 0 6 0 6 0 6 0 6 0 6 0 6 0 6 0 6 0 1.1 0" stroke-opacity="0.024"/>
<path d="M61.1 277.6l1.9-.1 6-.5 6-.5 5.9-.7 5.9-.9 5.9-1.2 5.9-1.4 5.7-1.7 5.7-2 5.4-2.5 5.3-2.9 5-3.2 4.8-3.6 4.5-4 4.3-4.2 4-4.5 3.7-4.7 3.6-4.8 3.3-5 3.2-5.1 3-5.2 2.9-5.3 2.8-5.3 2.7-5.3 2.6-5.4 2.5-5.5 2.5-5.5 2.4-5.4 2.3-5.6 2.4-5.5 2.3-5.5 2.3-5.6 2.3-5.5 2.2-5.6 2.3-5.5 2.3-5.6 2.3-5.5 2.3-5.6 2.3-5.5 2.4-5.5 2.4-5.5 2.5-5.4 2.6-5.5 2.6-5.4 2.7-5.3 2.8-5.3 2.9-5.3 3-5.2 3.2-5.1 3.3-4.9 3.5-4.9 3.8-4.7 3.9-4.5 4.2-4.3 4.4-4.1 4.7-3.8 4.9-3.4 5.1-3.1 5.4-2.7 5.5-2.4 5.6-2 5.8-1.7 5.8-1.5 5.9-1.2 5.9-1 5.9-.8 6-.7 6-.5 5.9-.5 6-.3 6-.3 6-.3 6-.2 6-.1 6-.2 6-.1 6 0 6-.1 6-.1 6 0 6-.1 6 0 6 0 6 0 6-.1 6 0 6 0 6 0 6 0 2 0" stroke-opacity="0.013"/>
<path d="M61.1 277.6l5-.4 6-.5 5.9-.6 6-.9 5.9-1 5.8-1.4 5.8-1.6 5.6-2 5.5-2.5 5.3-2.8 5-3.3 4.8-3.6 4.5-4 4.2-4.2 4-4.6 3.7-4.7 3.4-4.9 3.3-5 3.1-5.1 3-5.2 2.8-5.3 2.7-5.4 2.6-5.4 2.6-5.4 2.4-5.5 2.4-5.5 2.4-5.5 2.3-5.6 2.2-5.5 2.3-5.6 2.2-5.6 2.2-5.5 2.2-5.6 2.2-5.6 2.2-5.6 2.2-5.6 2.3-5.5 2.2-5.6 2.4-5.5 2.3-5.5 2.4-5.5 2.5-5.5 2.5-5.4 2.6-5.4 2.8-5.4 2.8-5.3 3-5.2 3.1-5.1 3.2-5 3.5-5 3.7-4.7 3.9-4.6 4.1-4.3 4.4-4.1 4.6-3.8 5-3.4 5.1-3.1 5.4-2.7 5.5-2.3 5.7-2 5.7-1.7 5.9-1.4 5.8-1.1 6-.9 5.9-.8 6-.6 6-.5 6-.4 5.9-.3 6-.3 6-.2 6-.2 6-.1 6-.2 6 0 6-.1 6-.1 6 0 6-.1 6 0 6 0 6 0 6-.1 6 0 6 0 6 0 6 0 6 0 6 0 1.4 0" stroke-opacity="0.140"/>
<path d="M61.1 277.6l5.9-.4 6-.5 6-.6 5.9-.8 5.9-1 5.9-1.3 5.8-1.5 5.7-1.8 5.6-2.2 5.4-2.6 5.2-3 5-3.3 4.8-3.7 4.4-4 4.2-4.3 4-4.5 3.8-4.6 3.5-4.9 3.4-5 3.2-5 3-5.2 3-5.2 2.8-5.3 2.7-5.4 2.7-5.3 2.6-5.5 2.5-5.4 2.4-5.5 2.5-5.5 2.4-5.5 2.3-5.5 2.4-5.5 2.3-5.5 2.4-5.6 2.3-5.5 2.3-5.5 2.4-5.5 2.4-5.5 2.4-5.5 2.5-5.5 2.5-5.4 2.5-5.5 2.6-5.4 2.7-5.3 2.8-5.3 2.9-5.3 3-5.2 3.1-5.1 3.3-5.1 3.4-4.9 3.6-4.8 3.8-4.6 4.1-4.4 4.2-4.3 4.5-3.9 4.8-3.7 4.9-3.4 5.2-3 5.4-2.7 5.5-2.3 5.7-2 5.7-1.7 5.8-1.5 5.9-1.2 5.9-1 6-.8 5.9-.7 6-.5 6-.5 6-.4 6-.3 6-.3 6-.2 6-.1 6-.2 6-.1 6-.1 6-.1 6 0 6-.1 6 0 6-.1 6 0 6 0 6 0 6-.1 6 0 6 0 1.7 0" stroke-opacity="0.096"/>
<path d="M61.1 277.6l4-.2 6-.4 6-.6 5.9-.6 6-.7 5.9-.9 5.9-1.1 5.9-1.4 5.8-1.5 5.7-1.9 5.6-2.1 5.4-2.4 5.4-2.8 5.1-3.1 5-3.4 4.7-3.7 4.5-3.9 4.3-4.2 4.2-4.3 3.9-4.6 3.7-4.7 3.6-4.8 3.5-4.9 3.3-4.9 3.3-5.1 3.1-5.1 3-5.2 2.9-5.2 2.9-5.3 2.9-5.3 2.7-5.3 2.8-5.4 2.7-5.3 2.7-5.4 2.6-5.4 2.7-5.3 2.6-5.4 2.7-5.4 2.7-5.4 2.7-5.3 2.7-5.4 2.7-5.3 2.8-5.3 2.8-5.3 2.9-5.3 3-5.2 3-5.2 3.1-5.1 3.2-5.1 3.4-5 3.4-4.9 3.6-4.8 3.7-4.7 3.9-4.5 4.1-4.5 4.3-4.2 4.4-4 4.6-3.8 4.9-3.6 5-3.2 5.2-3 5.4-2.7 5.4-2.5 5.6-2.1 5.7-1.9 5.8-1.6 5.9-1.4 5.8-1.2 5.9-1.1 6-.8 5.9-.8 6-.6 6-.6 6-.4 5.9-.4 6-.3 6-.3 6-.3 6-.2 6-.1 6-.2 6-.1 6-.1 6-.1 6 0 6-.1 5 0" stroke-opacity="0.106"/>
<path d="M61.1 277.6l3.4-.2 6-.5 6-.6 5.9-.8 6-.9 5.8-1.2 5.8-1.5 5.8-1.8 5.5-2.2 5.5-2.6 5.2-2.9 4.9-3.4 4.7-3.7 4.5-4.1 4.1-4.3 4-4.5 3.6-4.8 3.5-4.9 3.3-5 3.1-5.1 3-5.2 2.9-5.3 2.7-5.3 2.7-5.4 2.5-5.4 2.5-5.5 2.5-5.5 2.4-5.5 2.3-5.5 2.3-5.5 2.3-5.6 2.3-5.5 2.3-5.6 2.3-5.5 2.2-5.6 2.3-5.5 2.3-5.6 2.3-5.5 2.4-5.5 2.4-5.5 2.4-5.5 2.5-5.5 2.5-5.4 2.7-5.4 2.7-5.3 2.8-5.3 2.9-5.3 3.1-5.1 3.2-5.1 3.4-4.9 3.6-4.9 3.7-4.6 4.1-4.5 4.2-4.2 4.5-4 4.7-3.7 5-3.3 5.2-3 5.4-2.6 5.6-2.3 5.6-1.9 5.8-1.7 5.9-1.3 5.9-1.1 5.9-1 5.9-.7 6-.7 6-.5 6-.4 6-.3 6-.3 5.9-.2 6-.2 6-.2 6-.1 6-.1 6-.1 6 0 6-.1 6 0 6-.1 6 0 6 0 6-.1 6 0 6 0 6 0 6 0 6 0 .7 0" stroke-opacity="0.145"/>
<path d="M61.1 277.6l3.6-.3 6-.4 6-.6 5.9-.8 6-1 5.8-1.2 5.9-1.5 5.7-1.8 5.5-2.3 5.4-2.6 5.2-3 4.9-3.4 4.7-3.8 4.4-4.1 4.1-4.3 3.9-4.6 3.7-4.8 3.4-4.9 3.2-5 3.1-5.2 3-5.2 2.8-5.3 2.7-5.3 2.7-5.4 2.5-5.5 2.5-5.4 2.4-5.5 2.4-5.5 2.3-5.5 2.4-5.6 2.2-5.5 2.3-5.6 2.3-5.5 2.2-5.6 2.3-5.6 2.2-5.5 2.3-5.6 2.3-5.5 2.4-5.5 2.3-5.5 2.5-5.5 2.5-5.5 2.5-5.4 2.6-5.4 2.8-5.4 2.8-5.3 2.9-5.2 3.1-5.1 3.2-5.1 3.4-4.9 3.6-4.9 3.8-4.6 4-4.5 4.3-4.2 4.5-3.9 4.8-3.6 5-3.3 5.2-3 5.4-2.5 5.6-2.3 5.7-1.9 5.8-1.5 5.8-1.4 5.9-1 6-.9 5.9-.8 6-.6 6-.5 6-.4 6-.3 6-.3 5.9-.2 6-.2 6-.1 6-.1 6-.1 6-.1 6-.1 6 0 6-.1 6 0 6 0 6 0 6-.1 6 0 6 0 6 0 6 0 6 0 .9 0" stroke-opacity="0.056"/>
<path d="M61.1 277.6l3.1-.2 6-.4 5.9-.5 6-.6 6-.7 5.9-.9 5.9-1.1 5.9-1.3 5.8-1.5 5.7-1.8 5.6-2.2 5.5-2.4 5.3-2.7 5.2-3.1 4.9-3.4 4.8-3.7 4.5-3.9 4.3-4.1 4.1-4.4 4-4.5 3.7-4.7 3.6-4.8 3.5-4.9 3.3-5 3.2-5.1 3.1-5.1 3.1-5.2 2.9-5.2 2.9-5.3 2.8-5.3 2.8-5.3 2.7-5.4 2.7-5.3 2.6-5.4 2.7-5.4 2.6-5.4 2.7-5.3 2.6-5.4 2.7-5.4 2.7-5.4 2.7-5.3 2.7-5.4 2.8-5.3 2.8-5.3 2.9-5.3 2.9-5.2 3-5.2 3.1-5.1 3.2-5.1 3.3-5 3.5-4.9 3.5-4.8 3.7-4.8 3.9-4.5 4.1-4.5 4.2-4.2 4.4-4.1 4.7-3.8 4.8-3.5 5-3.3 5.2-3 5.3-2.8 5.5-2.4 5.6-2.1 5.7-1.9 5.8-1.6 5.8-1.5 5.9-1.2 5.9-1 6-.9 5.9-.7 6-.7 5.9-.5 6-.5 6-.3 6-.4 6-.2 6-.3 6-.2 6-.1 6-.2 6-.1 6-.1 6-.1 6-.1 6 0 6-.1 .3 0" stroke-opacity="0.011"/>
<path d="M61.1 277.6l4.3-.3 6-.6 6-.6 5.9-.9 5.9-1.2 5.8-1.4 5.7-1.9 5.6-2.2 5.4-2.7 5.1-3.1 4.8-3.6 4.5-3.9 4.2-4.3 3.9-4.6 3.7-4.7 3.4-5 3.2-5 3-5.2 2.9-5.3 2.7-5.3 2.6-5.5 2.5-5.4 2.4-5.5 2.3-5.5 2.3-5.6 2.2-5.6 2.2-5.6 2.1-5.6 2.1-5.6 2.1-5.6 2.1-5.6 2.1-5.7 2-5.6 2.1-5.6 2.1-5.7 2.1-5.6 2.1-5.6 2.2-5.6 2.2-5.6 2.3-5.5 2.3-5.5 2.4-5.6 2.4-5.4 2.6-5.4 2.7-5.4 2.8-5.3 2.9-5.3 3.1-5.1 3.3-5 3.5-4.9 3.7-4.7 4-4.4 4.3-4.3 4.6-3.8 4.8-3.6 5.1-3.1 5.4-2.8 5.5-2.3 5.7-2 5.7-1.6 5.9-1.3 5.9-1.1 5.9-.8 6-.7 6-.6 5.9-.4 6-.4 6-.2 6-.3 6-.1 6-.2 6-.1 6-.1 6-.1 6 0 6-.1 6 0 6 0 6 0 6-.1 6 0 6 0 6 0 6 0 6 0 6 0 6 0 6 0 6 0 6 0 .8 0" stroke-opacity="0.108"/>
<path d="M61.1 277.6l2.5-.1 6-.5 6-.5 6-.6 5.9-.8 5.9-.9 5.9-1.1 5.9-1.4 5.7-1.7 5.7-1.9 5.6-2.3 5.4-2.6 5.2-2.9 5-3.3 4.8-3.6 4.6-3.9 4.3-4.1 4.2-4.4 3.9-4.5 3.8-4.7 3.5-4.8 3.4-5 3.3-5 3.2-5.1 3-5.1 3-5.3 2.9-5.2 2.8-5.3 2.7-5.4 2.7-5.3 2.6-5.4 2.6-5.4 2.6-5.4 2.6-5.5 2.5-5.4 2.6-5.4 2.5-5.5 2.6-5.4 2.6-5.4 2.6-5.4 2.6-5.4 2.6-5.4 2.7-5.4 2.8-5.3 2.8-5.3 2.9-5.2 3-5.2 3.1-5.2 3.2-5.1 3.3-5 3.4-4.9 3.6-4.8 3.7-4.7 4-4.5 4.1-4.4 4.3-4.1 4.5-4 4.8-3.7 4.9-3.3 5.2-3.1 5.3-2.8 5.4-2.5 5.6-2.2 5.7-1.9 5.8-1.7 5.8-1.4 5.9-1.2 5.9-1 5.9-.8 6-.8 6-.6 6-.5 5.9-.4 6-.4 6-.3 6-.2 6-.2 6-.2 6-.2 6-.1 6-.1 6-.1 6-.1 6 0 6-.1 6 0 6-.1 4 0" stroke-opacity="0.131"/>
<path d="M61.1 277.6l4.5-.3 6-.6 6-.7 5.9-.9 5.9-1.2 5.8-1.4 5.7-1.9 5.5-2.3 5.4-2.7 5-3.2 4.8-3.7 4.5-4 4.2-4.3 3.8-4.6 3.6-4.8 3.4-4.9 3.1-5.1 3-5.2 2.8-5.3 2.7-5.4 2.6-5.4 2.5-5.5 2.3-5.5 2.3-5.6 2.3-5.5 2.2-5.6 2.1-5.6 2.2-5.6 2-5.6 2.1-5.7 2.1-5.6 2-5.6 2.1-5.7 2-5.6 2.1-5.6 2.1-5.7 2.1-5.6 2.2-5.6 2.2-5.6 2.2-5.5 2.3-5.6 2.4-5.5 2.5-5.4 2.5-5.5 2.7-5.3 2.8-5.4 2.9-5.2 3.1-5.1 3.4-5 3.5-4.9 3.7-4.7 4.1-4.4 4.3-4.2 4.6-3.8 4.9-3.5 5.1-3.1 5.4-2.7 5.5-2.2 5.7-1.9 5.8-1.6 5.9-1.3 5.9-1 5.9-.8 6-.7 6-.5 5.9-.4 6-.4 6-.2 6-.2 6-.2 6-.1 6-.1 6-.1 6-.1 6 0 6-.1 6 0 6 0 6-.1 6 0 6 0 6 0 6 0 6 0 6 0 6 0 6 0 6 0 6 0 6 0 1.2 0" stroke-opacity="0.056"/>
<path d="M61.1 277.6l.5 0 6-.4 5.9-.5 6-.7 6-.7 5.9-1 5.9-1.2 5.8-1.5 5.7-1.7 5.6-2.1 5.5-2.5 5.3-2.8 5.1-3.2 4.8-3.5 4.6-3.9 4.4-4.1 4.1-4.3 3.9-4.6 3.7-4.7 3.5-4.9 3.3-5 3.2-5.1 3-5.2 3-5.2 2.8-5.3 2.8-5.3 2.6-5.4 2.7-5.4 2.5-5.4 2.5-5.5 2.5-5.4 2.5-5.5 2.4-5.5 2.4-5.5 2.4-5.5 2.4-5.5 2.4-5.5 2.4-5.5 2.5-5.4 2.5-5.5 2.5-5.5 2.5-5.4 2.6-5.4 2.7-5.4 2.7-5.3 2.8-5.3 2.9-5.3 3.1-5.1 3.1-5.2 3.3-5 3.4-4.9 3.6-4.8 3.8-4.7 3.9-4.5 4.2-4.2 4.5-4.1 4.6-3.8 4.9-3.5 5.1-3.1 5.3-2.9 5.4-2.5 5.6-2.2 5.7-1.9 5.8-1.6 5.8-1.3 5.9-1.2 6-.9 5.9-.8 6-.7 5.9-.5 6-.5 6-.3 6-.4 6-.2 6-.2 6-.2 6-.1 6-.2 6-.1 6 0 6-.1 6-.1 6 0 6-.1 6 0 6 0 6 0 6-.1 4.8 0" stroke-opacity="0.027"/>
<path d="M61.1 277.6l1.1-.1 6-.4 6-.5 5.9-.6 6-.7 5.9-1 5.9-1.1 5.9-1.4 5.7-1.6 5.7-2 5.5-2.3 5.4-2.6 5.2-3 5-3.4 4.8-3.6 4.5-3.9 4.3-4.2 4.1-4.4 3.8-4.6 3.7-4.8 3.5-4.8 3.3-5 3.3-5.1 3-5.1 3-5.2 2.9-5.3 2.8-5.3 2.8-5.3 2.6-5.4 2.7-5.4 2.6-5.4 2.5-5.4 2.5-5.5 2.6-5.4 2.5-5.5 2.4-5.4 2.5-5.5 2.6-5.4 2.5-5.5 2.5-5.4 2.6-5.4 2.6-5.4 2.7-5.4 2.7-5.4 2.8-5.3 2.8-5.3 3-5.2 3-5.2 3.2-5.1 3.3-5 3.4-4.9 3.5-4.8 3.8-4.7 3.9-4.6 4.1-4.3 4.4-4.2 4.5-3.9 4.8-3.6 5-3.4 5.1-3 5.4-2.8 5.5-2.4 5.6-2.1 5.7-1.8 5.8-1.6 5.8-1.3 5.9-1.1 6-1 5.9-.8 6-.6 5.9-.6 6-.5 6-.4 6-.3 6-.3 6-.2 6-.2 6-.1 6-.2 6-.1 6-.1 6-.1 6 0 6-.1 6 0 6-.1 6 0 6 0 1.1 0" stroke-opacity="0.052"/>
<path d="M61.1 277.6l2.7-.2 6-.4 5.9-.6 6-.6 5.9-.9 6-1.1 5.8-1.3 5.8-1.5 5.7-2 5.5-2.2 5.4-2.6 5.2-3 5-3.4 4.7-3.7 4.5-4 4.2-4.3 4-4.4 3.8-4.7 3.6-4.8 3.3-5 3.3-5 3.1-5.2 3-5.2 2.8-5.2 2.8-5.4 2.7-5.3 2.6-5.4 2.6-5.4 2.5-5.5 2.5-5.4 2.4-5.5 2.5-5.5 2.4-5.5 2.3-5.5 2.4-5.5 2.4-5.5 2.4-5.5 2.4-5.5 2.5-5.5 2.5-5.5 2.5-5.4 2.5-5.4 2.6-5.4 2.7-5.4 2.8-5.3 2.8-5.3 3-5.3 3-5.1 3.2-5.1 3.3-5 3.5-4.9 3.7-4.7 3.9-4.6 4-4.4 4.3-4.2 4.6-3.9 4.7-3.7 5-3.3 5.2-3 5.4-2.7 5.5-2.3 5.7-2 5.7-1.8 5.8-1.4 5.9-1.2 5.9-1.1 5.9-.8 6-.7 6-.6 6-.5 5.9-.4 6-.4 6-.2 6-.3 6-.1 6-.2 6-.1 6-.1 6-.1 6-.1 6-.1 6 0 6 0 6-.1 6 0 6 0 6 0 6-.1 3.2 0" stroke-opacity="0.142"/>
<path d="M61.1 277.6l1.7-.1 6-.5 5.9-.6 6-.8 5.9-1.1 5.8-1.3 5.8-1.7 5.6-2.1 5.4-2.5 5.2-3 5-3.4 4.6-3.9 4.3-4.2 4-4.4 3.7-4.8 3.4-4.9 3.3-5 3-5.2 2.9-5.2 2.7-5.4 2.7-5.4 2.5-5.4 2.4-5.5 2.3-5.5 2.3-5.6 2.2-5.6 2.2-5.6 2.1-5.6 2.1-5.6 2.1-5.6 2-5.7 2.1-5.6 2-5.6 2.1-5.7 2-5.6 2.1-5.6 2.1-5.7 2.2-5.6 2.1-5.6 2.2-5.5 2.3-5.6 2.4-5.5 2.4-5.5 2.5-5.5 2.6-5.4 2.7-5.3 2.9-5.3 3-5.1 3.2-5.1 3.5-5 3.6-4.7 3.9-4.6 4.2-4.3 4.4-4 4.8-3.6 5-3.3 5.3-2.9 5.5-2.4 5.6-2.1 5.8-1.7 5.8-1.4 5.9-1.1 5.9-.9 6-.7 6-.6 5.9-.5 6-.3 6-.3 6-.2 6-.2 6-.2 6-.1 6-.1 6-.1 6 0 6-.1 6 0 6 0 6 0 6-.1 6 0 6 0 6 0 6 0 6 0 6 0 6 0 6 0 6 0 6 0 4.2 0" stroke-opacity="0.137"/>
<path d="M61.1 277.6l4.1-.4 6-.5 5.9-.8 5.9-1.1 5.8-1.4 5.7-1.9 5.5-2.4 5.3-2.9 4.9-3.4 4.6-3.9 4.1-4.3 3.9-4.6 3.5-4.9 3.2-5 3-5.2 2.8-5.4 2.6-5.4 2.4-5.4 2.4-5.6 2.2-5.5 2.1-5.6 2.1-5.7 2-5.6 1.9-5.7 1.9-5.7 1.9-5.7 1.8-5.7 1.9-5.7 1.8-5.8 1.7-5.7 1.8-5.7 1.8-5.7 1.8-5.8 1.8-5.7 1.9-5.7 1.9-5.7 1.9-5.7 1.9-5.7 2-5.6 2.1-5.6 2.1-5.7 2.2-5.5 2.4-5.6 2.4-5.4 2.6-5.5 2.7-5.3 3-5.2 3.1-5.1 3.4-5 3.7-4.7 4.1-4.4 4.3-4.1 4.8-3.7 5-3.3 5.3-2.7 5.6-2.3 5.7-1.9 5.8-1.4 5.9-1.2 5.9-.8 6-.7 6-.5 5.9-.4 6-.4 6-.2 6-.2 6-.1 6-.1 6-.1 6 0 6-.1 6 0 6-.1 6 0 6 0 6 0 6 0 6 0 6 0 6 0 6 0 6 0 6 0 6 0 6 0 6 0 6 0 6 0 6 0 6 0 6 0 5.6 0" stroke-opacity="0.131"/>
<path d="M61.1 277.6l2.4-.2 6-.4 6-.6 5.9-.8 5.9-1 5.9-1.2 5.8-1.6 5.7-1.9 5.5-2.3 5.4-2.7 5.1-3.1 4.8-3.6 4.6-3.9 4.3-4.2 3.9-4.5 3.8-4.7 3.5-4.8 3.3-5.1 3.1-5.1 3-5.2 2.8-5.3 2.7-5.3 2.6-5.4 2.6-5.5 2.4-5.5 2.4-5.5 2.3-5.5 2.3-5.5 2.2-5.6 2.3-5.6 2.2-5.6 2.1-5.6 2.2-5.6 2.2-5.5 2.2-5.6 2.2-5.6 2.2-5.6 2.2-5.6 2.3-5.5 2.3-5.5 2.4-5.6 2.4-5.5 2.5-5.4 2.6-5.4 2.6-5.4 2.8-5.3 2.9-5.3 3.1-5.1 3.2-5.1 3.4-5 3.5-4.8 3.9-4.6 4-4.4 4.3-4.2 4.6-3.9 4.9-3.5 5.1-3.2 5.3-2.7 5.5-2.5 5.6-2 5.7-1.7 5.9-1.4 5.9-1.2 5.9-1 5.9-.8 6-.6 6-.5 6-.4 6-.3 5.9-.3 6-.2 6-.2 6-.1 6-.2 6-.1 6 0 6-.1 6 0 6-.1 6 0 6 0 6-.1 6 0 6 0 6 0 6 0 6 0 6 0 6 0 4.9 0" stroke-opacity="0.008"/>
<path d="M61.1 277.6l4.7-.3 6-.4 6-.5 6-.6 5.9-.7 6-.9 5.9-1 5.8-1.2 5.9-1.5 5.7-1.7 5.7-2 5.5-2.3 5.4-2.5 5.3-2.9 5.1-3.2 4.9-3.4 4.7-3.7 4.5-4 4.3-4.2 4.2-4.3 3.9-4.5 3.8-4.7 3.7-4.7 3.5-4.9 3.4-4.9 3.3-5.1 3.1-5.1 3.2-5.1 3-5.2 3-5.2 2.9-5.2 2.8-5.3 2.9-5.3 2.8-5.3 2.8-5.3 2.7-5.3 2.8-5.3 2.7-5.4 2.8-5.3 2.8-5.3 2.8-5.3 2.8-5.3 2.9-5.3 2.9-5.3 2.9-5.2 3-5.2 3.1-5.1 3.2-5.1 3.2-5.1 3.3-5 3.5-4.9 3.6-4.8 3.7-4.7 3.8-4.6 4-4.5 4.2-4.3 4.3-4.1 4.6-3.9 4.7-3.8 4.9-3.4 5.1-3.2 5.2-3 5.4-2.6 5.5-2.4 5.6-2.2 5.7-1.8 5.7-1.7 5.9-1.4 5.8-1.2 5.9-1.1 6-.9 5.9-.8 6-.7 5.9-.6 6-.5 6-.4 6-.4 6-.3 6-.2 6-.3 6-.1 6-.2 6-.1 6-.2 6-.1 6 0 .9-.1" stroke-opacity="0.043"/>
<path d="M61.1 277.6l.9-.1 5.9-.4 6-.5 6-.7 5.9-.8 5.9-1 5.9-1.3 5.8-1.6 5.7-1.9 5.5-2.3 5.4-2.7 5.1-3 5-3.5 4.6-3.7 4.4-4.1 4.2-4.3 3.9-4.6 3.7-4.7 3.5-4.9 3.3-5 3.1-5.1 3.1-5.2 2.8-5.3 2.8-5.3 2.7-5.3 2.6-5.4 2.6-5.5 2.5-5.4 2.4-5.5 2.4-5.5 2.4-5.5 2.4-5.5 2.3-5.6 2.3-5.5 2.3-5.5 2.4-5.6 2.3-5.5 2.4-5.5 2.3-5.5 2.4-5.5 2.5-5.5 2.5-5.4 2.6-5.5 2.6-5.4 2.7-5.3 2.8-5.3 2.9-5.3 3-5.2 3.1-5.1 3.3-5 3.5-4.9 3.6-4.8 3.9-4.6 4.1-4.4 4.3-4.1 4.5-3.9 4.8-3.6 5.1-3.3 5.2-2.9 5.4-2.6 5.6-2.3 5.6-1.9 5.8-1.6 5.9-1.4 5.9-1.1 5.9-1 5.9-.7 6-.7 6-.5 6-.5 5.9-.3 6-.3 6-.2 6-.2 6-.2 6-.1 6-.1 6-.1 6-.1 6-.1 6 0 6-.1 6 0 6 0 6 0 6-.1 6 0 6 0 6 0 1.3 0" stroke-opacity="0.123"/>
<path d="M61.1 277.6l4.1-.3 6-.6 5.9-.7 6-1 5.8-1.3 5.8-1.6 5.6-2.1 5.5-2.5 5.1-3 4.9-3.5 4.5-4 4.2-4.3 3.9-4.5 3.6-4.9 3.3-5 3.1-5.1 2.9-5.3 2.7-5.3 2.6-5.4 2.5-5.5 2.3-5.5 2.3-5.5 2.2-5.6 2.1-5.6 2.1-5.7 2.1-5.6 2-5.7 1.9-5.6 2-5.7 1.9-5.7 2-5.7 1.9-5.6 1.9-5.7 2-5.7 1.9-5.7 2-5.6 2-5.7 2.1-5.6 2.1-5.6 2.2-5.6 2.2-5.6 2.3-5.5 2.4-5.5 2.5-5.5 2.6-5.4 2.8-5.3 2.9-5.3 3.1-5.1 3.4-5 3.5-4.8 3.9-4.6 4.2-4.3 4.4-4 4.8-3.6 5.1-3.2 5.3-2.7 5.6-2.3 5.7-1.9 5.8-1.6 5.8-1.2 6-1 5.9-.8 6-.6 6-.4 5.9-.4 6-.3 6-.2 6-.2 6-.1 6-.2 6 0 6-.1 6-.1 6 0 6 0 6-.1 6 0 6 0 6 0 6 0 6 0 6 0 6 0 6 0 6 0 6 0 6 0 6 0 6 0 6 0 6 0 .2 0" stroke-opacity="0.039"/>
<path d="M61.1 277.6l1.6-.1 6-.5 6-.5 5.9-.8 6-.9 5.8-1.1 5.9-1.5 5.7-1.8 5.6-2.1 5.4-2.6 5.2-3 5-3.3 4.7-3.8 4.4-4.1 4.1-4.3 3.9-4.6 3.6-4.8 3.4-4.9 3.3-5 3-5.2 3-5.2 2.8-5.3 2.7-5.4 2.6-5.4 2.5-5.4 2.4-5.5 2.4-5.5 2.4-5.5 2.3-5.6 2.3-5.5 2.2-5.6 2.2-5.6 2.3-5.5 2.2-5.6 2.2-5.6 2.2-5.6 2.3-5.5 2.3-5.6 2.3-5.5 2.3-5.5 2.4-5.5 2.4-5.5 2.5-5.5 2.6-5.4 2.7-5.4 2.8-5.3 2.8-5.2 3.1-5.2 3.1-5.1 3.4-5 3.5-4.8 3.8-4.7 4-4.5 4.2-4.3 4.5-4 4.7-3.6 5-3.4 5.2-2.9 5.4-2.6 5.6-2.2 5.7-1.9 5.8-1.6 5.8-1.3 5.9-1.1 6-.9 5.9-.7 6-.6 6-.5 6-.4 6-.3 6-.2 5.9-.2 6-.2 6-.2 6-.1 6-.1 6 0 6-.1 6 0 6-.1 6 0 6 0 6 0 6-.1 6 0 6 0 6 0 6 0 6 0 4.2 0" stroke-opacity="0.143"/>
<path d="M61.1 277.6l1.6-.1 6-.4 6-.4 6-.6 5.9-.7 6-.8 5.9-1 5.9-1.1 5.8-1.4 5.8-1.7 5.7-1.9 5.5-2.2 5.5-2.6 5.3-2.8 5.1-3.1 4.9-3.5 4.7-3.7 4.5-4 4.3-4.1 4.1-4.4 3.9-4.5 3.8-4.7 3.6-4.8 3.5-4.9 3.4-5 3.2-5 3.2-5.1 3-5.2 3-5.2 2.9-5.2 2.9-5.3 2.8-5.3 2.8-5.3 2.8-5.3 2.7-5.4 2.7-5.3 2.7-5.4 2.7-5.3 2.7-5.4 2.7-5.3 2.8-5.4 2.8-5.3 2.8-5.3 2.8-5.3 2.9-5.2 3-5.2 3-5.2 3.1-5.2 3.2-5.1 3.2-5 3.4-4.9 3.5-4.9 3.7-4.7 3.8-4.7 4-4.5 4.1-4.4 4.3-4.1 4.5-4 4.7-3.7 4.9-3.5 5-3.3 5.2-2.9 5.4-2.7 5.5-2.4 5.6-2.1 5.7-1.9 5.8-1.6 5.8-1.4 5.9-1.2 5.9-1 6-.9 5.9-.8 6-.7 6-.5 5.9-.5 6-.4 6-.3 6-.3 6-.3 6-.2 6-.1 6-.2 6-.1 6-.1 6-.1 6-.1 5.7-.1" stroke-opacity="0.109"/>
<path d="M61.1 277.6l.8 0 6-.4 6-.5 5.9-.6 6-.8 5.9-.9 5.9-1.2 5.8-1.3 5.8-1.7 5.7-2 5.5-2.3 5.4-2.7 5.2-3 4.9-3.3 4.8-3.7 4.5-4 4.2-4.2 4.1-4.4 3.8-4.6 3.7-4.8 3.4-4.9 3.4-5 3.2-5.1 3-5.1 3-5.2 2.8-5.3 2.8-5.3 2.7-5.4 2.7-5.4 2.6-5.4 2.6-5.4 2.5-5.4 2.5-5.5 2.5-5.4 2.5-5.5 2.5-5.5 2.5-5.4 2.5-5.5 2.5-5.4 2.5-5.5 2.6-5.4 2.6-5.4 2.6-5.4 2.7-5.3 2.8-5.4 2.8-5.2 3-5.3 3-5.2 3.1-5.1 3.3-5 3.4-4.9 3.6-4.8 3.7-4.7 4-4.6 4.1-4.3 4.3-4.2 4.6-3.9 4.8-3.6 5-3.3 5.2-3 5.3-2.7 5.5-2.4 5.6-2.1 5.8-1.8 5.8-1.5 5.8-1.3 5.9-1.1 6-1 5.9-.7 6-.7 5.9-.5 6-.5 6-.4 6-.3 6-.2 6-.3 6-.1 6-.2 6-.1 6-.1 6-.1 6-.1 6 0 6-.1 6 0 6-.1 6 0 6 0 2 0" stroke-opacity="0.125"/>
<path d="M61.1 277.6l.7-.1 6-.4 6-.5 5.9-.7 6-.9 5.9-1 5.8-1.4 5.8-1.6 5.6-2 5.5-2.4 5.4-2.8 5-3.2 4.9-3.5 4.5-3.9 4.3-4.2 4.1-4.5 3.7-4.6 3.6-4.9 3.4-4.9 3.2-5.1 3-5.2 3-5.2 2.8-5.3 2.7-5.4 2.6-5.4 2.5-5.4 2.5-5.5 2.4-5.5 2.4-5.5 2.3-5.5 2.3-5.5 2.3-5.6 2.3-5.5 2.3-5.6 2.2-5.5 2.3-5.6 2.3-5.5 2.3-5.6 2.3-5.5 2.4-5.5 2.4-5.5 2.5-5.5 2.5-5.4 2.6-5.4 2.7-5.4 2.8-5.3 2.8-5.3 3-5.2 3.2-5.1 3.3-5 3.5-4.9 3.7-4.7 3.9-4.6 4.1-4.3 4.4-4.1 4.6-3.8 4.9-3.5 5.1-3.2 5.3-2.8 5.5-2.4 5.6-2.1 5.7-1.8 5.8-1.5 5.9-1.2 5.9-1 5.9-.9 6-.7 6-.5 6-.5 5.9-.4 6-.3 6-.2 6-.2 6-.2 6-.1 6-.1 6-.1 6-.1 6-.1 6 0 6-.1 6 0 6 0 6 0 6-.1 6 0 6 0 6 0 6 0 3.3 0" stroke-opacity="0.082"/>
<path d="M61.1 277.6l.2 0 6-.5 6-.5 5.9-.7 6-1 5.8-1.1 5.9-1.5 5.7-1.9 5.5-2.2 5.4-2.7 5.1-3.1 4.9-3.6 4.5-3.9 4.3-4.2 3.9-4.5 3.8-4.7 3.4-4.9 3.3-5 3.1-5.2 2.9-5.2 2.8-5.3 2.7-5.4 2.5-5.4 2.5-5.5 2.4-5.5 2.3-5.5 2.3-5.6 2.3-5.5 2.2-5.6 2.1-5.6 2.2-5.6 2.1-5.6 2.1-5.6 2.2-5.6 2.1-5.6 2.1-5.7 2.2-5.5 2.2-5.6 2.2-5.6 2.3-5.6 2.3-5.5 2.4-5.5 2.4-5.5 2.5-5.4 2.6-5.4 2.8-5.4 2.8-5.3 3-5.2 3.1-5.1 3.4-5 3.5-4.8 3.8-4.7 4-4.4 4.3-4.2 4.5-3.9 4.9-3.6 5.1-3.2 5.3-2.8 5.5-2.4 5.6-2 5.8-1.7 5.8-1.4 5.9-1.1 5.9-.9 6-.8 6-.6 5.9-.5 6-.4 6-.3 6-.2 6-.2 6-.2 6-.1 6-.1 6-.1 6-.1 6 0 6-.1 6 0 6 0 6 0 6-.1 6 0 6 0 6 0 6 0 6 0 6 0 6 0 6 0 2.8 0" stroke-opacity="0.087"/>
<path d="M61.1 277.6l5.1-.3 6-.5 5.9-.6 6-.7 5.9-.8 5.9-1.1 5.9-1.3 5.8-1.6 5.7-1.8 5.6-2.2 5.4-2.6 5.3-2.9 5-3.2 4.8-3.6 4.6-3.8 4.4-4.2 4.1-4.3 3.9-4.6 3.7-4.7 3.6-4.8 3.4-5 3.2-5 3.1-5.1 3-5.2 2.9-5.3 2.9-5.3 2.7-5.3 2.7-5.4 2.6-5.4 2.6-5.4 2.6-5.4 2.5-5.4 2.5-5.5 2.5-5.4 2.5-5.5 2.5-5.5 2.5-5.4 2.5-5.5 2.5-5.4 2.6-5.4 2.6-5.4 2.6-5.4 2.7-5.4 2.8-5.3 2.8-5.3 2.9-5.3 3-5.2 3.1-5.1 3.3-5 3.3-5 3.6-4.9 3.6-4.7 3.9-4.6 4.1-4.4 4.2-4.2 4.5-4 4.7-3.7 4.9-3.5 5.2-3.1 5.3-2.8 5.4-2.5 5.6-2.2 5.7-1.9 5.8-1.6 5.8-1.4 5.9-1.2 5.9-1 5.9-.8 6-.7 6-.6 6-.5 5.9-.4 6-.3 6-.3 6-.3 6-.2 6-.1 6-.2 6-.1 6-.1 6 0 6-.1 6-.1 6 0 6 0 6-.1 6 0 3.4 0" stroke-opacity="0.020"/>
<path d="M61.1 277.6l1.7-.1 5.9-.4 6-.5 6-.6 5.9-.7 6-.9 5.9-1.1 5.8-1.3 5.8-1.5 5.7-1.8 5.6-2.2 5.5-2.5 5.3-2.8 5.1-3.1 4.9-3.4 4.7-3.8 4.5-4 4.3-4.2 4-4.4 3.9-4.6 3.6-4.8 3.6-4.8 3.3-5 3.3-5 3.1-5.2 3.1-5.1 2.9-5.3 2.9-5.2 2.8-5.3 2.7-5.4 2.7-5.3 2.7-5.4 2.6-5.4 2.7-5.4 2.5-5.4 2.6-5.4 2.6-5.4 2.6-5.4 2.6-5.4 2.6-5.4 2.7-5.4 2.7-5.4 2.7-5.3 2.8-5.3 2.8-5.3 2.9-5.3 3-5.2 3.1-5.2 3.1-5 3.3-5.1 3.4-4.9 3.6-4.8 3.7-4.8 3.8-4.5 4.1-4.5 4.2-4.2 4.5-4 4.7-3.8 4.8-3.5 5.1-3.3 5.2-2.9 5.4-2.6 5.5-2.4 5.6-2 5.8-1.8 5.8-1.6 5.8-1.3 5.9-1.1 5.9-1 6-.8 5.9-.7 6-.6 6-.5 6-.4 6-.3 6-.3 5.9-.2 6-.3 6-.1 6-.2 6-.1 6-.1 6-.1 6-.1 6 0 6-.1 6 0 3.6 0" stroke-opacity="0.118"/>
<path d="M61.1 277.6l3.6-.3 6-.5 6-.6 5.9-.8 5.9-1 5.9-1.4 5.8-1.6 5.6-2 5.5-2.5 5.3-2.8 5-3.3 4.8-3.6 4.4-4.1 4.2-4.3 3.9-4.5 3.6-4.8 3.5-4.9 3.2-5.1 3-5.1 2.9-5.3 2.8-5.3 2.7-5.4 2.5-5.4 2.5-5.5 2.4-5.5 2.4-5.5 2.3-5.6 2.2-5.5 2.2-5.6 2.2-5.6 2.2-5.6 2.2-5.6 2.1-5.6 2.2-5.6 2.1-5.5 2.2-5.6 2.2-5.6 2.3-5.6 2.2-5.5 2.3-5.6 2.4-5.5 2.4-5.5 2.5-5.4 2.6-5.4 2.7-5.4 2.8-5.3 2.9-5.3 3.1-5.1 3.3-5.1 3.4-4.9 3.6-4.7 3.9-4.6 4.1-4.4 4.4-4.1 4.7-3.7 4.9-3.4 5.2-3.1 5.4-2.6 5.5-2.3 5.7-2 5.8-1.6 5.8-1.3 5.9-1.1 6-.8 5.9-.8 6-.5 6-.5 6-.4 6-.3 6-.2 6-.2 6-.2 6-.1 6-.1 6-.1 6-.1 6 0 6-.1 6 0 6 0 6 0 6-.1 6 0 6 0 6 0 6 0 6 0 6 0 6 0 4.2 0" stroke-opacity="0.053"/>
<path d="M61.1 277.6l3.8-.3 6-.5 5.9-.6 6-.9 5.9-1.1 5.8-1.4 5.7-1.7 5.6-2.1 5.5-2.6 5.2-3 4.9-3.4 4.6-3.9 4.3-4.1 4-4.5 3.8-4.6 3.5-4.9 3.3-5 3.1-5.2 2.9-5.2 2.8-5.3 2.7-5.4 2.6-5.4 2.4-5.5 2.4-5.5 2.4-5.5 2.2-5.6 2.3-5.5 2.1-5.6 2.2-5.6 2.1-5.6 2.1-5.6 2.1-5.7 2.1-5.6 2.1-5.6 2.2-5.6 2.1-5.6 2.2-5.6 2.1-5.6 2.3-5.6 2.2-5.5 2.4-5.6 2.4-5.5 2.5-5.4 2.5-5.4 2.7-5.4 2.8-5.3 2.9-5.3 3.1-5.1 3.2-5.1 3.5-4.9 3.7-4.7 3.9-4.5 4.2-4.3 4.5-4 4.8-3.6 5-3.3 5.3-2.9 5.4-2.5 5.7-2.1 5.7-1.7 5.8-1.4 5.9-1.2 5.9-1 6-.7 5.9-.7 6-.5 6-.3 6-.4 6-.2 6-.2 6-.2 6-.1 6-.1 6-.1 6-.1 6 0 6-.1 6 0 6 0 6-.1 6 0 6 0 6 0 6 0 6 0 6 0 6 0 6 0 6 0 6 0 .1 0" stroke-opacity="0.073"/>
<path d="M61.1 277.6l5.2-.3 6-.4 5.9-.5 6-.7 6-.7 5.9-.9 5.9-1.1 5.9-1.3 5.8-1.5 5.7-1.8 5.6-2 5.5-2.4 5.4-2.7 5.2-3 5-3.3 4.8-3.5 4.7-3.8 4.4-4.1 4.2-4.3 4.1-4.4 3.8-4.6 3.7-4.7 3.6-4.8 3.4-4.9 3.4-5 3.2-5.1 3.1-5.1 3-5.2 3-5.2 2.9-5.3 2.9-5.2 2.8-5.3 2.8-5.3 2.7-5.4 2.8-5.3 2.7-5.4 2.7-5.3 2.8-5.3 2.7-5.4 2.7-5.3 2.8-5.3 2.8-5.3 2.8-5.3 2.9-5.3 3-5.2 3-5.2 3-5.2 3.2-5.1 3.2-5 3.4-5 3.4-4.9 3.6-4.8 3.8-4.7 3.8-4.6 4.1-4.4 4.2-4.3 4.4-4.1 4.6-3.8 4.8-3.7 4.9-3.3 5.2-3.1 5.3-2.9 5.4-2.5 5.5-2.3 5.7-2 5.7-1.8 5.8-1.5 5.9-1.3 5.9-1.2 5.9-.9 5.9-.9 6-.7 6-.6 5.9-.6 6-.4 6-.4 6-.3 6-.3 6-.2 6-.2 6-.2 6-.1 6-.1 6-.2 6 0 6-.1 1.6 0" stroke-opacity="0.050"/>
<path d="M61.1 277.6l4.5-.3 6-.5 6-.7 5.9-.8 5.9-1.1 5.9-1.4 5.7-1.6 5.7-2.1 5.4-2.5 5.3-2.9 5-3.3 4.7-3.7 4.5-4 4.1-4.3 3.9-4.6 3.6-4.8 3.4-4.9 3.3-5.1 3-5.1 2.9-5.3 2.8-5.3 2.7-5.4 2.5-5.4 2.5-5.5 2.4-5.5 2.4-5.5 2.3-5.5 2.2-5.6 2.3-5.6 2.2-5.5 2.1-5.6 2.2-5.6 2.2-5.6 2.1-5.6 2.2-5.6 2.2-5.6 2.2-5.6 2.3-5.5 2.3-5.6 2.3-5.5 2.4-5.5 2.4-5.5 2.5-5.4 2.6-5.4 2.7-5.4 2.9-5.3 2.9-5.2 3.1-5.2 3.3-5 3.4-4.9 3.7-4.7 3.9-4.6 4.2-4.3 4.4-4.1 4.7-3.7 4.9-3.4 5.2-3 5.4-2.6 5.6-2.3 5.7-1.9 5.7-1.6 5.9-1.3 5.9-1.1 5.9-.8 6-.8 6-.5 5.9-.5 6-.4 6-.3 6-.2 6-.2 6-.2 6-.1 6-.1 6-.1 6-.1 6 0 6-.1 6 0 6 0 6 0 6-.1 6 0 6 0 6 0 6 0 6 0 6 0 6 0 3 0" stroke-opacity="0.100"/>
<path d="M61.1 277.6l4.4-.2 6-.5 6-.4 6-.6 5.9-.7 6-.9 5.9-1 5.9-1.2 5.8-1.5 5.8-1.6 5.6-2 5.6-2.2 5.4-2.5 5.3-2.9 5.1-3.1 5-3.4 4.7-3.7 4.6-3.9 4.3-4.1 4.2-4.4 4-4.4 3.8-4.7 3.7-4.7 3.5-4.8 3.4-5 3.4-5 3.2-5 3.1-5.2 3.1-5.1 2.9-5.2 3-5.3 2.9-5.2 2.8-5.3 2.8-5.3 2.8-5.3 2.8-5.3 2.8-5.3 2.8-5.4 2.7-5.3 2.8-5.3 2.8-5.3 2.9-5.3 2.8-5.3 2.9-5.2 3-5.2 3-5.2 3.1-5.2 3.1-5.1 3.3-5 3.3-5 3.4-4.9 3.6-4.9 3.7-4.7 3.8-4.6 4-4.5 4.2-4.3 4.3-4.2 4.5-3.9 4.7-3.8 4.9-3.5 5-3.2 5.2-3 5.4-2.7 5.5-2.4 5.6-2.2 5.6-1.9 5.8-1.7 5.8-1.5 5.9-1.3 5.9-1.1 5.9-.9 5.9-.8 6-.7 6-.6 5.9-.5 6-.5 6-.4 6-.3 6-.3 6-.2 6-.2 6-.2 6-.1 6-.1 6-.1 6-.1 .8 0" stroke-opacity="0.062"/>
<path d="M61.1 277.6l4.4-.3 5.9-.4 6-.5 6-.6 5.9-.8 6-.9 5.9-1.1 5.8-1.4 5.8-1.6 5.7-1.8 5.6-2.2 5.4-2.5 5.3-2.8 5.2-3.1 4.9-3.5 4.7-3.7 4.5-4 4.3-4.2 4.1-4.3 3.9-4.6 3.7-4.7 3.6-4.8 3.4-4.9 3.3-5 3.2-5.1 3.1-5.2 3-5.2 2.9-5.2 2.9-5.3 2.8-5.3 2.8-5.3 2.7-5.3 2.7-5.4 2.7-5.4 2.6-5.3 2.7-5.4 2.6-5.4 2.7-5.4 2.6-5.4 2.7-5.3 2.7-5.4 2.8-5.3 2.7-5.4 2.9-5.2 2.9-5.3 2.9-5.2 3.1-5.2 3.1-5.1 3.2-5.1 3.3-5 3.5-4.9 3.6-4.8 3.7-4.7 3.9-4.5 4.1-4.4 4.3-4.2 4.5-4 4.6-3.8 4.9-3.5 5-3.3 5.3-2.9 5.3-2.7 5.5-2.4 5.7-2.1 5.7-1.8 5.8-1.6 5.8-1.4 5.9-1.1 5.9-1 5.9-.9 6-.7 6-.6 5.9-.6 6-.4 6-.4 6-.3 6-.3 6-.2 6-.2 6-.2 6-.1 6-.1 6-.1 6-.1 6-.1 6 0 4.9-.1" stroke-opacity="0.109"/>
<path d="M61.1 277.6l2.3-.1 6-.5 6-.5 6-.7 5.9-.8 5.9-1 5.9-1.2 5.8-1.5 5.7-1.8 5.6-2.1 5.5-2.5 5.3-2.9 5-3.2 4.9-3.5 4.6-3.9 4.3-4.1 4.2-4.3 3.9-4.6 3.7-4.7 3.5-4.9 3.4-4.9 3.2-5.1 3.1-5.1 2.9-5.3 2.9-5.2 2.8-5.3 2.7-5.4 2.6-5.4 2.6-5.4 2.6-5.4 2.5-5.5 2.5-5.4 2.4-5.5 2.5-5.5 2.4-5.5 2.5-5.4 2.4-5.5 2.5-5.5 2.5-5.5 2.5-5.4 2.5-5.4 2.6-5.5 2.7-5.3 2.7-5.4 2.7-5.3 2.9-5.3 2.9-5.2 3.1-5.2 3.2-5.1 3.3-5 3.4-4.9 3.7-4.8 3.8-4.6 4-4.4 4.2-4.3 4.5-4 4.6-3.8 4.9-3.5 5.1-3.1 5.3-2.9 5.5-2.5 5.5-2.2 5.7-1.9 5.8-1.6 5.9-1.4 5.8-1.1 6-1 5.9-.8 6-.7 5.9-.6 6-.4 6-.4 6-.4 6-.2 6-.2 6-.2 6-.2 6-.1 6-.1 6-.1 6-.1 6 0 6-.1 6 0 6-.1 6 0 6 0 6 0 1.7 0" stroke-opacity="0.012"/>
<path d="M61.1 277.6l5.8-.3 6-.5 5.9-.5 6-.6 6-.8 5.9-.9 5.9-1.1 5.8-1.2 5.9-1.6 5.7-1.8 5.6-2 5.5-2.4 5.4-2.7 5.2-2.9 5-3.3 4.9-3.6 4.6-3.8 4.4-4 4.3-4.2 4-4.5 3.9-4.5 3.8-4.7 3.5-4.8 3.5-5 3.3-4.9 3.3-5.1 3.1-5.1 3.1-5.2 3-5.2 2.9-5.2 2.9-5.3 2.8-5.2 2.8-5.4 2.8-5.3 2.8-5.3 2.7-5.3 2.7-5.4 2.8-5.3 2.7-5.3 2.8-5.4 2.8-5.3 2.8-5.3 2.8-5.3 2.9-5.2 3-5.2 3-5.2 3.1-5.2 3.1-5.1 3.3-5 3.4-5 3.4-4.9 3.6-4.8 3.8-4.7 3.9-4.5 4-4.5 4.2-4.2 4.4-4.1 4.6-3.9 4.8-3.6 4.9-3.4 5.2-3.1 5.3-2.8 5.4-2.6 5.5-2.3 5.7-2 5.7-1.8 5.8-1.6 5.8-1.3 5.9-1.2 5.9-1 6-.9 5.9-.7 6-.6 6-.6 6-.4 5.9-.4 6-.3 6-.3 6-.3 6-.2 6-.1 6-.2 6-.1 6-.1 6-.1 6-.1 .5 0" stroke-opacity="0.111"/>
<path d="M61.1 277.6l1.2-.1 6-.5 6-.6 5.9-.9 5.9-1.1 5.8-1.4 5.8-1.9 5.5-2.2 5.3-2.8 5.1-3.3 4.7-3.7 4.3-4.1 4.1-4.4 3.7-4.7 3.5-4.9 3.2-5.1 3-5.2 2.8-5.3 2.7-5.3 2.6-5.5 2.4-5.5 2.3-5.5 2.3-5.5 2.1-5.6 2.2-5.6 2-5.7 2.1-5.6 2-5.7 1.9-5.6 2-5.7 1.9-5.7 2-5.7 1.9-5.7 2-5.6 1.9-5.7 2-5.7 2-5.6 2.1-5.7 2-5.6 2.2-5.6 2.2-5.6 2.2-5.5 2.4-5.5 2.4-5.5 2.6-5.4 2.7-5.4 2.9-5.3 3-5.2 3.2-5 3.5-4.9 3.7-4.7 4-4.5 4.3-4.2 4.6-3.8 4.9-3.4 5.2-3 5.5-2.6 5.6-2.1 5.7-1.7 5.9-1.4 5.9-1.1 5.9-.9 6-.7 5.9-.6 6-.4 6-.3 6-.3 6-.2 6-.2 6-.1 6-.1 6-.1 6 0 6-.1 6 0 6 0 6-.1 6 0 6 0 6 0 6 0 6 0 6 0 6 0 6 0 6 0 6 0 6 0 6 0 6 0 6 0 2.7 0" stroke-opacity="0.113"/>
<path d="M61.1 277.6l1.7-.1 6-.4 5.9-.5 6-.7 6-.7 5.9-1 5.9-1.2 5.8-1.4 5.7-1.7 5.7-2.1 5.5-2.3 5.3-2.8 5.2-3.1 4.9-3.4 4.7-3.7 4.4-4.1 4.3-4.2 4-4.5 3.7-4.6 3.7-4.8 3.4-4.9 3.3-5.1 3.1-5.1 3.1-5.1 2.9-5.3 2.8-5.3 2.8-5.3 2.7-5.3 2.6-5.4 2.6-5.4 2.6-5.5 2.5-5.4 2.5-5.5 2.5-5.4 2.5-5.5 2.4-5.5 2.5-5.4 2.5-5.5 2.5-5.4 2.5-5.5 2.6-5.4 2.6-5.4 2.7-5.4 2.7-5.3 2.8-5.4 2.8-5.2 3-5.3 3-5.1 3.2-5.1 3.3-5.1 3.4-4.9 3.6-4.8 3.8-4.6 3.9-4.5 4.2-4.4 4.4-4.1 4.6-3.8 4.8-3.6 5-3.2 5.3-3 5.3-2.6 5.6-2.3 5.6-2.1 5.8-1.7 5.8-1.5 5.9-1.2 5.9-1.1 5.9-.9 6-.7 5.9-.6 6-.6 6-.4 6-.3 6-.3 6-.3 6-.2 6-.2 6-.1 5.9-.1 6-.1 6-.1 6-.1 6-.1 6 0 6 0 6-.1 6 0 6 0 1.4 0" stroke-opacity="0.076"/>
<path d="M61.1 277.6l5.2-.4 5.9-.6 6-.7 5.9-1 5.9-1.2 5.8-1.6 5.6-2 5.5-2.4 5.3-2.9 4.9-3.3 4.7-3.8 4.3-4.2 4.1-4.4 3.7-4.7 3.5-4.9 3.2-5 3.1-5.2 2.8-5.3 2.8-5.3 2.6-5.4 2.4-5.5 2.4-5.5 2.3-5.5 2.3-5.6 2.2-5.6 2.1-5.6 2.1-5.6 2.1-5.6 2-5.7 2-5.6 2.1-5.7 2-5.6 2-5.7 2-5.6 2-5.7 2.1-5.6 2.1-5.6 2.1-5.6 2.2-5.6 2.2-5.6 2.3-5.6 2.4-5.5 2.4-5.4 2.6-5.5 2.6-5.4 2.8-5.3 3-5.2 3.1-5.1 3.4-5 3.6-4.8 3.8-4.6 4.1-4.4 4.4-4.1 4.7-3.7 5-3.3 5.2-3 5.5-2.5 5.6-2.1 5.7-1.7 5.8-1.4 5.9-1.1 6-1 5.9-.7 6-.6 6-.4 6-.4 6-.3 6-.2 6-.2 5.9-.1 6-.1 6-.1 6-.1 6 0 6-.1 6 0 6 0 6-.1 6 0 6 0 6 0 6 0 6 0 6 0 6 0 6 0 6 0 6 0 6 0 6 0 2.1 0" stroke-opacity="0.073"/>
<path d="M61.1 277.6l1.7-.1 6-.4 6-.5 6-.7 5.9-.7 5.9-1 5.9-1.1 5.9-1.5 5.7-1.7 5.7-2 5.5-2.3 5.3-2.8 5.2-3 4.9-3.4 4.7-3.7 4.5-4 4.3-4.3 4-4.4 3.8-4.6 3.6-4.8 3.5-4.9 3.3-5 3.2-5.1 3-5.2 3-5.2 2.9-5.3 2.7-5.3 2.8-5.3 2.6-5.4 2.6-5.4 2.6-5.4 2.5-5.5 2.5-5.4 2.5-5.5 2.5-5.4 2.5-5.5 2.5-5.5 2.5-5.4 2.5-5.5 2.5-5.4 2.6-5.4 2.6-5.4 2.7-5.4 2.7-5.3 2.8-5.4 2.9-5.2 2.9-5.3 3.1-5.1 3.1-5.1 3.3-5 3.4-5 3.6-4.8 3.8-4.6 4-4.5 4.1-4.4 4.4-4.1 4.6-3.8 4.8-3.6 5-3.3 5.2-3 5.4-2.7 5.5-2.3 5.6-2.1 5.8-1.7 5.8-1.5 5.8-1.3 5.9-1.1 6-.9 5.9-.8 6-.6 6-.6 5.9-.4 6-.4 6-.3 6-.2 6-.3 6-.1 6-.2 6-.1 6-.1 6-.1 6-.1 6 0 6-.1 6 0 6-.1 6 0 6 0 .9 0" stroke-opacity="0.052"/>
<path d="M61.1 277.6l.5 0 6-.5 5.9-.6 6-.7 5.9-.9 5.9-1.2 5.8-1.5 5.7-1.8 5.6-2.3 5.3-2.7 5.2-3.1 4.8-3.5 4.6-3.9 4.2-4.2 4-4.5 3.7-4.7 3.5-4.9 3.3-5 3.1-5.2 2.9-5.2 2.8-5.3 2.7-5.4 2.6-5.4 2.4-5.5 2.4-5.5 2.4-5.5 2.3-5.5 2.2-5.6 2.2-5.6 2.2-5.6 2.2-5.6 2.1-5.6 2.1-5.6 2.2-5.6 2.1-5.6 2.2-5.6 2.1-5.6 2.2-5.6 2.3-5.5 2.2-5.6 2.4-5.5 2.3-5.5 2.5-5.5 2.5-5.5 2.6-5.4 2.8-5.3 2.8-5.3 3-5.2 3.2-5.1 3.3-5 3.5-4.8 3.8-4.7 4-4.4 4.3-4.2 4.6-3.9 4.8-3.6 5.1-3.2 5.3-2.8 5.5-2.4 5.6-2 5.8-1.7 5.8-1.4 5.9-1.1 5.9-1 6-.7 6-.6 5.9-.5 6-.4 6-.3 6-.3 6-.2 6-.2 6-.1 6-.1 6-.1 6-.1 6 0 6-.1 6 0 6 0 6 0 6-.1 6 0 6 0 6 0 6 0 6 0 6 0 6 0 6 0 2.3 0" stroke-opacity="0.040"/>
<path d="M61.1 277.6l1.6-.1 6-.4 6-.6 6-.7 5.9-.8 5.9-1.1 5.8-1.3 5.8-1.6 5.7-2 5.5-2.3 5.4-2.7 5.1-3.1 4.9-3.4 4.7-3.8 4.4-4.1 4.1-4.4 3.9-4.5 3.7-4.8 3.4-4.9 3.3-5 3.2-5.1 3-5.2 2.9-5.2 2.8-5.3 2.7-5.4 2.6-5.4 2.5-5.4 2.5-5.5 2.5-5.5 2.4-5.5 2.4-5.5 2.3-5.5 2.4-5.5 2.3-5.5 2.3-5.6 2.4-5.5 2.3-5.5 2.4-5.5 2.3-5.5 2.5-5.5 2.4-5.5 2.5-5.5 2.6-5.4 2.6-5.4 2.8-5.3 2.8-5.3 2.9-5.3 3-5.1 3.2-5.1 3.3-5 3.5-4.9 3.6-4.8 3.9-4.6 4.1-4.3 4.4-4.2 4.5-3.9 4.9-3.5 5-3.3 5.2-2.9 5.5-2.6 5.5-2.2 5.7-1.9 5.8-1.6 5.9-1.3 5.8-1.2 6-.9 5.9-.8 6-.6 6-.5 6-.5 5.9-.3 6-.3 6-.2 6-.2 6-.2 6-.1 6-.1 6-.1 6-.1 6-.1 6 0 6-.1 6 0 6 0 6 0 6-.1 6 0 6 0 6 0 .3 0" stroke-opacity="0.033"/>
<path d="M61.1 277.6l.4 0 6-.4 6-.6 5.9-.6 6-.8 5.9-1.1 5.8-1.2 5.8-1.6 5.7-1.9 5.6-2.3 5.3-2.7 5.2-3 4.9-3.4 4.7-3.8 4.4-4.1 4.2-4.3 3.9-4.5 3.7-4.8 3.4-4.9 3.3-5 3.2-5.1 3-5.2 2.9-5.2 2.8-5.3 2.6-5.4 2.7-5.4 2.5-5.4 2.5-5.5 2.4-5.5 2.4-5.5 2.4-5.5 2.3-5.5 2.3-5.6 2.4-5.5 2.3-5.5 2.3-5.6 2.3-5.5 2.4-5.5 2.3-5.5 2.4-5.5 2.5-5.5 2.5-5.5 2.5-5.4 2.6-5.4 2.7-5.4 2.8-5.3 2.9-5.2 3-5.2 3.1-5.2 3.3-5 3.5-4.9 3.6-4.7 3.9-4.7 4-4.4 4.3-4.1 4.6-4 4.8-3.6 5-3.3 5.2-2.9 5.4-2.6 5.6-2.2 5.7-1.9 5.8-1.7 5.8-1.3 5.9-1.2 5.9-.9 6-.8 5.9-.6 6-.5 6-.5 6-.3 6-.3 6-.3 6-.2 6-.1 6-.1 6-.2 6 0 6-.1 6-.1 6 0 6-.1 6 0 6 0 6 0 6-.1 6 0 6 0 6 0 2 0" stroke-opacity="0.075"/>
<path d="M61.1 277.6l1.3-.1 6-.5 5.9-.5 6-.8 5.9-1 5.9-1.2 5.8-1.6 5.7-1.9 5.5-2.4 5.3-2.8 5-3.2 4.8-3.6 4.5-4 4.2-4.3 3.9-4.6 3.6-4.7 3.4-5 3.2-5.1 3.1-5.1 2.8-5.3 2.8-5.3 2.6-5.4 2.5-5.5 2.5-5.4 2.3-5.6 2.4-5.5 2.2-5.6 2.2-5.5 2.2-5.6 2.2-5.6 2.1-5.6 2.1-5.6 2.1-5.7 2.2-5.6 2.1-5.6 2.1-5.6 2.2-5.6 2.2-5.6 2.2-5.6 2.2-5.5 2.4-5.5 2.3-5.6 2.5-5.4 2.5-5.5 2.6-5.4 2.8-5.3 2.9-5.3 3-5.2 3.1-5 3.4-5 3.6-4.8 3.8-4.6 4.1-4.4 4.4-4.2 4.6-3.8 4.9-3.5 5.1-3 5.4-2.7 5.5-2.3 5.7-1.9 5.8-1.6 5.8-1.4 5.9-1 6-.9 5.9-.7 6-.6 6-.4 6-.4 6-.3 6-.2 6-.2 6-.1 6-.2 6-.1 6 0 6-.1 6 0 6-.1 6 0 6 0 6-.1 6 0 6 0 6 0 6 0 6 0 6 0 6 0 6 0 6 0 2.1 0" stroke-opacity="0.114"/>
<path d="M61.1 277.6l5.5-.4 6-.6 6-.8 5.9-1 5.8-1.3 5.8-1.7 5.6-2.1 5.4-2.5 5.2-3 4.9-3.5 4.5-4 4.2-4.2 3.9-4.6 3.7-4.8 3.3-4.9 3.2-5.2 2.9-5.2 2.8-5.3 2.6-5.4 2.5-5.4 2.4-5.5 2.3-5.6 2.3-5.5 2.2-5.6 2.1-5.6 2.1-5.7 2-5.6 2-5.7 2-5.6 2-5.7 2-5.6 2-5.7 1.9-5.7 2-5.6 2-5.7 2-5.6 2.1-5.7 2.1-5.6 2.1-5.6 2.2-5.6 2.3-5.5 2.4-5.6 2.4-5.4 2.5-5.5 2.7-5.4 2.8-5.3 3-5.2 3.1-5.1 3.4-4.9 3.6-4.8 3.9-4.6 4.2-4.3 4.5-4 4.8-3.6 5-3.2 5.4-2.8 5.5-2.3 5.7-2 5.7-1.5 5.9-1.3 5.9-1 6-.8 5.9-.7 6-.5 6-.4 6-.3 6-.2 6-.2 6-.2 6-.1 6-.1 6-.1 6 0 6-.1 6 0 6 0 6-.1 6 0 6 0 6 0 6 0 6 0 6 0 6 0 6 0 6 0 6 0 6 0 6 0 6 0 3.2 0" stroke-opacity="0.047"/>
<path d="M61.1 277.6l3.4-.2 6-.5 6-.6 5.9-.7 6-1 5.8-1.2 5.9-1.4 5.7-1.8 5.6-2.2 5.4-2.6 5.2-2.9 5-3.3 4.7-3.7 4.5-4.1 4.2-4.2 3.9-4.6 3.7-4.7 3.5-4.9 3.4-5 3.1-5.1 3-5.2 2.9-5.2 2.7-5.4 2.7-5.3 2.6-5.4 2.5-5.5 2.5-5.5 2.4-5.5 2.4-5.5 2.3-5.5 2.3-5.5 2.3-5.6 2.3-5.5 2.3-5.6 2.2-5.5 2.3-5.6 2.3-5.5 2.4-5.5 2.3-5.6 2.4-5.5 2.4-5.4 2.5-5.5 2.6-5.4 2.6-5.4 2.8-5.4 2.8-5.3 2.9-5.2 3.1-5.1 3.2-5.1 3.4-5 3.6-4.8 3.7-4.7 4-4.4 4.2-4.3 4.5-4 4.7-3.7 5-3.3 5.2-3.1 5.4-2.6 5.5-2.3 5.7-2 5.8-1.6 5.8-1.4 5.9-1.2 5.9-.9 5.9-.8 6-.7 6-.5 6-.4 6-.4 6-.3 6-.2 6-.2 5.9-.1 6-.2 6-.1 6-.1 6 0 6-.1 6 0 6-.1 6 0 6 0 6 0 6-.1 6 0 6 0 6 0 6 0 .3 0" stroke-opacity="0.081"/>
<path d="M61.1 277.6l.5 0 5.9-.5 6-.5 6-.7 5.9-.9 5.9-1.2 5.8-1.4 5.7-1.8 5.6-2.2 5.4-2.6 5.2-3 5-3.4 4.6-3.8 4.3-4.2 4.1-4.4 3.8-4.6 3.6-4.8 3.4-5 3.1-5.1 3-5.2 2.9-5.3 2.7-5.3 2.7-5.4 2.5-5.4 2.5-5.5 2.4-5.5 2.3-5.5 2.3-5.6 2.3-5.5 2.2-5.6 2.2-5.6 2.2-5.6 2.2-5.6 2.1-5.5 2.2-5.6 2.2-5.6 2.2-5.6 2.2-5.6 2.3-5.5 2.3-5.6 2.3-5.5 2.4-5.5 2.5-5.5 2.5-5.4 2.7-5.4 2.7-5.3 2.9-5.3 3-5.2 3.1-5.1 3.3-5 3.6-4.9 3.7-4.7 4-4.4 4.2-4.3 4.5-4 4.8-3.6 5-3.3 5.3-2.9 5.4-2.5 5.6-2.2 5.7-1.8 5.8-1.5 5.9-1.2 5.9-1 5.9-.9 6-.6 6-.6 6-.4 6-.4 6-.2 5.9-.3 6-.2 6-.1 6-.1 6-.1 6-.1 6-.1 6 0 6-.1 6 0 6 0 6 0 6-.1 6 0 6 0 6 0 6 0 6 0 6 0 6 0 1 0" stroke-opacity="0.026"/>
<path d="M61.1 277.6l5.3-.4 6-.6 5.9-.7 6-.9 5.8-1.3 5.8-1.5 5.7-2 5.5-2.3 5.3-2.9 5-3.3 4.7-3.7 4.4-4.1 4.1-4.4 3.8-4.6 3.5-4.9 3.3-5 3.1-5.1 3-5.2 2.7-5.4 2.7-5.3 2.5-5.5 2.4-5.5 2.4-5.5 2.3-5.5 2.2-5.6 2.1-5.6 2.2-5.6 2.1-5.6 2-5.7 2.1-5.6 2-5.7 2.1-5.6 2-5.6 2.1-5.7 2-5.6 2.1-5.6 2.1-5.7 2.2-5.6 2.2-5.5 2.2-5.6 2.3-5.5 2.4-5.6 2.5-5.4 2.5-5.4 2.7-5.4 2.8-5.3 3-5.2 3.1-5.1 3.4-5 3.5-4.9 3.8-4.6 4.1-4.4 4.4-4.1 4.6-3.8 5-3.4 5.2-3 5.4-2.6 5.6-2.1 5.7-1.8 5.8-1.5 5.9-1.2 5.9-1 6-.8 5.9-.6 6-.5 6-.3 6-.4 6-.2 6-.2 6-.1 6-.2 6-.1 6 0 6-.1 6-.1 6 0 6 0 6 0 6-.1 6 0 6 0 6 0 6 0 6 0 6 0 6 0 6 0 6 0 6 0 6 0 .9 0" stroke-opacity="0.076"/>
<path d="M61.1 277.6l4.8-.3 6-.4 6-.6 6-.6 5.9-.8 5.9-.9 5.9-1.2 5.8-1.4 5.8-1.6 5.7-2 5.6-2.2 5.4-2.6 5.2-2.9 5.1-3.2 4.9-3.5 4.6-3.8 4.5-4 4.2-4.3 4-4.4 3.8-4.6 3.7-4.8 3.5-4.8 3.4-5 3.3-5 3.1-5.1 3.1-5.2 2.9-5.2 2.9-5.3 2.9-5.3 2.7-5.3 2.8-5.3 2.7-5.4 2.6-5.4 2.7-5.4 2.6-5.4 2.6-5.3 2.6-5.4 2.7-5.4 2.6-5.4 2.7-5.4 2.7-5.4 2.7-5.3 2.8-5.3 2.8-5.3 2.9-5.3 2.9-5.2 3.1-5.2 3.1-5.1 3.2-5.1 3.4-4.9 3.4-4.9 3.7-4.8 3.7-4.7 4-4.5 4.1-4.4 4.3-4.1 4.5-4 4.7-3.7 4.9-3.5 5.1-3.1 5.3-2.9 5.4-2.6 5.6-2.3 5.6-2 5.7-1.7 5.8-1.6 5.9-1.3 5.9-1.1 5.9-.9 6-.8 5.9-.7 6-.6 6-.5 6-.4 6-.4 6-.3 5.9-.2 6-.2 6-.2 6-.1 6-.2 6-.1 6-.1 6 0 6-.1 6-.1 5.2 0" stroke-opacity="0.018"/>
<path d="M61.1 277.6l3.6-.3 6-.4 5.9-.7 6-.8 5.9-1 5.8-1.3 5.8-1.6 5.7-1.9 5.5-2.4 5.3-2.7 5.1-3.2 4.8-3.6 4.5-3.9 4.3-4.3 4-4.5 3.7-4.7 3.5-4.9 3.3-5 3.1-5.1 3-5.2 2.8-5.3 2.7-5.4 2.6-5.4 2.5-5.4 2.5-5.5 2.4-5.5 2.3-5.5 2.3-5.6 2.3-5.5 2.2-5.6 2.2-5.6 2.2-5.5 2.2-5.6 2.2-5.6 2.2-5.6 2.2-5.6 2.2-5.6 2.3-5.5 2.2-5.6 2.4-5.5 2.4-5.5 2.4-5.5 2.5-5.4 2.6-5.4 2.7-5.4 2.8-5.3 2.9-5.2 3.1-5.2 3.3-5 3.4-5 3.6-4.8 3.8-4.6 4.1-4.3 4.4-4.2 4.6-3.8 4.9-3.5 5.1-3.1 5.3-2.8 5.5-2.4 5.7-2 5.7-1.7 5.9-1.4 5.9-1.1 5.9-1 5.9-.8 6-.6 6-.5 6-.4 6-.3 5.9-.3 6-.2 6-.2 6-.1 6-.2 6 0 6-.1 6-.1 6 0 6-.1 6 0 6 0 6-.1 6 0 6 0 6 0 6 0 6 0 6 0 6 0 3.3 0" stroke-opacity="0.133"/>
<path d="M61.1 277.6l5.2-.3 6-.5 6-.5 5.9-.7 6-.9 5.9-1 5.8-1.3 5.8-1.5 5.8-1.8 5.6-2.1 5.4-2.5 5.3-2.8 5.1-3.2 4.9-3.4 4.7-3.8 4.4-4 4.2-4.3 4-4.5 3.8-4.6 3.7-4.8 3.4-4.9 3.4-5 3.1-5.1 3.1-5.1 3-5.3 2.9-5.2 2.8-5.3 2.7-5.4 2.7-5.3 2.7-5.4 2.6-5.4 2.5-5.4 2.6-5.5 2.5-5.4 2.5-5.4 2.6-5.5 2.5-5.4 2.6-5.5 2.5-5.4 2.6-5.4 2.6-5.4 2.7-5.4 2.7-5.3 2.8-5.3 2.8-5.3 3-5.2 3-5.2 3.1-5.2 3.2-5 3.4-5 3.5-4.8 3.7-4.8 3.8-4.6 4.1-4.4 4.2-4.3 4.4-4 4.7-3.8 4.8-3.5 5.1-3.3 5.2-2.9 5.5-2.6 5.5-2.3 5.7-2 5.7-1.7 5.8-1.5 5.9-1.3 5.9-1 5.9-.9 6-.8 5.9-.6 6-.6 6-.4 6-.4 6-.3 6-.3 6-.2 5.9-.2 6-.1 6-.2 6-.1 6-.1 6-.1 6 0 6-.1 6 0 6 0 6-.1 2 0" stroke-opacity="0.009"/>
<path d="M61.1 277.6l3.1-.2 6-.4 6-.6 6-.7 5.9-.8 5.9-1.1 5.9-1.2 5.8-1.6 5.7-1.9 5.5-2.2 5.5-2.5 5.2-3 5-3.2 4.8-3.7 4.5-3.9 4.3-4.2 4.1-4.4 3.8-4.6 3.7-4.7 3.5-4.9 3.3-5 3.1-5.1 3.1-5.2 2.9-5.3 2.8-5.2 2.8-5.4 2.7-5.3 2.6-5.4 2.6-5.5 2.5-5.4 2.5-5.5 2.4-5.4 2.5-5.5 2.4-5.5 2.5-5.5 2.4-5.5 2.4-5.5 2.5-5.4 2.4-5.5 2.6-5.4 2.5-5.5 2.6-5.4 2.6-5.4 2.7-5.3 2.8-5.4 2.9-5.2 2.9-5.2 3.1-5.2 3.2-5.1 3.3-5 3.5-4.9 3.7-4.7 3.8-4.6 4.1-4.4 4.2-4.2 4.5-4 4.8-3.7 4.9-3.4 5.1-3.1 5.4-2.8 5.5-2.4 5.6-2.1 5.7-1.8 5.8-1.6 5.8-1.3 5.9-1.1 6-.9 5.9-.8 6-.6 6-.5 5.9-.5 6-.4 6-.3 6-.2 6-.2 6-.2 6-.1 6-.2 6-.1 6 0 6-.1 6-.1 6 0 6-.1 6 0 6 0 6 0 6-.1 1.4 0" stroke-opacity="0.061"/>
<path d="M61.1 277.6l4.6-.3 5.9-.5 6-.6 6-.7 5.9-.9 5.9-1.2 5.8-1.4 5.8-1.7 5.6-2.1 5.5-2.4 5.3-2.8 5.1-3.2 4.8-3.5 4.6-3.9 4.4-4.1 4.1-4.4 3.8-4.6 3.7-4.7 3.5-4.9 3.3-5 3.1-5.1 3-5.2 2.9-5.3 2.9-5.3 2.7-5.3 2.6-5.4 2.6-5.4 2.5-5.5 2.5-5.4 2.4-5.5 2.4-5.5 2.4-5.5 2.4-5.5 2.4-5.5 2.3-5.5 2.4-5.6 2.4-5.5 2.4-5.5 2.4-5.4 2.5-5.5 2.5-5.5 2.6-5.4 2.6-5.4 2.7-5.4 2.7-5.3 2.9-5.2 3-5.3 3.1-5.1 3.2-5.1 3.4-4.9 3.5-4.8 3.8-4.7 3.9-4.5 4.2-4.4 4.4-4 4.6-3.8 4.9-3.5 5.1-3.2 5.3-2.9 5.4-2.5 5.6-2.1 5.7-1.9 5.8-1.6 5.9-1.3 5.9-1.1 5.9-.9 5.9-.8 6-.6 6-.6 6-.4 6-.4 6-.3 6-.2 5.9-.2 6-.2 6-.1 6-.1 6-.1 6-.1 6 0 6-.1 6 0 6-.1 6 0 6 0 6 0 6-.1 6 0 2.1 0" stroke-opacity="0.019"/>
<path d="M61.1 277.6l1.6-.1 6-.5 6-.5 5.9-.8 5.9-.9 5.9-1.2 5.8-1.5 5.7-1.8 5.6-2.2 5.4-2.6 5.2-3.1 4.9-3.4 4.6-3.8 4.4-4.2 4-4.4 3.8-4.6 3.6-4.8 3.4-5 3.2-5.1 3-5.2 2.9-5.2 2.7-5.4 2.7-5.3 2.5-5.5 2.5-5.4 2.4-5.5 2.4-5.5 2.3-5.6 2.3-5.5 2.2-5.6 2.2-5.6 2.2-5.6 2.2-5.5 2.2-5.6 2.2-5.6 2.2-5.6 2.2-5.6 2.3-5.5 2.3-5.6 2.3-5.5 2.4-5.5 2.4-5.5 2.5-5.5 2.6-5.4 2.6-5.4 2.8-5.3 2.9-5.3 3-5.1 3.2-5.1 3.3-5 3.6-4.8 3.7-4.7 4-4.5 4.3-4.2 4.5-3.9 4.8-3.7 5-3.2 5.3-2.9 5.5-2.5 5.6-2.2 5.7-1.8 5.8-1.5 5.8-1.2 6-1 5.9-.9 6-.7 5.9-.5 6-.5 6-.3 6-.3 6-.2 6-.2 6-.2 6-.1 6-.1 6-.1 6-.1 6 0 6-.1 6 0 6 0 6 0 6-.1 6 0 6 0 6 0 6 0 6 0 6 0 5.1 0" stroke-opacity="0.125"/>
<path d="M61.1 277.6l2.8-.1 6-.5 6-.4 6-.6 5.9-.7 6-.9 5.9-1 5.8-1.3 5.9-1.4 5.7-1.8 5.6-2 5.6-2.3 5.4-2.7 5.2-2.9 5-3.3 4.8-3.6 4.7-3.8 4.4-4 4.2-4.3 4-4.4 3.9-4.6 3.7-4.8 3.5-4.8 3.4-4.9 3.3-5.1 3.2-5 3.1-5.2 3-5.2 3-5.2 2.8-5.3 2.9-5.3 2.8-5.3 2.7-5.3 2.7-5.4 2.7-5.3 2.7-5.4 2.7-5.3 2.7-5.4 2.7-5.4 2.7-5.3 2.7-5.4 2.8-5.3 2.8-5.3 2.8-5.3 2.9-5.2 3-5.3 3-5.1 3.1-5.2 3.2-5.1 3.3-5 3.4-4.9 3.6-4.8 3.7-4.8 3.8-4.6 4-4.4 4.2-4.3 4.4-4.1 4.5-3.9 4.8-3.7 4.9-3.4 5.2-3.1 5.2-2.8 5.5-2.6 5.5-2.3 5.7-2 5.7-1.7 5.8-1.5 5.9-1.4 5.9-1.1 5.9-1 5.9-.8 6-.7 6-.6 5.9-.5 6-.4 6-.4 6-.3 6-.3 6-.2 6-.2 6-.1 6-.2 6-.1 6-.1 6-.1 6 0 5.2-.1" stroke-opacity="0.073"/>
<path d="M61.1 277.6l5.8-.4 6-.5 6-.6 5.9-.8 5.9-.9 5.9-1.2 5.8-1.4 5.8-1.7 5.6-2.1 5.5-2.4 5.3-2.9 5.1-3.1 4.9-3.5 4.6-3.9 4.3-4.1 4.2-4.4 3.8-4.5 3.7-4.7 3.5-4.9 3.4-5 3.2-5.1 3-5.2 2.9-5.2 2.9-5.3 2.7-5.3 2.7-5.4 2.6-5.4 2.6-5.4 2.5-5.5 2.4-5.4 2.5-5.5 2.4-5.5 2.4-5.5 2.4-5.5 2.4-5.5 2.4-5.5 2.4-5.5 2.5-5.5 2.4-5.4 2.5-5.5 2.6-5.4 2.5-5.5 2.7-5.3 2.7-5.4 2.8-5.3 2.9-5.2 3-5.2 3.1-5.2 3.3-5 3.4-4.9 3.6-4.8 3.7-4.7 4-4.5 4.2-4.3 4.4-4.1 4.6-3.8 4.9-3.5 5.1-3.2 5.3-2.8 5.4-2.6 5.6-2.2 5.7-1.9 5.8-1.6 5.8-1.3 5.9-1.2 5.9-.9 6-.8 5.9-.7 6-.5 6-.5 6-.4 6-.3 6-.2 6-.2 6-.2 6-.2 6-.1 6-.1 6 0 6-.1 6-.1 6 0 6-.1 6 0 6 0 6 0 6-.1 5.7 0" stroke-opacity="0.054"/>
<path d="M61.1 277.6l.3 0 5.9-.5 6-.5 6-.7 5.9-.8 5.9-1.2 5.9-1.3 5.7-1.7 5.6-2.1 5.5-2.5 5.3-2.9 5-3.3 4.7-3.6 4.5-4.1 4.2-4.2 3.9-4.6 3.7-4.7 3.4-4.9 3.3-5 3.1-5.2 3-5.2 2.8-5.3 2.7-5.3 2.6-5.4 2.6-5.5 2.4-5.4 2.4-5.5 2.4-5.6 2.3-5.5 2.3-5.6 2.2-5.5 2.3-5.6 2.2-5.6 2.2-5.5 2.2-5.6 2.2-5.6 2.3-5.5 2.2-5.6 2.3-5.5 2.4-5.6 2.3-5.5 2.5-5.5 2.5-5.4 2.5-5.5 2.7-5.3 2.7-5.4 2.9-5.2 3-5.2 3.1-5.2 3.3-5 3.5-4.8 3.7-4.8 3.9-4.5 4.2-4.3 4.4-4.1 4.7-3.7 5-3.4 5.1-3 5.4-2.7 5.6-2.3 5.6-2 5.8-1.6 5.8-1.4 5.9-1.1 6-.9 5.9-.8 6-.6 6-.5 5.9-.4 6-.3 6-.3 6-.2 6-.2 6-.1 6-.1 6-.1 6-.1 6-.1 6 0 6-.1 6 0 6 0 6 0 6-.1 6 0 6 0 6 0 6 0 6 0 5.6 0" stroke-opacity="0.064"/>
<path d="M61.1 277.6l.9-.1 6-.4 6-.5 6-.6 5.9-.8 5.9-1 5.9-1.3 5.8-1.5 5.7-1.8 5.6-2.1 5.5-2.6 5.2-2.9 5-3.3 4.8-3.6 4.6-3.9 4.2-4.2 4.1-4.4 3.8-4.6 3.6-4.8 3.5-4.9 3.3-5.1 3.1-5.1 3-5.2 2.9-5.2 2.8-5.3 2.7-5.4 2.6-5.4 2.6-5.4 2.5-5.4 2.5-5.5 2.5-5.5 2.4-5.5 2.4-5.5 2.4-5.5 2.4-5.5 2.3-5.5 2.4-5.5 2.4-5.5 2.5-5.5 2.4-5.4 2.5-5.5 2.6-5.4 2.6-5.4 2.6-5.4 2.7-5.4 2.9-5.3 2.9-5.2 3-5.2 3.1-5.1 3.3-5 3.5-4.9 3.6-4.8 3.8-4.7 4-4.4 4.3-4.3 4.4-4 4.7-3.7 5-3.4 5.1-3.1 5.3-2.7 5.5-2.5 5.6-2.1 5.8-1.8 5.8-1.5 5.8-1.3 5.9-1 6-.9 5.9-.8 6-.6 6-.5 5.9-.4 6-.4 6-.3 6-.2 6-.2 6-.2 6-.1 6-.1 6-.1 6-.1 6 0 6-.1 6 0 6-.1 6 0 6 0 6 0 6-.1 5.1 0" stroke-opacity="0.020"/>
<path d="M61.1 277.6l3.4-.2 6-.5 6-.5 5.9-.8 6-.8 5.9-1.1 5.8-1.4 5.8-1.6 5.6-2 5.6-2.4 5.3-2.7 5.2-3.1 4.9-3.4 4.6-3.8 4.4-4 4.2-4.4 3.9-4.5 3.7-4.7 3.6-4.9 3.3-5 3.2-5 3-5.2 3-5.2 2.8-5.3 2.7-5.4 2.7-5.3 2.6-5.4 2.5-5.5 2.5-5.4 2.5-5.5 2.4-5.5 2.4-5.5 2.4-5.5 2.4-5.5 2.3-5.5 2.4-5.5 2.4-5.5 2.4-5.5 2.4-5.5 2.5-5.5 2.5-5.5 2.6-5.4 2.6-5.4 2.7-5.4 2.7-5.3 2.9-5.3 2.9-5.2 3.1-5.1 3.2-5.1 3.3-5 3.6-4.8 3.7-4.8 3.9-4.5 4.1-4.4 4.3-4.1 4.6-3.9 4.8-3.6 5.1-3.2 5.2-2.9 5.4-2.6 5.6-2.3 5.7-1.9 5.7-1.7 5.9-1.4 5.9-1.1 5.9-1 5.9-.8 6-.7 6-.5 5.9-.5 6-.4 6-.3 6-.2 6-.2 6-.2 6-.2 6-.1 6-.1 6-.1 6 0 6-.1 6 0 6-.1 6 0 6 0 6 0 6-.1 6 0 3 0" stroke-opacity="0.145"/>
<path d="M61.1 277.6l3.5-.3 6-.5 5.9-.7 5.9-.9 5.9-1.2 5.8-1.6 5.7-1.9 5.5-2.4 5.2-2.9 5-3.4 4.7-3.8 4.3-4.1 4-4.5 3.7-4.7 3.4-5 3.2-5 3-5.2 2.8-5.3 2.7-5.4 2.5-5.4 2.4-5.5 2.4-5.6 2.2-5.5 2.2-5.6 2.2-5.6 2-5.6 2.1-5.7 2-5.6 2-5.7 2-5.6 2-5.7 1.9-5.7 2-5.6 2-5.7 2-5.7 2-5.6 2-5.7 2.1-5.6 2.1-5.6 2.2-5.6 2.2-5.6 2.3-5.5 2.4-5.5 2.5-5.5 2.7-5.4 2.7-5.3 2.9-5.2 3.1-5.2 3.3-5 3.6-4.8 3.8-4.7 4-4.4 4.4-4.1 4.7-3.7 5-3.3 5.3-2.9 5.4-2.5 5.7-2.1 5.7-1.6 5.9-1.4 5.9-1.1 5.9-.8 6-.7 5.9-.6 6-.4 6-.3 6-.3 6-.2 6-.1 6-.2 6-.1 6-.1 6 0 6-.1 6 0 6 0 6-.1 6 0 6 0 6 0 6 0 6 0 6 0 6 0 6 0 6 0 6 0 6 0 6 0 6 0 5.5 0" stroke-opacity="0.101"/>
<path d="M61.1 277.6l1.9-.1 6-.4 6-.5 6-.6 5.9-.7 6-1 5.9-1.1 5.8-1.3 5.8-1.6 5.7-1.8 5.6-2.2 5.4-2.5 5.3-2.9 5.1-3.2 4.9-3.5 4.6-3.8 4.4-4 4.2-4.3 4.1-4.5 3.8-4.6 3.6-4.8 3.5-4.9 3.3-4.9 3.2-5.1 3.1-5.1 3.1-5.2 2.9-5.3 2.8-5.3 2.8-5.3 2.7-5.3 2.7-5.4 2.6-5.4 2.7-5.4 2.6-5.4 2.5-5.4 2.6-5.4 2.6-5.5 2.6-5.4 2.6-5.4 2.6-5.4 2.6-5.4 2.7-5.3 2.7-5.4 2.8-5.3 2.8-5.3 2.9-5.3 3-5.2 3-5.1 3.2-5.1 3.3-5 3.4-5 3.6-4.8 3.7-4.7 3.9-4.6 4.1-4.4 4.3-4.2 4.4-4 4.7-3.7 4.9-3.5 5.1-3.2 5.2-2.9 5.5-2.5 5.5-2.3 5.7-2 5.7-1.8 5.8-1.5 5.9-1.2 5.9-1.1 5.9-.9 6-.8 5.9-.7 6-.5 6-.5 6-.4 6-.3 6-.3 5.9-.2 6-.2 6-.2 6-.1 6-.1 6-.1 6-.1 6-.1 6 0 6-.1 6 0 3.8 0" stroke-opacity="0.090"/>
<path d="M61.1 277.6l4.5-.3 6-.6 5.9-.7 6-.9 5.9-1.1 5.8-1.5 5.7-1.8 5.6-2.3 5.3-2.6 5.1-3.2 4.8-3.6 4.6-3.9 4.2-4.3 3.9-4.5 3.6-4.8 3.4-4.9 3.2-5.1 3.1-5.2 2.8-5.3 2.7-5.3 2.6-5.4 2.5-5.5 2.4-5.5 2.4-5.5 2.3-5.6 2.2-5.5 2.1-5.6 2.2-5.6 2.1-5.6 2.1-5.7 2.1-5.6 2-5.6 2.1-5.7 2.1-5.6 2.1-5.6 2.1-5.6 2.1-5.6 2.2-5.6 2.2-5.6 2.3-5.6 2.3-5.5 2.4-5.5 2.4-5.5 2.6-5.4 2.7-5.4 2.8-5.3 2.9-5.2 3.1-5.1 3.3-5 3.5-4.9 3.8-4.7 4-4.5 4.3-4.2 4.5-3.9 4.9-3.5 5.1-3.1 5.3-2.8 5.6-2.3 5.6-2 5.8-1.6 5.9-1.3 5.9-1.1 5.9-.8 6-.7 5.9-.6 6-.4 6-.4 6-.2 6-.3 6-.1 6-.2 6-.1 6-.1 6-.1 6 0 6-.1 6 0 6 0 6 0 6-.1 6 0 6 0 6 0 6 0 6 0 6 0 6 0 6 0 6 0 6 0 .5 0" stroke-opacity="0.093"/>
<path d="M61.1 277.6l4.8-.3 6-.5 6-.6 5.9-.8 5.9-1 5.9-1.2 5.8-1.5 5.7-1.9 5.6-2.2 5.4-2.5 5.2-3 5-3.4 4.7-3.7 4.5-4 4.2-4.3 3.9-4.5 3.7-4.7 3.5-4.9 3.3-5 3.2-5.1 3-5.2 2.9-5.2 2.8-5.3 2.7-5.4 2.6-5.4 2.6-5.4 2.4-5.5 2.5-5.5 2.4-5.5 2.3-5.5 2.4-5.5 2.3-5.6 2.3-5.5 2.3-5.6 2.3-5.5 2.3-5.5 2.3-5.6 2.4-5.5 2.4-5.5 2.4-5.5 2.5-5.4 2.5-5.5 2.6-5.4 2.6-5.4 2.8-5.3 2.8-5.3 3-5.2 3.1-5.1 3.3-5.1 3.4-4.9 3.6-4.8 3.8-4.7 4-4.4 4.2-4.2 4.5-4 4.8-3.7 5-3.3 5.2-3 5.3-2.7 5.6-2.3 5.7-1.9 5.7-1.7 5.9-1.4 5.8-1.2 6-.9 5.9-.8 6-.7 5.9-.5 6-.4 6-.4 6-.3 6-.2 6-.2 6-.2 6-.1 6-.1 6-.1 6-.1 6-.1 6 0 6-.1 6 0 6 0 6 0 6-.1 6 0 6 0 6 0 4 0" stroke-opacity="0.087"/>
<path d="M61.1 277.6l1.2-.1 6-.4 6-.5 5.9-.7 6-.9 5.9-1 5.8-1.4 5.8-1.6 5.7-1.9 5.5-2.4 5.3-2.7 5.2-3.1 4.9-3.5 4.6-3.8 4.3-4.1 4.2-4.4 3.8-4.5 3.7-4.8 3.4-4.9 3.3-5 3.1-5.2 3-5.2 2.9-5.2 2.7-5.4 2.7-5.3 2.6-5.4 2.5-5.5 2.5-5.5 2.4-5.4 2.4-5.5 2.4-5.6 2.3-5.5 2.3-5.5 2.4-5.6 2.3-5.5 2.3-5.5 2.3-5.6 2.4-5.5 2.3-5.5 2.4-5.5 2.5-5.5 2.5-5.4 2.5-5.5 2.6-5.4 2.8-5.3 2.7-5.3 2.9-5.3 3.1-5.2 3.1-5.1 3.3-5 3.5-4.9 3.7-4.7 3.9-4.6 4.1-4.4 4.3-4.1 4.6-3.9 4.8-3.5 5.1-3.3 5.2-2.8 5.5-2.6 5.5-2.2 5.7-1.8 5.8-1.6 5.9-1.3 5.9-1.1 5.9-1 6-.7 5.9-.6 6-.5 6-.4 6-.4 6-.3 6-.2 6-.2 6-.1 6-.2 6-.1 6-.1 6 0 6-.1 6 0 6-.1 6 0 6 0 6 0 6-.1 6 0 6 0 6 0 1.3 0" stroke-opacity="0.092"/>
<path d="M61.1 277.6l2.9-.2 6-.5 6-.7 5.9-.9 5.9-1.2 5.8-1.4 5.7-1.9 5.6-2.3 5.3-2.8 5-3.3 4.7-3.7 4.4-4 4.1-4.4 3.8-4.7 3.5-4.9 3.3-5 3-5.1 2.9-5.3 2.7-5.4 2.6-5.4 2.5-5.4 2.4-5.5 2.3-5.6 2.2-5.5 2.2-5.6 2.1-5.7 2.1-5.6 2-5.6 2.1-5.7 2-5.6 2-5.7 2-5.6 1.9-5.7 2-5.7 2-5.6 2.1-5.7 2-5.6 2.1-5.6 2.2-5.6 2.2-5.6 2.2-5.6 2.3-5.5 2.4-5.5 2.5-5.5 2.6-5.4 2.8-5.3 2.9-5.2 3.1-5.2 3.2-5 3.5-4.9 3.8-4.7 4-4.4 4.3-4.2 4.7-3.8 4.9-3.4 5.2-3 5.4-2.6 5.6-2.2 5.7-1.8 5.8-1.4 5.9-1.2 5.9-.9 6-.8 6-.6 6-.4 5.9-.4 6-.3 6-.2 6-.2 6-.1 6-.1 6-.1 6-.1 6 0 6-.1 6 0 6 0 6-.1 6 0 6 0 6 0 6 0 6 0 6 0 6 0 6 0 6 0 6 0 6 0 6 0 5.2 0" stroke-opacity="0.032"/>
<path d="M61.1 277.6l3.7-.3 6-.5 5.9-.7 6-1 5.8-1.2 5.8-1.6 5.7-2 5.5-2.4 5.2-2.9 4.9-3.4 4.7-3.9 4.2-4.2 4-4.5 3.6-4.8 3.4-4.9 3.2-5.1 3-5.2 2.8-5.3 2.6-5.4 2.5-5.5 2.4-5.5 2.4-5.5 2.2-5.5 2.2-5.6 2.1-5.7 2.1-5.6 2-5.6 2-5.7 2-5.6 2-5.7 1.9-5.7 2-5.7 1.9-5.6 2-5.7 2-5.7 2-5.6 2-5.7 2.1-5.6 2.1-5.6 2.2-5.6 2.2-5.6 2.3-5.5 2.4-5.5 2.5-5.5 2.7-5.4 2.7-5.3 2.9-5.2 3.1-5.2 3.3-5 3.6-4.8 3.8-4.6 4.1-4.4 4.4-4.1 4.8-3.7 5-3.2 5.2-2.9 5.5-2.4 5.7-2 5.8-1.7 5.8-1.3 5.9-1 6-.9 5.9-.6 6-.6 6-.4 6-.3 6-.2 6-.2 6-.2 6-.1 6-.1 6-.1 6 0 6-.1 6 0 6 0 6-.1 6 0 6 0 6 0 6 0 6 0 6 0 6 0 6 0 6 0 6 0 6 0 6 0 6 0 5.6 0" stroke-opacity="0.126"/>
<path d="M61.1 277.6l.8-.1 6-.4 6-.6 5.9-.7 6-1 5.8-1.2 5.8-1.5 5.7-1.9 5.6-2.3 5.3-2.8 5.1-3.1 4.8-3.6 4.5-4 4.2-4.2 4-4.5 3.7-4.8 3.4-4.9 3.2-5 3.1-5.2 2.9-5.3 2.8-5.3 2.6-5.4 2.6-5.4 2.4-5.5 2.4-5.5 2.3-5.5 2.3-5.6 2.2-5.5 2.2-5.6 2.2-5.6 2.1-5.6 2.2-5.6 2.1-5.6 2.1-5.6 2.1-5.7 2.2-5.6 2.1-5.6 2.2-5.5 2.3-5.6 2.2-5.6 2.3-5.5 2.4-5.5 2.5-5.5 2.5-5.4 2.6-5.4 2.7-5.4 2.9-5.3 3-5.1 3.2-5.1 3.3-5 3.6-4.8 3.8-4.7 4-4.4 4.3-4.2 4.6-3.8 4.9-3.5 5.1-3.2 5.4-2.7 5.5-2.4 5.6-2 5.8-1.6 5.9-1.4 5.9-1.1 5.9-.9 5.9-.7 6-.6 6-.4 6-.4 6-.3 6-.3 6-.2 6-.1 6-.1 6-.1 6-.1 6-.1 6 0 6-.1 6 0 6 0 6-.1 6 0 6 0 6 0 6 0 6 0 6 0 6 0 6 0 6 0 2.3 0" stroke-opacity="0.086"/>
<path d="M61.1 277.6l4.4-.3 6-.5 5.9-.6 6-.8 5.9-1 5.9-1.3 5.8-1.6 5.7-1.9 5.5-2.3 5.4-2.6 5.1-3.1 4.9-3.5 4.6-3.9 4.3-4.1 4.1-4.4 3.8-4.6 3.6-4.8 3.4-5 3.2-5.1 3.1-5.1 2.9-5.3 2.8-5.3 2.7-5.3 2.6-5.4 2.5-5.5 2.5-5.5 2.4-5.5 2.3-5.5 2.4-5.5 2.2-5.6 2.3-5.5 2.3-5.6 2.2-5.5 2.3-5.6 2.2-5.6 2.3-5.5 2.2-5.6 2.3-5.5 2.4-5.5 2.4-5.5 2.4-5.5 2.5-5.5 2.5-5.4 2.7-5.4 2.7-5.4 2.8-5.2 3-5.3 3.1-5.1 3.2-5.1 3.4-4.9 3.7-4.8 3.8-4.6 4-4.4 4.4-4.2 4.5-3.9 4.8-3.5 5.1-3.3 5.3-2.8 5.4-2.5 5.6-2.2 5.8-1.8 5.8-1.5 5.8-1.3 5.9-1 6-.9 5.9-.7 6-.5 6-.5 6-.4 6-.3 6-.2 6-.2 5.9-.2 6-.1 6-.2 6 0 6-.1 6-.1 6 0 6-.1 6 0 6 0 6 0 6-.1 6 0 6 0 6 0 6 0 6 0 .5 0" stroke-opacity="0.066"/>
<path d="M61.1 277.6l1.6-.1 6-.5 6-.5 5.9-.8 6-.9 5.8-1.2 5.9-1.5 5.7-1.8 5.6-2.2 5.4-2.6 5.1-3 5-3.4 4.6-3.8 4.4-4.1 4.1-4.4 3.8-4.6 3.6-4.8 3.4-5 3.2-5.1 3-5.1 2.9-5.3 2.8-5.3 2.6-5.4 2.6-5.4 2.5-5.5 2.4-5.5 2.4-5.5 2.3-5.5 2.3-5.6 2.3-5.5 2.2-5.6 2.2-5.6 2.2-5.6 2.2-5.5 2.2-5.6 2.2-5.6 2.2-5.6 2.3-5.5 2.3-5.6 2.3-5.5 2.4-5.5 2.4-5.5 2.5-5.5 2.6-5.4 2.7-5.3 2.7-5.4 2.9-5.2 3-5.2 3.2-5.1 3.4-5 3.5-4.8 3.8-4.7 4-4.5 4.2-4.2 4.5-3.9 4.8-3.7 5-3.3 5.3-2.9 5.4-2.5 5.6-2.2 5.7-1.8 5.8-1.5 5.9-1.3 5.9-1 5.9-.9 6-.7 6-.5 5.9-.5 6-.4 6-.3 6-.2 6-.2 6-.2 6-.1 6-.1 6-.1 6-.1 6 0 6 0 6-.1 6 0 6 0 6-.1 6 0 6 0 6 0 6 0 6 0 6 0 4.8 0" stroke-opacity="0.062"/>
<path d="M61.1 277.6l3.3-.2 5.9-.5 6-.6 6-.7 5.9-1 5.9-1.2 5.8-1.5 5.7-1.8 5.6-2.2 5.4-2.5 5.2-3 5-3.4 4.7-3.7 4.4-4.1 4.1-4.3 3.9-4.6 3.7-4.7 3.5-4.9 3.3-5 3.1-5.1 3-5.3 2.8-5.2 2.7-5.4 2.7-5.4 2.6-5.4 2.4-5.4 2.5-5.5 2.4-5.5 2.3-5.6 2.3-5.5 2.3-5.5 2.3-5.6 2.3-5.5 2.2-5.6 2.3-5.6 2.3-5.5 2.2-5.6 2.4-5.5 2.3-5.5 2.4-5.5 2.4-5.5 2.5-5.5 2.5-5.4 2.7-5.4 2.7-5.4 2.8-5.3 2.9-5.2 3.1-5.1 3.2-5.1 3.4-5 3.5-4.8 3.8-4.7 4-4.4 4.3-4.3 4.5-3.9 4.7-3.7 5-3.3 5.2-3 5.4-2.6 5.6-2.3 5.6-1.9 5.8-1.6 5.9-1.4 5.9-1.1 5.9-.9 5.9-.8 6-.6 6-.5 6-.4 6-.4 6-.2 6-.3 6-.1 6-.2 6-.1 5.9-.1 6-.1 6-.1 6 0 6 0 6-.1 6 0 6 0 6-.1 6 0 6 0 6 0 6 0 6 0 1.1 0" stroke-opacity="0.107"/>
<path d="M61.1 277.6l3.4-.2 5.9-.5 6-.5 6-.7 5.9-.9 5.9-1.1 5.9-1.3 5.7-1.6 5.7-2 5.6-2.3 5.3-2.6 5.2-3.1 4.9-3.4 4.7-3.7 4.5-4 4.2-4.3 4-4.5 3.7-4.7 3.6-4.8 3.4-4.9 3.2-5.1 3.1-5.1 3-5.3 2.8-5.2 2.8-5.4 2.7-5.3 2.6-5.4 2.6-5.4 2.5-5.5 2.5-5.5 2.4-5.4 2.4-5.5 2.4-5.5 2.4-5.5 2.4-5.5 2.4-5.5 2.4-5.5 2.4-5.5 2.5-5.5 2.5-5.5 2.5-5.4 2.6-5.4 2.6-5.4 2.7-5.4 2.7-5.3 2.9-5.3 2.9-5.2 3.1-5.2 3.2-5 3.4-5 3.5-4.9 3.7-4.7 3.8-4.6 4.1-4.4 4.4-4.1 4.5-3.9 4.8-3.6 5-3.4 5.2-2.9 5.4-2.7 5.5-2.3 5.7-2 5.8-1.7 5.8-1.4 5.9-1.2 5.9-1 5.9-.9 6-.7 5.9-.6 6-.4 6-.4 6-.4 6-.2 6-.3 6-.2 6-.1 6-.1 6-.1 6-.1 6-.1 6-.1 6 0 6 0 6-.1 6 0 6 0 6-.1 6 0 2.4 0" stroke-opacity="0.023"/>
<path d="M61.1 277.6l4.9-.3 6-.5 6-.7 5.9-.8 5.9-.9 5.9-1.3 5.8-1.5 5.7-1.9 5.6-2.2 5.3-2.7 5.2-3 5-3.4 4.6-3.7 4.5-4.1 4.1-4.3 3.9-4.6 3.7-4.7 3.4-4.9 3.3-5.1 3.2-5.1 2.9-5.2 2.9-5.3 2.8-5.3 2.6-5.4 2.6-5.4 2.5-5.4 2.5-5.5 2.4-5.5 2.4-5.5 2.3-5.5 2.3-5.6 2.3-5.5 2.3-5.5 2.3-5.6 2.3-5.5 2.3-5.6 2.3-5.5 2.3-5.5 2.4-5.6 2.4-5.4 2.5-5.5 2.5-5.5 2.6-5.4 2.6-5.4 2.8-5.3 2.8-5.3 3-5.2 3.1-5.1 3.3-5.1 3.4-4.9 3.6-4.8 3.8-4.6 4-4.5 4.3-4.2 4.6-3.9 4.7-3.6 5-3.3 5.3-3 5.4-2.6 5.5-2.2 5.7-1.9 5.8-1.6 5.8-1.4 5.9-1.1 6-.9 5.9-.8 6-.6 6-.5 5.9-.5 6-.3 6-.3 6-.2 6-.2 6-.2 6-.1 6-.1 6-.1 6 0 6-.1 6 0 6-.1 6 0 6 0 6 0 6-.1 6 0 6 0 6 0 4.5 0" stroke-opacity="0.141"/>
<path d="M61.1 277.6l.6 0 6-.4 6-.5 6-.5 5.9-.7 6-.9 5.9-1 5.8-1.2 5.9-1.5 5.7-1.8 5.6-2 5.5-2.4 5.4-2.7 5.2-3.1 4.9-3.3 4.8-3.6 4.6-4 4.3-4.1 4.1-4.4 3.9-4.5 3.8-4.7 3.6-4.8 3.4-4.9 3.3-5 3.2-5.1 3.1-5.2 3-5.2 2.9-5.2 2.8-5.3 2.8-5.3 2.8-5.3 2.6-5.4 2.7-5.4 2.6-5.4 2.7-5.4 2.6-5.4 2.6-5.4 2.6-5.4 2.6-5.4 2.6-5.4 2.7-5.3 2.7-5.4 2.7-5.4 2.8-5.3 2.8-5.3 2.9-5.2 3-5.2 3-5.2 3.2-5.1 3.3-5 3.3-5 3.6-4.8 3.6-4.8 3.9-4.6 4-4.5 4.2-4.3 4.4-4 4.6-3.9 4.8-3.6 4.9-3.3 5.2-3.1 5.4-2.7 5.4-2.5 5.6-2.1 5.7-1.9 5.8-1.6 5.8-1.4 5.9-1.2 5.9-1.1 6-.8 5.9-.8 6-.6 6-.5 5.9-.5 6-.3 6-.4 6-.2 6-.2 6-.2 6-.2 6-.1 6-.1 6-.1 6-.1 6-.1 6 0 6-.1 4 0" stroke-opacity="0.044"/>
<path d="M61.1 277.6l1.1 0 5.9-.4 6-.5 6-.6 5.9-.7 6-.9 5.9-1.1 5.8-1.3 5.8-1.5 5.8-1.9 5.6-2.1 5.4-2.5 5.3-2.8 5.1-3.1 4.9-3.5 4.7-3.8 4.4-4 4.3-4.2 4-4.5 3.8-4.6 3.7-4.8 3.5-4.8 3.4-5 3.2-5.1 3.1-5.1 3-5.2 2.9-5.2 2.9-5.3 2.8-5.3 2.7-5.4 2.7-5.3 2.6-5.4 2.6-5.4 2.6-5.4 2.6-5.4 2.6-5.5 2.6-5.4 2.5-5.4 2.6-5.4 2.6-5.4 2.6-5.4 2.7-5.4 2.7-5.3 2.8-5.4 2.8-5.3 2.9-5.2 2.9-5.2 3.1-5.2 3.2-5.1 3.2-5 3.4-5 3.6-4.8 3.7-4.8 3.8-4.5 4.1-4.5 4.2-4.2 4.5-4 4.7-3.8 4.8-3.5 5.1-3.2 5.2-3 5.4-2.6 5.5-2.3 5.7-2 5.7-1.8 5.8-1.5 5.9-1.3 5.9-1.1 5.9-1 6-.7 5.9-.7 6-.6 6-.5 6-.4 6-.3 5.9-.3 6-.2 6-.2 6-.2 6-.1 6-.1 6-.1 6-.1 6-.1 6 0 6-.1 6 0 4.8-.1" stroke-opacity="0.130"/>
<path d="M61.1 277.6l5.5-.3 5.9-.5 6-.6 6-.6 5.9-.9 5.9-1 5.9-1.3 5.8-1.5 5.7-1.8 5.6-2.1 5.5-2.4 5.4-2.8 5.1-3.1 4.9-3.4 4.7-3.8 4.5-4 4.2-4.2 4.1-4.4 3.8-4.6 3.7-4.8 3.5-4.9 3.3-4.9 3.2-5.1 3.1-5.1 3-5.2 3-5.3 2.8-5.3 2.8-5.3 2.7-5.3 2.6-5.4 2.7-5.4 2.6-5.4 2.5-5.4 2.6-5.5 2.6-5.4 2.5-5.4 2.6-5.4 2.5-5.5 2.6-5.4 2.6-5.4 2.7-5.4 2.6-5.3 2.8-5.4 2.8-5.3 2.8-5.3 3-5.2 3-5.2 3.1-5.1 3.3-5.1 3.3-4.9 3.5-4.9 3.7-4.7 3.8-4.6 4-4.5 4.3-4.3 4.4-4 4.6-3.8 4.9-3.6 5-3.2 5.2-3 5.4-2.6 5.5-2.4 5.7-2 5.7-1.8 5.8-1.5 5.9-1.3 5.8-1.2 6-.9 5.9-.8 6-.7 6-.5 5.9-.5 6-.4 6-.3 6-.3 6-.2 6-.2 6-.2 6-.1 6-.1 6-.1 6-.1 6-.1 6 0 6-.1 6 0 6-.1 1 0" stroke-opacity="0.014"/>
<path d="M61.1 277.6l2-.2 6-.4 5.9-.6 6-.8 5.9-1.1 5.9-1.3 5.7-1.6 5.7-2.1 5.4-2.4 5.3-2.9 5-3.4 4.6-3.8 4.4-4.1 4.1-4.4 3.8-4.6 3.5-4.8 3.3-5 3.2-5.2 2.9-5.2 2.8-5.3 2.7-5.4 2.6-5.4 2.4-5.5 2.4-5.5 2.3-5.5 2.3-5.6 2.2-5.5 2.2-5.6 2.1-5.6 2.1-5.6 2.1-5.7 2.1-5.6 2.1-5.6 2.1-5.6 2.1-5.7 2.1-5.6 2.2-5.6 2.1-5.6 2.2-5.6 2.3-5.5 2.3-5.6 2.4-5.5 2.4-5.4 2.5-5.5 2.7-5.4 2.7-5.3 2.9-5.3 3-5.2 3.2-5 3.4-5 3.7-4.7 3.8-4.6 4.2-4.3 4.4-4.1 4.7-3.7 5-3.4 5.2-2.9 5.5-2.6 5.5-2.1 5.8-1.8 5.8-1.5 5.9-1.2 5.9-1 5.9-.8 6-.6 6-.5 6-.4 5.9-.4 6-.2 6-.2 6-.2 6-.1 6-.1 6-.1 6-.1 6 0 6-.1 6 0 6 0 6-.1 6 0 6 0 6 0 6 0 6 0 6 0 6 0 6 0 6 0 6 0 2.5 0" stroke-opacity="0.036"/>
<path d="M61.1 277.6l2.8-.2 6-.4 6-.5 5.9-.6 6-.8 5.9-1 5.9-1.2 5.8-1.4 5.8-1.7 5.6-2 5.6-2.3 5.3-2.7 5.2-3 5-3.4 4.7-3.6 4.6-4 4.2-4.2 4.1-4.4 3.9-4.6 3.7-4.7 3.5-4.9 3.4-4.9 3.2-5.1 3.1-5.1 3-5.2 2.9-5.3 2.9-5.2 2.7-5.4 2.7-5.3 2.7-5.4 2.6-5.4 2.6-5.4 2.5-5.4 2.6-5.5 2.5-5.4 2.5-5.5 2.5-5.4 2.6-5.4 2.5-5.5 2.6-5.4 2.6-5.4 2.7-5.4 2.7-5.3 2.7-5.4 2.8-5.3 2.9-5.2 3-5.2 3.1-5.2 3.2-5.1 3.3-5 3.4-4.9 3.6-4.8 3.8-4.6 4-4.6 4.1-4.3 4.4-4.1 4.6-3.9 4.7-3.6 5-3.3 5.2-3.1 5.4-2.7 5.4-2.4 5.7-2.1 5.7-1.8 5.8-1.6 5.8-1.3 5.9-1.2 5.9-.9 6-.9 5.9-.6 6-.6 6-.5 6-.4 6-.3 6-.3 6-.2 6-.2 5.9-.2 6-.1 6-.2 6 0 6-.1 6-.1 6-.1 6 0 6 0 6-.1 4.5 0" stroke-opacity="0.141"/>
<path d="M61.1 277.6l.4 0 6-.4 6-.5 6-.6 5.9-.8 5.9-1 5.9-1.1 5.8-1.5 5.8-1.7 5.6-2.1 5.5-2.4 5.3-2.8 5.1-3.1 4.9-3.5 4.7-3.8 4.3-4.1 4.2-4.3 3.9-4.6 3.7-4.7 3.6-4.8 3.3-5 3.3-5.1 3-5.1 3-5.2 2.9-5.3 2.8-5.3 2.7-5.4 2.6-5.4 2.6-5.4 2.5-5.4 2.5-5.5 2.5-5.4 2.4-5.5 2.4-5.5 2.5-5.5 2.4-5.5 2.4-5.5 2.5-5.4 2.4-5.5 2.5-5.5 2.5-5.4 2.6-5.5 2.6-5.4 2.7-5.3 2.7-5.4 2.8-5.3 2.9-5.2 3-5.2 3.2-5.1 3.2-5 3.5-5 3.6-4.8 3.7-4.6 4-4.6 4.2-4.3 4.4-4 4.6-3.8 4.9-3.6 5-3.2 5.3-2.9 5.4-2.5 5.6-2.3 5.7-1.9 5.7-1.6 5.9-1.4 5.8-1.2 6-1 5.9-.8 6-.7 5.9-.6 6-.4 6-.4 6-.4 6-.2 6-.3 6-.1 6-.2 6-.1 6-.1 6-.1 6-.1 6-.1 6 0 6 0 6-.1 6 0 6 0 6 0 4.3-.1" stroke-opacity="0.033"/>
<path d="M61.1 277.6l2.9-.2 6-.4 6-.6 5.9-.7 6-.9 5.9-1.1 5.8-1.3 5.8-1.6 5.7-2 5.5-2.3 5.3-2.7 5.2-3.1 4.9-3.5 4.7-3.7 4.4-4.1 4.1-4.3 3.9-4.6 3.8-4.7 3.5-4.9 3.3-5 3.2-5 3-5.2 3-5.2 2.8-5.3 2.7-5.4 2.7-5.4 2.5-5.4 2.6-5.4 2.5-5.5 2.4-5.5 2.4-5.5 2.4-5.5 2.4-5.5 2.3-5.5 2.4-5.5 2.4-5.5 2.3-5.5 2.4-5.5 2.5-5.5 2.4-5.5 2.5-5.4 2.6-5.5 2.6-5.4 2.6-5.4 2.8-5.3 2.8-5.3 3-5.2 3-5.2 3.2-5 3.3-5 3.6-4.9 3.7-4.7 3.8-4.6 4.2-4.4 4.3-4.1 4.6-3.9 4.8-3.6 5-3.2 5.3-2.9 5.4-2.6 5.5-2.3 5.7-1.9 5.8-1.6 5.8-1.4 5.9-1.2 5.9-1 6-.8 6-.6 5.9-.6 6-.4 6-.4 6-.3 6-.3 6-.2 6-.1 6-.2 6-.1 6-.1 6-.1 6 0 6-.1 6 0 6-.1 6 0 6 0 6 0 6-.1 6 0 3.8 0" stroke-opacity="0.083"/>
<path d="M61.1 277.6l4.5-.3 6-.5 5.9-.5 6-.7 5.9-.9 5.9-1.1 5.9-1.3 5.7-1.6 5.7-2 5.6-2.2 5.4-2.7 5.2-3 4.9-3.3 4.8-3.7 4.5-4 4.2-4.2 4.1-4.4 3.8-4.7 3.6-4.8 3.5-4.9 3.2-5 3.2-5.1 3-5.2 2.9-5.2 2.9-5.3 2.7-5.4 2.7-5.3 2.6-5.4 2.6-5.4 2.5-5.5 2.5-5.4 2.4-5.5 2.5-5.5 2.4-5.5 2.5-5.5 2.4-5.4 2.4-5.5 2.5-5.5 2.5-5.5 2.5-5.4 2.6-5.4 2.6-5.4 2.6-5.4 2.7-5.4 2.8-5.3 2.9-5.2 3-5.2 3.1-5.2 3.2-5 3.4-5 3.5-4.9 3.7-4.7 3.9-4.6 4.1-4.3 4.3-4.2 4.6-3.9 4.7-3.7 5-3.3 5.2-3.1 5.3-2.6 5.5-2.4 5.7-2.1 5.7-1.8 5.8-1.5 5.9-1.2 5.9-1.1 5.9-.9 6-.8 5.9-.6 6-.5 6-.4 6-.4 6-.3 6-.2 6-.2 6-.2 6-.2 6-.1 6-.1 6 0 6-.1 6-.1 6 0 6-.1 6 0 6 0 6 0 5.8-.1" stroke-opacity="0.071"/>
<path d="M61.1 277.6l.9 0 5.9-.4 6-.5 6-.6 5.9-.8 6-.9 5.9-1.1 5.8-1.3 5.8-1.7 5.7-1.9 5.5-2.2 5.4-2.6 5.3-3 5-3.3 4.8-3.6 4.5-3.9 4.4-4.1 4.1-4.4 3.9-4.6 3.7-4.7 3.5-4.8 3.4-5 3.3-5 3.1-5.1 3-5.2 2.9-5.3 2.8-5.3 2.8-5.3 2.7-5.3 2.7-5.4 2.6-5.4 2.5-5.5 2.6-5.4 2.5-5.4 2.5-5.5 2.5-5.4 2.5-5.5 2.6-5.4 2.5-5.5 2.6-5.4 2.5-5.4 2.7-5.4 2.6-5.4 2.8-5.3 2.7-5.3 2.9-5.3 2.9-5.2 3.1-5.2 3.1-5.1 3.3-5 3.4-5 3.6-4.8 3.7-4.7 3.9-4.6 4.1-4.4 4.3-4.1 4.5-4 4.8-3.6 4.9-3.4 5.2-3.1 5.3-2.8 5.4-2.5 5.6-2.1 5.7-1.9 5.8-1.6 5.9-1.4 5.8-1.2 6-1 5.9-.8 6-.7 5.9-.6 6-.5 6-.4 6-.3 6-.3 6-.2 6-.2 6-.2 6-.1 6-.2 6 0 6-.1 6-.1 6-.1 6 0 6 0 6-.1 6 0 .9 0" stroke-opacity="0.059"/>
<path d="M61.1 277.6l5.9-.4 6-.4 5.9-.6 6-.6 6-.8 5.9-1 5.9-1.2 5.8-1.4 5.7-1.7 5.7-2 5.6-2.2 5.4-2.7 5.2-2.9 5-3.2 4.9-3.6 4.6-3.8 4.4-4.1 4.2-4.2 4-4.5 3.9-4.6 3.6-4.8 3.5-4.8 3.4-5 3.3-5 3.1-5.2 3.1-5.1 2.9-5.2 2.9-5.3 2.8-5.3 2.8-5.3 2.8-5.3 2.7-5.4 2.6-5.4 2.7-5.4 2.6-5.3 2.6-5.4 2.7-5.4 2.6-5.4 2.7-5.4 2.6-5.4 2.8-5.3 2.7-5.4 2.8-5.3 2.8-5.3 2.9-5.2 3-5.2 3-5.2 3.2-5.1 3.2-5 3.4-5 3.5-4.9 3.6-4.8 3.8-4.6 4-4.5 4.1-4.3 4.4-4.2 4.5-3.9 4.8-3.7 4.9-3.4 5.1-3.2 5.3-2.8 5.4-2.6 5.6-2.2 5.6-2 5.8-1.7 5.8-1.5 5.8-1.3 5.9-1.1 6-1 5.9-.8 6-.6 5.9-.6 6-.5 6-.4 6-.4 6-.3 6-.2 6-.2 6-.2 6-.1 6-.2 6-.1 6-.1 6 0 6-.1 6 0 3.8-.1" stroke-opacity="0.116"/>
<path d="M61.1 277.6l.7 0 6-.4 6-.5 5.9-.6 6-.7 5.9-.9 5.9-1.1 5.9-1.4 5.8-1.6 5.6-1.9 5.6-2.2 5.4-2.6 5.3-2.9 5-3.3 4.8-3.5 4.6-3.9 4.4-4.1 4.1-4.4 3.9-4.5 3.8-4.7 3.5-4.8 3.4-5 3.3-5 3.2-5.1 3-5.2 2.9-5.2 2.9-5.3 2.7-5.3 2.8-5.4 2.6-5.3 2.6-5.4 2.6-5.5 2.6-5.4 2.5-5.4 2.5-5.5 2.6-5.4 2.5-5.5 2.5-5.4 2.5-5.4 2.6-5.5 2.6-5.4 2.6-5.4 2.7-5.3 2.7-5.4 2.8-5.3 2.9-5.3 2.9-5.2 3.1-5.2 3.1-5.1 3.3-5 3.4-5 3.5-4.8 3.7-4.7 3.9-4.6 4.1-4.4 4.3-4.1 4.5-4 4.7-3.7 5-3.4 5.1-3.2 5.3-2.8 5.4-2.5 5.6-2.2 5.7-1.9 5.8-1.6 5.8-1.4 5.9-1.2 5.9-1 6-.9 5.9-.7 6-.6 6-.5 5.9-.4 6-.3 6-.3 6-.3 6-.2 6-.2 6-.1 6-.1 6-.1 6-.1 6-.1 6 0 6-.1 6 0 6-.1 6 0 .8 0" stroke-opacity="0.124"/>
<path d="M61.1 277.6l1.9-.1 6-.5 5.9-.6 6-.8 5.9-1 5.8-1.3 5.8-1.6 5.7-2.1 5.4-2.4 5.3-2.9 5-3.3 4.7-3.8 4.4-4 4.1-4.4 3.8-4.6 3.6-4.9 3.3-5 3.1-5.1 3-5.2 2.8-5.3 2.7-5.3 2.6-5.5 2.5-5.4 2.4-5.5 2.3-5.6 2.3-5.5 2.2-5.6 2.2-5.6 2.1-5.6 2.2-5.6 2.1-5.6 2.1-5.6 2.1-5.6 2.1-5.7 2.1-5.6 2.1-5.6 2.1-5.6 2.2-5.6 2.2-5.6 2.3-5.5 2.3-5.6 2.3-5.5 2.5-5.5 2.5-5.4 2.6-5.4 2.8-5.3 2.9-5.3 3-5.2 3.2-5 3.4-5 3.6-4.8 3.9-4.6 4.1-4.3 4.4-4.1 4.7-3.7 5-3.4 5.2-3 5.4-2.5 5.6-2.2 5.7-1.9 5.8-1.5 5.9-1.2 5.9-1 5.9-.8 6-.7 6-.5 6-.4 6-.3 6-.3 6-.2 5.9-.2 6-.1 6-.1 6-.1 6-.1 6 0 6-.1 6 0 6 0 6 0 6-.1 6 0 6 0 6 0 6 0 6 0 6 0 6 0 6 0 6 0 2.4 0" stroke-opacity="0.121"/>
<path d="M61.1 277.6l.1 0 6-.4 6-.4 5.9-.6 6-.7 5.9-.8 5.9-1 5.9-1.2 5.8-1.5 5.8-1.8 5.6-2 5.5-2.4 5.4-2.6 5.2-3.1 5-3.3 4.7-3.6 4.6-3.9 4.3-4.2 4.2-4.3 3.9-4.6 3.7-4.7 3.6-4.8 3.5-4.9 3.3-5 3.1-5.1 3.1-5.1 3-5.2 2.9-5.3 2.9-5.3 2.8-5.3 2.7-5.3 2.7-5.4 2.6-5.4 2.7-5.4 2.6-5.4 2.6-5.4 2.6-5.4 2.6-5.4 2.6-5.4 2.6-5.4 2.7-5.4 2.6-5.3 2.8-5.4 2.7-5.3 2.9-5.3 2.8-5.2 3-5.3 3.1-5.1 3.1-5.1 3.3-5.1 3.3-4.9 3.5-4.9 3.7-4.8 3.8-4.6 4-4.5 4.2-4.3 4.4-4.1 4.6-3.8 4.8-3.6 4.9-3.4 5.2-3 5.3-2.8 5.5-2.4 5.6-2.2 5.7-1.9 5.8-1.6 5.8-1.4 5.9-1.2 5.9-1.1 5.9-.8 6-.8 5.9-.6 6-.5 6-.5 6-.4 6-.3 6-.2 6-.3 6-.1 6-.2 6-.1 6-.1 6-.1 6-.1 6-.1 6 0 6-.1 4.7 0" stroke-opacity="0.133"/>
</g>
<path d="M61.11 277.55L64.36 277.29L67.61 276.99L70.86 276.63L74.11 276.20L77.36 275.68L80.61 275.06L83.86 274.32L87.11 273.42L90.36 272.35L93.61 271.08L96.86 269.58L100.11 267.79L103.36 265.69L106.61 263.22L109.86 260.33L113.11 256.97L116.36 253.08L119.61 248.60L122.86 243.48L126.11 237.68L129.36 231.15L132.61 223.87L135.86 215.83L139.11 207.05L142.36 197.58L145.61 187.48L148.86 176.85L152.11 165.83L155.36 154.55L156.99 148.86L158.61 143.17L160.24 137.50L161.86 131.87L163.49 126.29L165.11 120.78L166.74 115.38L168.36 110.08L169.99 104.90L171.61 99.86L173.24 94.97L174.86 90.24L176.49 85.68L178.11 81.30L179.74 77.09L181.36 73.06L182.99 69.21L184.61 65.55L186.24 62.07L187.86 58.77L189.49 55.65L191.11 52.70L192.74 49.92L194.36 47.31L195.99 44.85L197.61 42.54L199.24 40.37L200.86 38.35L202.49 36.46L204.11 34.69L205.74 33.04L207.36 31.50L208.99 30.07L210.61 28.73L212.24 27.49L213.86 26.34L215.49 25.27L217.11 24.28L218.74 23.36L220.36 22.51L221.99 21.72L223.61 20.98L225.24 20.30L226.86 19.68L228.49 19.10L230.11 18.56L231.74 18.06L233.36 17.60L234.99 17.18L236.61 16.78L238.24 16.42L239.86 16.09L241.49 15.78L243.11 15.49L244.74 15.23L246.36 14.98L247.99 14.76L249.61 14.55L251.24 14.36L252.86 14.18L254.49 14.02L256.11 13.87L257.74 13.73L259.36 13.60L260.99 13.48L262.61 13.37L264.24 13.27L265.86 13.18L267.49 13.09L269.11 13.01L270.74 12.94L272.36 12.87L273.99 12.81L275.61 12.75L277.24 12.70L278.86 12.65L280.49 12.60L282.11 12.56L283.74 12.52L285.36 12.49L286.99 12.45L288.61 12.42L290.24 12.40L291.86 12.37L293.49 12.35L295.11 12.32L296.74 12.30L298.36 12.29L299.99 12.27L301.61 12.25L303.24 12.24L304.86 12.22L306.49 12.21L308.11 12.20L309.74 12.19L311.36 12.18L312.99 12.17L314.61 12.16L316.24 12.15L317.86 12.15L319.49 12.14L321.11 12.13L322.74 12.13L324.36 12.12L325.99 12.12L327.61 12.11L329.24 12.11L330.86 12.11L332.49 12.10L334.11 12.10L335.74 12.10L337.36 12.09L338.99 12.09L340.61 12.09L342.24 12.09L343.86 12.08L345.49 12.08L347.11 12.08L348.74 12.08L350.36 12.08L351.99 12.08L353.61 12.08L355.24 12.07L356.86 12.07L358.49 12.07L360.11 12.07L361.74 12.07L363.36 12.07L364.99 12.07L366.61 12.07L368.24 12.07L369.86 12.07L371.49 12.07L373.11 12.07L374.74 12.07L376.36 12.07L377.99 12.06L379.61 12.06L381.24 12.06L382.86 12.06L384.49 12.06L386.11 12.06L387.74 12.06L389.36 12.06L390.99 12.06L392.61 12.06L394.24 12.06L395.86 12.06L397.49 12.06L399.11 12.06L400.74 12.06L402.36 12.06L403.99 12.06L405.61 12.06L407.24 12.06L408.86 12.06L410.49 12.06L412.11 12.06L413.74 12.06L415.36 12.06L416.99 12.06L418.61 12.06L420.24 12.06L421.86 12.06L423.49 12.06L425.11 12.06L426.74 12.06L428.36 12.06L429.99 12.06L431.61 12.06L433.24 12.06L434.86 12.06L436.49 12.06L438.11 12.06L439.74 12.06L441.36 12.06L442.99 12.06L444.61 12.06L446.24 12.06L447.86 12.06L449.49 12.06L451.11 12.06L452.74 12.06L454.36 12.06" fill="none" stroke="#4a4a4a" stroke-width="0.9" stroke-dasharray="0.8 1.95"/>
<path d="M61.11 277.63L64.36 277.44L67.61 277.23L70.86 277.00L74.11 276.75L77.36 276.48L80.61 276.17L83.86 275.84L87.11 275.46L90.36 275.05L93.61 274.59L96.86 274.09L100.11 273.53L103.36 272.92L106.61 272.24L109.86 271.49L113.11 270.67L116.36 269.77L119.61 268.77L122.86 267.69L126.11 266.50L129.36 265.19L132.61 263.77L135.86 262.22L139.11 260.53L142.36 258.69L145.61 256.70L148.86 254.55L152.11 252.21L155.36 249.70L156.99 248.37L158.61 246.99L160.24 245.56L161.86 244.08L163.49 242.55L165.11 240.97L166.74 239.33L168.36 237.64L169.99 235.89L171.61 234.09L173.24 232.23L174.86 230.31L176.49 228.34L178.11 226.31L179.74 224.23L181.36 222.09L182.99 219.89L184.61 217.64L186.24 215.33L187.86 212.96L189.49 210.54L191.11 208.07L192.74 205.55L194.36 202.98L195.99 200.35L197.61 197.68L199.24 194.96L200.86 192.20L202.49 189.40L204.11 186.56L205.74 183.68L207.36 180.76L208.99 177.81L210.61 174.84L212.24 171.83L213.86 168.81L215.49 165.76L217.11 162.69L218.74 159.61L220.36 156.52L221.99 153.42L223.61 150.32L225.24 147.21L226.86 144.11L228.49 141.01L230.11 137.92L231.74 134.85L233.36 131.78L234.99 128.74L236.61 125.72L238.24 122.72L239.86 119.75L241.49 116.80L243.11 113.89L244.74 111.02L246.36 108.18L247.99 105.38L249.61 102.62L251.24 99.90L252.86 97.23L254.49 94.61L256.11 92.03L257.74 89.50L259.36 87.03L260.99 84.60L262.61 82.23L264.24 79.91L265.86 77.64L267.49 75.42L269.11 73.26L270.74 71.16L272.36 69.10L273.99 67.10L275.61 65.16L277.24 63.27L278.86 61.43L280.49 59.65L282.11 57.92L283.74 56.23L285.36 54.60L286.99 53.03L288.61 51.50L290.24 50.01L291.86 48.58L293.49 47.19L295.11 45.85L296.74 44.56L298.36 43.31L299.99 42.10L301.61 40.93L303.24 39.80L304.86 38.72L306.49 37.67L308.11 36.66L309.74 35.68L311.36 34.75L312.99 33.84L314.61 32.97L316.24 32.13L317.86 31.33L319.49 30.55L321.11 29.81L322.74 29.09L324.36 28.40L325.99 27.73L327.61 27.09L329.24 26.48L330.86 25.89L332.49 25.33L334.11 24.78L335.74 24.26L337.36 23.76L338.99 23.28L340.61 22.81L342.24 22.37L343.86 21.94L345.49 21.54L347.11 21.14L348.74 20.77L350.36 20.41L351.99 20.06L353.61 19.73L355.24 19.41L356.86 19.10L358.49 18.81L360.11 18.53L361.74 18.26L363.36 18.00L364.99 17.75L366.61 17.51L368.24 17.29L369.86 17.07L371.49 16.86L373.11 16.66L374.74 16.46L376.36 16.28L377.99 16.10L379.61 15.93L381.24 15.77L382.86 15.62L384.49 15.47L386.11 15.33L387.74 15.19L389.36 15.06L390.99 14.93L392.61 14.81L394.24 14.70L395.86 14.59L397.49 14.48L399.11 14.38L400.74 14.28L402.36 14.19L403.99 14.10L405.61 14.01L407.24 13.93L408.86 13.85L410.49 13.78L412.11 13.71L413.74 13.64L415.36 13.57L416.99 13.51L418.61 13.45L420.24 13.39L421.86 13.33L423.49 13.28L425.11 13.23L426.74 13.18L428.36 13.13L429.99 13.09L431.61 13.04L433.24 13.00L434.86 12.96L436.49 12.93L438.11 12.89L439.74 12.86L441.36 12.82L442.99 12.79L444.61 12.76L446.24 12.73L447.86 12.70L449.49 12.68L451.11 12.65L452.74 12.63L454.36 12.60" fill="none" stroke="#222" stroke-width="1" stroke-dasharray="0.8 1.9 2.8 1.9"/>
<path d="M61.11 277.97L64.36 277.87L67.61 277.75L70.86 277.58L74.11 277.38L77.36 277.13L80.61 276.83L83.86 276.48L87.11 276.06L90.36 275.58L93.61 275.02L96.86 274.38L100.11 273.65L103.36 272.81L106.61 271.86L109.86 270.78L113.11 269.57L116.36 268.21L119.61 266.69L122.86 264.98L126.11 263.09L129.36 260.98L132.61 258.65L135.86 256.09L139.11 253.26L142.36 250.17L145.61 246.79L148.86 243.12L152.11 239.14L155.36 234.84L156.99 232.57L158.61 230.22L160.24 227.79L161.86 225.28L163.49 222.69L165.11 220.01L166.74 217.26L168.36 214.43L169.99 211.52L171.61 208.54L173.24 205.48L174.86 202.36L176.49 199.16L178.11 195.90L179.74 192.58L181.36 189.20L182.99 185.76L184.61 182.28L186.24 178.74L187.86 175.17L189.49 171.56L191.11 167.92L192.74 164.25L194.36 160.56L195.99 156.86L197.61 153.14L199.24 149.42L200.86 145.71L202.49 141.99L204.11 138.30L205.74 134.61L207.36 130.95L208.99 127.32L210.61 123.72L212.24 120.16L213.86 116.64L215.49 113.17L217.11 109.75L218.74 106.38L220.36 103.07L221.99 99.82L223.61 96.63L225.24 93.51L226.86 90.46L228.49 87.48L230.11 84.57L231.74 81.74L233.36 78.98L234.99 76.29L236.61 73.69L238.24 71.16L239.86 68.70L241.49 66.33L243.11 64.03L244.74 61.80L246.36 59.65L247.99 57.58L249.61 55.58L251.24 53.65L252.86 51.79L254.49 50.00L256.11 48.28L257.74 46.63L259.36 45.04L260.99 43.52L262.61 42.05L264.24 40.65L265.86 39.31L267.49 38.02L269.11 36.79L270.74 35.61L272.36 34.48L273.99 33.40L275.61 32.36L277.24 31.38L278.86 30.44L280.49 29.54L282.11 28.68L283.74 27.86L285.36 27.08L286.99 26.34L288.61 25.63L290.24 24.95L291.86 24.31L293.49 23.69L295.11 23.11L296.74 22.55L298.36 22.02L299.99 21.52L301.61 21.04L303.24 20.58L304.86 20.15L306.49 19.74L308.11 19.34L309.74 18.97L311.36 18.62L312.99 18.28L314.61 17.96L316.24 17.66L317.86 17.37L319.49 17.09L321.11 16.83L322.74 16.58L324.36 16.35L325.99 16.13L327.61 15.91L329.24 15.71L330.86 15.52L332.49 15.34L334.11 15.17L335.74 15.01L337.36 14.85L338.99 14.71L340.61 14.57L342.24 14.44L343.86 14.31L345.49 14.19L347.11 14.08L348.74 13.97L350.36 13.87L351.99 13.78L353.61 13.68L355.24 13.60L356.86 13.52L358.49 13.44L360.11 13.37L361.74 13.30L363.36 13.23L364.99 13.17L366.61 13.11L368.24 13.05L369.86 13.00L371.49 12.95L373.11 12.90L374.74 12.86L376.36 12.81L377.99 12.77L379.61 12.73L381.24 12.70L382.86 12.66L384.49 12.63L386.11 12.60L387.74 12.57L389.36 12.54L390.99 12.52L392.61 12.49L394.24 12.47L395.86 12.45L397.49 12.43L399.11 12.41L400.74 12.39L402.36 12.37L403.99 12.35L405.61 12.34L407.24 12.32L408.86 12.31L410.49 12.29L412.11 12.28L413.74 12.27L415.36 12.26L416.99 12.25L418.61 12.24L420.24 12.23L421.86 12.22L423.49 12.21L425.11 12.20L426.74 12.19L428.36 12.18L429.99 12.18L431.61 12.17L433.24 12.17L434.86 12.16L436.49 12.15L438.11 12.15L439.74 12.14L441.36 12.14L442.99 12.13L444.61 12.13L446.24 12.13L447.86 12.12L449.49 12.12L451.11 12.12L452.74 12.11L454.36 12.11" fill="none" stroke="#111" stroke-width="1.35" stroke-dasharray="3.9 4.415" stroke-dashoffset="-0.33" stroke-linecap="round"/>
<path d="M61.11 277.71L64.36 277.50L67.61 277.27L70.86 277.02L74.11 276.74L77.36 276.44L80.61 276.11L83.86 275.75L87.11 275.36L90.36 274.93L93.61 274.47L96.86 273.96L100.11 273.42L103.36 272.84L106.61 272.20L109.86 271.52L113.11 270.79L116.36 270.01L119.61 269.17L122.86 268.27L126.11 267.31L129.36 266.28L132.61 265.18L135.86 264.02L139.11 262.78L142.36 261.46L145.61 260.06L148.86 258.58L152.11 257.02L155.36 255.37L156.99 254.51L158.61 253.63L160.24 252.72L161.86 251.79L163.49 250.84L165.11 249.86L166.74 248.86L168.36 247.84L169.99 246.79L171.61 245.72L173.24 244.62L174.86 243.50L176.49 242.35L178.11 241.17L179.74 239.98L181.36 238.75L182.99 237.50L184.61 236.23L186.24 234.93L187.86 233.60L189.49 232.25L191.11 230.88L192.74 229.48L194.36 228.05L195.99 226.60L197.61 225.13L199.24 223.63L200.86 222.11L202.49 220.56L204.11 218.99L205.74 217.40L207.36 215.78L208.99 214.15L210.61 212.49L212.24 210.81L213.86 209.10L215.49 207.38L217.11 205.64L218.74 203.88L220.36 202.10L221.99 200.31L223.61 198.49L225.24 196.66L226.86 194.81L228.49 192.95L230.11 191.08L231.74 189.19L233.36 187.29L234.99 185.37L236.61 183.45L238.24 181.51L239.86 179.56L241.49 177.61L243.11 175.65L244.74 173.68L246.36 171.70L247.99 169.72L249.61 167.74L251.24 165.75L252.86 163.76L254.49 161.77L256.11 159.77L257.74 157.78L259.36 155.79L260.99 153.80L262.61 151.81L264.24 149.83L265.86 147.85L267.49 145.88L269.11 143.91L270.74 141.95L272.36 140.00L273.99 138.05L275.61 136.12L277.24 134.19L278.86 132.28L280.49 130.38L282.11 128.49L283.74 126.61L285.36 124.74L286.99 122.89L288.61 121.06L290.24 119.23L291.86 117.43L293.49 115.64L295.11 113.86L296.74 112.11L298.36 110.37L299.99 108.65L301.61 106.94L303.24 105.26L304.86 103.59L306.49 101.95L308.11 100.32L309.74 98.71L311.36 97.13L312.99 95.56L314.61 94.01L316.24 92.48L317.86 90.98L319.49 89.49L321.11 88.03L322.74 86.58L324.36 85.16L325.99 83.76L327.61 82.38L329.24 81.02L330.86 79.68L332.49 78.36L334.11 77.06L335.74 75.79L337.36 74.53L338.99 73.30L340.61 72.08L342.24 70.89L343.86 69.71L345.49 68.56L347.11 67.43L348.74 66.31L350.36 65.22L351.99 64.14L353.61 63.09L355.24 62.05L356.86 61.04L358.49 60.04L360.11 59.06L361.74 58.10L363.36 57.15L364.99 56.23L366.61 55.32L368.24 54.43L369.86 53.56L371.49 52.70L373.11 51.86L374.74 51.04L376.36 50.24L377.99 49.45L379.61 48.67L381.24 47.91L382.86 47.17L384.49 46.44L386.11 45.73L387.74 45.03L389.36 44.34L390.99 43.67L392.61 43.01L394.24 42.37L395.86 41.74L397.49 41.12L399.11 40.52L400.74 39.93L402.36 39.35L403.99 38.78L405.61 38.22L407.24 37.68L408.86 37.15L410.49 36.63L412.11 36.12L413.74 35.62L415.36 35.13L416.99 34.65L418.61 34.19L420.24 33.73L421.86 33.28L423.49 32.84L425.11 32.41L426.74 31.99L428.36 31.58L429.99 31.18L431.61 30.79L433.24 30.40L434.86 30.03L436.49 29.66L438.11 29.30L439.74 28.95L441.36 28.60L442.99 28.26L444.61 27.93L446.24 27.61L447.86 27.29L449.49 26.98L451.11 26.68L452.74 26.39L454.36 26.10" fill="none" stroke="#111" stroke-width="1.35" stroke-linecap="round"/>
<g stroke="#666" stroke-width="1.05" fill="none"><line x1="246.4" y1="59" x2="246.4" y2="170"/><polyline points="240.3,160.3 246.4,170 252.5,160.3"/></g>
<line x1="329.5" y1="137.4" x2="351.5" y2="137.4" stroke="#111" stroke-width="1.6" stroke-dasharray="3.7 4.45" stroke-linecap="round"/>
<line x1="329.5" y1="152.3" x2="351.5" y2="152.3" stroke="#111" stroke-width="1.6" stroke-linecap="round"/>
<text x="363.0" y="141.9" font-size="12.4">General ward</text>
<text x="363.0" y="156.5" font-size="12.4">ICU</text>
<rect x="42" y="1.55" width="428.2" height="286.75" fill="none" stroke="#747474" stroke-width="1.45"/>
<path d="M61.11 338.92L61.11 338.90L64.36 338.30L67.61 338.50L70.86 338.50L74.11 338.30L77.36 326.40L80.61 332.70L83.86 318.80L87.11 335.00L90.36 331.60L93.61 331.60L96.86 327.00L100.11 314.80L103.36 328.10L106.61 305.90L109.86 326.90L113.11 318.80L116.36 310.20L119.61 321.10L122.86 305.50L126.11 316.80L129.36 313.00L132.61 309.60L135.86 302.60L139.11 313.00L142.36 302.60L145.61 310.70L148.86 310.50L152.11 305.90L155.36 312.10L158.61 305.20L161.86 309.60L165.11 309.60L168.36 310.70L171.61 307.80L174.86 312.50L178.11 309.90L181.36 313.60L184.61 312.50L187.86 312.80L191.11 314.20L194.36 315.40L197.61 318.30L200.86 315.10L204.11 317.70L207.36 319.10L210.61 320.00L213.86 320.20L217.11 322.90L220.36 320.00L223.61 324.90L226.86 324.40L230.11 325.60L233.36 327.70L236.61 325.20L239.86 326.70L243.11 327.30L246.36 327.90L249.61 328.70L252.86 329.30L256.11 329.30L259.36 329.80L262.61 330.80L265.86 331.30L269.11 331.00L272.36 331.90L275.61 332.90L278.86 332.10L282.11 332.70L285.36 333.20L288.61 333.00L291.86 333.80L295.11 334.00L298.36 334.30L301.61 334.60L304.86 335.00L308.11 335.30L311.36 335.60L314.61 335.90L317.86 336.10L321.11 336.20L324.36 336.10L327.61 335.90L330.86 337.20L334.11 335.90L337.36 336.40L340.61 336.80L343.86 337.00L347.11 337.20L350.36 337.40L356.86 337.70L363.36 337.90L369.86 338.10L382.86 338.40L399.11 338.60L415.36 338.75L434.86 338.85L454.36 338.90L454.36 338.92Z" fill="#b4b4b4"/>
<rect x="42" y="300.55" width="428.2" height="39.9" fill="none" stroke="#747474" stroke-width="1.45"/>
<line x1="37" y1="278.06" x2="42" y2="278.06" stroke="#707070" stroke-width="1.5"/>
<text transform="translate(30.5 278.06) rotate(-90)" text-anchor="middle" font-size="10">0.0</text>
<line x1="37" y1="224.86" x2="42" y2="224.86" stroke="#707070" stroke-width="1.5"/>
<text transform="translate(30.5 224.86) rotate(-90)" text-anchor="middle" font-size="10">0.2</text>
<line x1="37" y1="171.66" x2="42" y2="171.66" stroke="#707070" stroke-width="1.5"/>
<text transform="translate(30.5 171.66) rotate(-90)" text-anchor="middle" font-size="10">0.4</text>
<line x1="37" y1="118.46" x2="42" y2="118.46" stroke="#707070" stroke-width="1.5"/>
<text transform="translate(30.5 118.46) rotate(-90)" text-anchor="middle" font-size="10">0.6</text>
<line x1="37" y1="65.26" x2="42" y2="65.26" stroke="#707070" stroke-width="1.5"/>
<text transform="translate(30.5 65.26) rotate(-90)" text-anchor="middle" font-size="10">0.8</text>
<line x1="37" y1="12.06" x2="42" y2="12.06" stroke="#707070" stroke-width="1.5"/>
<text transform="translate(30.5 12.06) rotate(-90)" text-anchor="middle" font-size="10">1.0</text>
<line x1="37" y1="338.92" x2="42" y2="338.92" stroke="#707070" stroke-width="1.5"/>
<text transform="translate(30.5 338.92) rotate(-90)" text-anchor="middle" font-size="10">0</text>
<line x1="37" y1="302.14" x2="42" y2="302.14" stroke="#707070" stroke-width="1.5"/>
<text transform="translate(30.5 302.14) rotate(-90)" text-anchor="middle" font-size="10">900</text>
<line x1="57.86" y1="340.4" x2="57.86" y2="345.8" stroke="#707070" stroke-width="1.5"/>
<text x="57.86" y="358.7" text-anchor="middle" font-size="10">0</text>
<line x1="122.86" y1="340.4" x2="122.86" y2="345.8" stroke="#707070" stroke-width="1.5"/>
<text x="122.86" y="358.7" text-anchor="middle" font-size="10">20</text>
<line x1="187.86" y1="340.4" x2="187.86" y2="345.8" stroke="#707070" stroke-width="1.5"/>
<text x="187.86" y="358.7" text-anchor="middle" font-size="10">40</text>
<line x1="252.86" y1="340.4" x2="252.86" y2="345.8" stroke="#707070" stroke-width="1.5"/>
<text x="252.86" y="358.7" text-anchor="middle" font-size="10">60</text>
<line x1="317.86" y1="340.4" x2="317.86" y2="345.8" stroke="#707070" stroke-width="1.5"/>
<text x="317.86" y="358.7" text-anchor="middle" font-size="10">80</text>
<line x1="382.86" y1="340.4" x2="382.86" y2="345.8" stroke="#707070" stroke-width="1.5"/>
<text x="382.86" y="358.7" text-anchor="middle" font-size="10">100</text>
<line x1="447.86" y1="340.4" x2="447.86" y2="345.8" stroke="#707070" stroke-width="1.5"/>
<text x="447.86" y="358.7" text-anchor="middle" font-size="10">120</text>
<text x="256.1" y="377.9" text-anchor="middle" font-size="12.4">SAPS II</text>
<text transform="translate(10.0 143.7) rotate(-90)" text-anchor="middle" font-size="12.5">Predicted short-term risk of death</text>
<text transform="translate(10.0 320.0) rotate(-90)" text-anchor="middle" font-size="12.4">Frequency</text>
</svg></body></html>
